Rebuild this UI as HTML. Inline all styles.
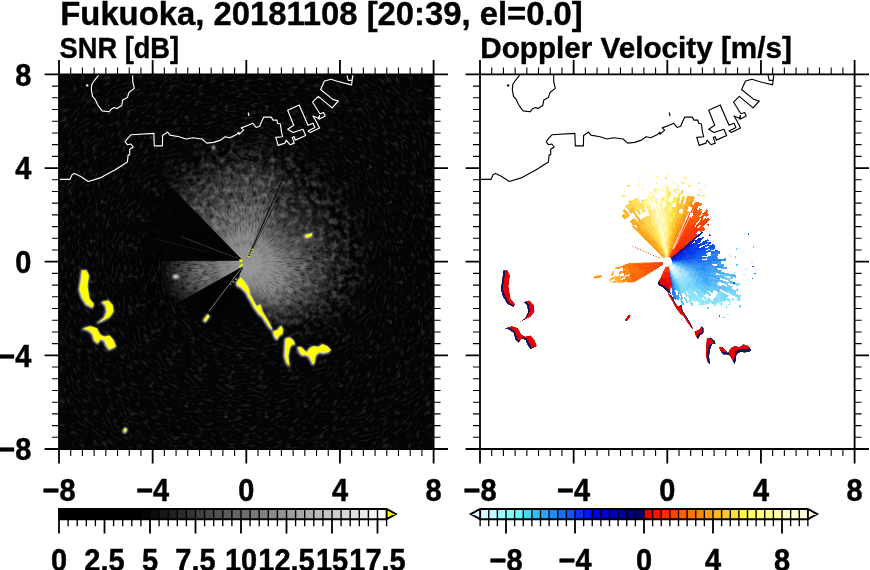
<!DOCTYPE html>
<html><head><meta charset="utf-8"><title>Fukuoka radar</title>
<style>html,body{margin:0;padding:0;background:#fff;}svg{display:block}</style></head>
<body>
<svg width="870" height="570" viewBox="0 0 870 570" font-family='"Liberation Sans", "DejaVu Sans", sans-serif' font-weight="bold" fill="#000" stroke-linejoin="round">
<defs>
<clipPath id="cl"><rect x="59" y="74.4" width="374.6" height="374.6"/></clipPath>
<radialGradient id="gb" gradientUnits="userSpaceOnUse" cx="251.3" cy="264.7" r="105"><stop offset="0" stop-color="#a4a4a4"/><stop offset="0.12" stop-color="#9a9a9a"/><stop offset="0.3" stop-color="#767676"/><stop offset="0.5" stop-color="#505050"/><stop offset="0.7" stop-color="#343434"/><stop offset="0.88" stop-color="#1c1c1c"/><stop offset="1" stop-color="#0e0e0e"/></radialGradient>
<filter id="b4" x="-30%" y="-30%" width="160%" height="160%"><feGaussianBlur stdDeviation="4"/></filter>
<filter id="b5" x="-30%" y="-30%" width="160%" height="160%"><feGaussianBlur stdDeviation="5"/></filter>
<filter id="b6" x="-30%" y="-30%" width="160%" height="160%"><feGaussianBlur stdDeviation="6"/></filter>
<filter id="b7" x="-30%" y="-30%" width="160%" height="160%"><feGaussianBlur stdDeviation="7"/></filter>
<filter id="b8" x="-30%" y="-30%" width="160%" height="160%"><feGaussianBlur stdDeviation="8"/></filter>
<filter id="bl1" x="-20%" y="-20%" width="140%" height="140%"><feGaussianBlur stdDeviation="0.9"/></filter>
<filter id="nz" x="0" y="0" width="100%" height="100%" color-interpolation-filters="sRGB"><feTurbulence type="fractalNoise" baseFrequency="0.14 0.42" numOctaves="2" seed="7"/><feColorMatrix type="matrix" values="0 0 0 0 1  0 0 0 0 1  0 0 0 0 1  0.47 0 0 0 -0.245"/></filter>
<filter id="nzd" x="0" y="0" width="100%" height="100%" color-interpolation-filters="sRGB"><feTurbulence type="fractalNoise" baseFrequency="0.16 0.6" numOctaves="2" seed="11"/><feColorMatrix type="matrix" values="0 0 0 0 0  0 0 0 0 0  0 0 0 0 0  0 2.4 0 0 -1.1"/></filter>
</defs>
<g clip-path="url(#cl)">
<rect x="58" y="73" width="377" height="377" fill="#040404"/>
<path d="M338.3 261.7C338.3 251.4 335.0 240.3 330.9 230.9C326.8 221.5 319.9 212.7 313.7 205.1C307.6 197.5 298.6 190.9 294.0 185.4C289.4 179.9 291.2 176.2 286.2 172.2C281.2 168.2 273.6 163.1 264.0 161.2C254.4 159.4 239.9 158.9 228.6 161.2C217.3 163.6 204.7 169.7 196.3 175.1C187.9 180.5 178.7 184.4 178.4 193.8C178.1 203.3 196.0 220.4 194.3 231.7C192.7 243.0 172.2 253.3 168.3 261.7C164.4 270.1 169.0 275.7 171.0 281.9C172.9 288.0 171.4 294.7 179.8 298.5C188.2 302.4 210.2 302.8 221.3 305.0C232.4 307.2 236.6 309.4 246.3 311.7C256.0 314.0 269.3 318.8 279.3 318.9C289.3 318.9 297.5 316.2 306.1 311.8C314.6 307.4 325.5 300.8 330.9 292.5C336.2 284.1 338.3 272.0 338.3 261.7Z" fill="#1b1b1b" filter="url(#b8)"/>
<path d="M322.3 261.7C321.0 253.3 316.6 244.6 312.1 237.8C307.6 230.9 300.8 225.3 295.3 220.6C289.8 215.8 281.9 214.4 279.2 209.1C276.4 203.8 281.8 194.0 278.8 188.6C275.9 183.3 269.1 178.9 261.2 177.0C253.3 175.1 240.7 174.7 231.4 177.0C222.0 179.3 211.8 185.5 205.3 190.7C198.8 195.8 191.5 199.5 192.6 208.0C193.6 216.5 214.7 232.7 211.7 241.7C208.6 250.7 180.1 255.3 174.3 261.7C168.5 268.1 175.0 274.7 176.8 280.3C178.5 286.0 176.8 293.0 185.1 295.6C193.3 298.3 216.1 295.3 226.3 296.3C236.5 297.4 238.0 298.8 246.3 301.7C254.6 304.6 267.4 312.8 276.3 313.7C285.2 314.5 292.7 310.9 299.9 306.7C307.1 302.5 315.9 295.9 319.6 288.4C323.3 280.9 323.6 270.1 322.3 261.7Z" fill="#404040" filter="url(#b7)"/>
<path d="M304.3 261.7C302.7 255.4 297.3 249.3 293.3 244.6C289.2 239.9 284.0 236.8 280.0 233.4C276.1 230.0 271.3 228.5 269.6 224.4C267.9 220.3 272.0 212.3 269.9 208.7C267.7 205.1 262.3 203.3 256.7 202.6C251.1 201.9 242.6 202.8 236.2 204.6C229.8 206.3 222.7 209.8 218.3 213.2C213.9 216.6 209.2 219.3 209.5 224.9C209.9 230.5 223.5 240.6 220.3 246.7C217.1 252.8 195.0 256.8 190.3 261.7C185.6 266.6 190.7 271.8 192.2 276.2C193.7 280.6 192.6 286.0 199.1 287.9C205.6 289.8 223.4 287.0 231.3 287.7C239.2 288.3 239.6 288.8 246.3 291.7C253.0 294.6 263.9 303.8 271.3 305.0C278.7 306.2 285.5 302.8 290.7 299.0C296.0 295.2 300.4 288.4 302.7 282.2C304.9 276.0 305.9 268.0 304.3 261.7Z" fill="#666666" filter="url(#b6)"/>
<path d="M286.3 261.7C284.4 257.4 279.2 254.0 276.4 250.8C273.5 247.5 271.6 244.8 269.3 242.4C266.9 240.0 263.6 238.5 262.2 236.3C260.8 234.0 262.5 230.8 260.9 228.8C259.4 226.8 256.4 224.7 252.9 224.3C249.4 223.8 244.0 224.9 240.0 226.2C236.1 227.6 232.0 230.1 229.3 232.3C226.6 234.4 223.7 235.8 223.7 239.1C223.6 242.3 230.5 247.9 229.0 251.7C227.4 255.5 216.6 258.7 214.3 261.7C212.0 264.7 214.4 267.6 215.4 270.0C216.4 272.4 216.9 274.2 220.1 276.2C223.2 278.3 229.9 280.9 234.3 282.5C238.7 284.1 241.0 283.4 246.3 285.7C251.6 288.0 260.7 295.6 266.3 296.3C271.9 297.1 276.4 293.2 280.0 290.0C283.6 286.7 286.6 281.5 287.6 276.7C288.7 272.0 288.2 266.0 286.3 261.7Z" fill="#8c8c8c" filter="url(#b5)"/>
<path d="M266.3 261.7C265.4 259.5 262.9 257.7 261.3 256.2C259.8 254.7 258.3 253.8 257.0 252.7C255.8 251.6 254.6 250.5 253.7 249.8C252.9 249.2 252.8 249.2 252.0 248.9C251.2 248.6 250.1 248.1 248.7 247.9C247.4 247.7 245.4 247.6 243.9 247.9C242.3 248.2 240.5 248.9 239.3 249.6C238.1 250.2 236.7 250.6 236.4 251.8C236.1 253.0 238.3 255.1 237.6 256.7C237.0 258.3 233.1 260.3 232.3 261.7C231.5 263.1 232.5 264.2 232.8 265.3C233.1 266.5 232.8 267.4 234.1 268.5C235.3 269.6 238.3 270.9 240.3 272.1C242.3 273.3 243.6 274.5 246.3 275.7C249.0 276.9 253.2 278.8 256.3 279.0C259.4 279.3 262.9 278.8 264.7 277.1C266.5 275.5 266.7 271.8 267.0 269.2C267.2 266.7 267.2 263.9 266.3 261.7Z" fill="#989898" filter="url(#b4)"/>
<radialGradient id="gm" gradientUnits="userSpaceOnUse" cx="251.3" cy="264.7" r="105"><stop offset="0" stop-color="#111"/><stop offset="0.2" stop-color="#444"/><stop offset="0.5" stop-color="#ccc"/><stop offset="1" stop-color="#fff"/></radialGradient>
<mask id="mk" maskUnits="userSpaceOnUse" x="130" y="150" width="240" height="230"><rect x="130" y="150" width="240" height="230" fill="url(#gm)"/></mask>
<g mask="url(#mk)">
<clipPath id="sb0"><path d="M246.3 261.7L359.4 282.3L361.1 268.6L361.1 254.8L359.4 241.1Z"/></clipPath>
<g clip-path="url(#sb0)"><g transform="rotate(-0.0 246.3 261.7)"><rect x="244.3" y="201.7" width="120" height="120" filter="url(#nzd)"/></g></g>
<clipPath id="sb1"><path d="M246.3 261.7L359.7 242.3L356.5 228.9L351.8 216.0L345.6 203.7Z"/></clipPath>
<g clip-path="url(#sb1)"><g transform="rotate(-20.0 246.3 261.7)"><rect x="244.3" y="201.7" width="120" height="120" filter="url(#nzd)"/></g></g>
<clipPath id="sb2"><path d="M246.3 261.7L346.2 204.7L338.7 193.2L329.8 182.6L319.8 173.2Z"/></clipPath>
<g clip-path="url(#sb2)"><g transform="rotate(-40.0 246.3 261.7)"><rect x="244.3" y="201.7" width="120" height="120" filter="url(#nzd)"/></g></g>
<clipPath id="sb3"><path d="M246.3 261.7L320.7 174.0L309.7 165.7L297.7 158.8L285.1 153.4Z"/></clipPath>
<g clip-path="url(#sb3)"><g transform="rotate(-60.0 246.3 261.7)"><rect x="244.3" y="201.7" width="120" height="120" filter="url(#nzd)"/></g></g>
<clipPath id="sb4"><path d="M246.3 261.7L286.2 153.8L273.0 149.8L259.5 147.5L245.7 146.7Z"/></clipPath>
<g clip-path="url(#sb4)"><g transform="rotate(-80.0 246.3 261.7)"><rect x="244.3" y="201.7" width="120" height="120" filter="url(#nzd)"/></g></g>
<clipPath id="sb5"><path d="M246.3 261.7L246.9 146.7L233.1 147.5L219.6 149.8L206.4 153.8Z"/></clipPath>
<g clip-path="url(#sb5)"><g transform="rotate(-100.0 246.3 261.7)"><rect x="244.3" y="201.7" width="120" height="120" filter="url(#nzd)"/></g></g>
<clipPath id="sb6"><path d="M246.3 261.7L207.5 153.4L194.9 158.8L182.9 165.7L171.9 174.0Z"/></clipPath>
<g clip-path="url(#sb6)"><g transform="rotate(-120.0 246.3 261.7)"><rect x="244.3" y="201.7" width="120" height="120" filter="url(#nzd)"/></g></g>
<clipPath id="sb9"><path d="M246.3 261.7L133.2 241.1L131.5 254.8L131.5 268.6L133.2 282.3Z"/></clipPath>
<g clip-path="url(#sb9)"><g transform="rotate(-180.0 246.3 261.7)"><rect x="244.3" y="201.7" width="120" height="120" filter="url(#nzd)"/></g></g>
<clipPath id="sb10"><path d="M246.3 261.7L132.9 281.1L136.1 294.5L140.8 307.4L147.0 319.7Z"/></clipPath>
<g clip-path="url(#sb10)"><g transform="rotate(-200.0 246.3 261.7)"><rect x="244.3" y="201.7" width="120" height="120" filter="url(#nzd)"/></g></g>
<clipPath id="sb15"><path d="M246.3 261.7L285.1 370.0L297.7 364.6L309.7 357.7L320.7 349.4Z"/></clipPath>
<g clip-path="url(#sb15)"><g transform="rotate(-300.0 246.3 261.7)"><rect x="244.3" y="201.7" width="120" height="120" filter="url(#nzd)"/></g></g>
<clipPath id="sb16"><path d="M246.3 261.7L319.8 350.2L329.8 340.8L338.7 330.2L346.2 318.7Z"/></clipPath>
<g clip-path="url(#sb16)"><g transform="rotate(-320.0 246.3 261.7)"><rect x="244.3" y="201.7" width="120" height="120" filter="url(#nzd)"/></g></g>
<clipPath id="sb17"><path d="M246.3 261.7L345.6 319.7L351.8 307.4L356.5 294.5L359.7 281.1Z"/></clipPath>
<g clip-path="url(#sb17)"><g transform="rotate(-340.0 246.3 261.7)"><rect x="244.3" y="201.7" width="120" height="120" filter="url(#nzd)"/></g></g>
</g>
<filter id="nzh" x="0" y="0" width="100%" height="100%" color-interpolation-filters="sRGB"><feTurbulence type="fractalNoise" baseFrequency="0.16 0.16" numOctaves="2" seed="23"/><feColorMatrix type="matrix" values="0 0 0 0 1  0 0 0 0 1  0 0 0 0 1  1.5 0 0 0 -0.6"/></filter>
<mask id="mh" maskUnits="userSpaceOnUse" x="100" y="110" width="300" height="300"><rect x="100" y="110" width="300" height="300" fill="#000"/><path d="M362.3 261.7C363.2 243.2 354.7 221.4 345.0 204.7C335.4 188.0 320.8 171.7 304.3 161.2C287.8 150.7 265.6 141.7 246.3 141.7C227.0 141.7 202.3 153.0 188.3 161.2C174.3 169.5 163.3 178.2 162.0 191.0C160.7 203.7 176.5 226.0 180.5 237.8C184.6 249.5 184.7 254.3 186.3 261.7C187.9 269.1 186.3 276.9 189.9 282.2C193.5 287.6 201.5 289.4 208.0 293.8C214.5 298.2 221.1 304.2 229.2 308.7C237.3 313.2 246.9 316.5 256.7 320.8C266.6 325.1 274.4 335.3 288.3 334.4C302.2 333.6 327.5 327.8 339.8 315.7C352.2 303.6 361.4 280.2 362.3 261.7Z" fill="#fff" filter="url(#b8)"/><circle cx="250.3" cy="263.7" r="42" fill="#000" filter="url(#b8)"/></mask>
<g mask="url(#mh)" opacity="0.36"><rect x="100" y="110" width="300" height="300" filter="url(#nzh)"/></g>
<path d="M242.8 260.6L155.7 171.0L147.1 180.2L139.5 190.2L133.0 200.9L127.5 212.3L123.3 224.1L120.2 236.3L118.4 248.7L117.8 261.3ZM242.6 266.8L130.6 328.9L144.4 348.9L161.6 365.9L181.8 379.4L204.1 388.9L227.8 393.9L252.1 394.4L276.0 390.4L298.7 381.8L281.0 336.0L272.0 326.0L262.0 313.0L250.0 298.0L241.0 284.0L239.0 275.0L243.0 268.0Z" fill="#040404"/>
<path d="M248.7 256.2L286.5 170.1" stroke="#050505" stroke-width="1.1" opacity="0.9"/>
<path d="M249.0 256.3L290.9 172.2" stroke="#050505" stroke-width="0.8" opacity="0.7"/>
<path d="M248.5 256.1L282.1 168.3" stroke="#050505" stroke-width="0.6" opacity="0.4"/>
<radialGradient id="gn" gradientUnits="userSpaceOnUse" cx="249.3" cy="261.7" r="100"><stop offset="0" stop-color="#000"/><stop offset="0.42" stop-color="#000"/><stop offset="0.85" stop-color="#fff"/><stop offset="1" stop-color="#fff"/></radialGradient>
<mask id="mn" maskUnits="userSpaceOnUse" x="58" y="73" width="377" height="377"><rect x="58" y="73" width="377" height="377" fill="#fff"/><circle cx="249.3" cy="261.7" r="100" fill="url(#gn)"/></mask>
<g mask="url(#mn)">
<clipPath id="sw0"><path d="M246.3 261.7L533.6 301.1L535.6 281.4L536.3 261.7L535.6 242.0L533.6 222.3Z"/></clipPath>
<g clip-path="url(#sw0)"><g transform="rotate(-90.0 246.3 261.7)"><rect x="-33.69999999999999" y="-18.30000000000001" width="560" height="560" filter="url(#nz)"/></g></g>
<clipPath id="sw1"><path d="M246.3 261.7L534.0 225.4L530.9 205.9L526.4 186.6L520.7 167.8L513.6 149.3Z"/></clipPath>
<g clip-path="url(#sw1)"><g transform="rotate(-105.0 246.3 261.7)"><rect x="-33.69999999999999" y="-18.30000000000001" width="560" height="560" filter="url(#nz)"/></g></g>
<clipPath id="sw2"><path d="M246.3 261.7L514.8 152.1L506.7 134.1L497.4 116.7L487.0 100.0L475.4 84.0Z"/></clipPath>
<g clip-path="url(#sw2)"><g transform="rotate(-120.0 246.3 261.7)"><rect x="-33.69999999999999" y="-18.30000000000001" width="560" height="560" filter="url(#nz)"/></g></g>
<clipPath id="sw3"><path d="M246.3 261.7L477.3 86.4L464.8 71.1L451.4 56.6L436.9 43.2L421.6 30.7Z"/></clipPath>
<g clip-path="url(#sw3)"><g transform="rotate(-135.0 246.3 261.7)"><rect x="-33.69999999999999" y="-18.30000000000001" width="560" height="560" filter="url(#nz)"/></g></g>
<clipPath id="sw4"><path d="M246.3 261.7L424.0 32.6L408.0 21.0L391.3 10.6L373.9 1.3L355.9 -6.8Z"/></clipPath>
<g clip-path="url(#sw4)"><g transform="rotate(-150.0 246.3 261.7)"><rect x="-33.69999999999999" y="-18.30000000000001" width="560" height="560" filter="url(#nz)"/></g></g>
<clipPath id="sw5"><path d="M246.3 261.7L358.7 -5.6L340.2 -12.7L321.4 -18.4L302.1 -22.9L282.6 -26.0Z"/></clipPath>
<g clip-path="url(#sw5)"><g transform="rotate(-165.0 246.3 261.7)"><rect x="-33.69999999999999" y="-18.30000000000001" width="560" height="560" filter="url(#nz)"/></g></g>
<clipPath id="sw6"><path d="M246.3 261.7L285.7 -25.6L266.0 -27.6L246.3 -28.3L226.6 -27.6L206.9 -25.6Z"/></clipPath>
<g clip-path="url(#sw6)"><g transform="rotate(-180.0 246.3 261.7)"><rect x="-33.69999999999999" y="-18.30000000000001" width="560" height="560" filter="url(#nz)"/></g></g>
<clipPath id="sw7"><path d="M246.3 261.7L210.0 -26.0L190.5 -22.9L171.2 -18.4L152.4 -12.7L133.9 -5.6Z"/></clipPath>
<g clip-path="url(#sw7)"><g transform="rotate(-195.0 246.3 261.7)"><rect x="-33.69999999999999" y="-18.30000000000001" width="560" height="560" filter="url(#nz)"/></g></g>
<clipPath id="sw8"><path d="M246.3 261.7L136.7 -6.8L118.7 1.3L101.3 10.6L84.6 21.0L68.6 32.6Z"/></clipPath>
<g clip-path="url(#sw8)"><g transform="rotate(-210.0 246.3 261.7)"><rect x="-33.69999999999999" y="-18.30000000000001" width="560" height="560" filter="url(#nz)"/></g></g>
<clipPath id="sw9"><path d="M246.3 261.7L71.0 30.7L55.7 43.2L41.2 56.6L27.8 71.1L15.3 86.4Z"/></clipPath>
<g clip-path="url(#sw9)"><g transform="rotate(-225.0 246.3 261.7)"><rect x="-33.69999999999999" y="-18.30000000000001" width="560" height="560" filter="url(#nz)"/></g></g>
<clipPath id="sw10"><path d="M246.3 261.7L17.2 84.0L5.6 100.0L-4.8 116.7L-14.1 134.1L-22.2 152.1Z"/></clipPath>
<g clip-path="url(#sw10)"><g transform="rotate(-240.0 246.3 261.7)"><rect x="-33.69999999999999" y="-18.30000000000001" width="560" height="560" filter="url(#nz)"/></g></g>
<clipPath id="sw11"><path d="M246.3 261.7L-21.0 149.3L-28.1 167.8L-33.8 186.6L-38.3 205.9L-41.4 225.4Z"/></clipPath>
<g clip-path="url(#sw11)"><g transform="rotate(-255.0 246.3 261.7)"><rect x="-33.69999999999999" y="-18.30000000000001" width="560" height="560" filter="url(#nz)"/></g></g>
<clipPath id="sw12"><path d="M246.3 261.7L-41.0 222.3L-43.0 242.0L-43.7 261.7L-43.0 281.4L-41.0 301.1Z"/></clipPath>
<g clip-path="url(#sw12)"><g transform="rotate(-270.0 246.3 261.7)"><rect x="-33.69999999999999" y="-18.30000000000001" width="560" height="560" filter="url(#nz)"/></g></g>
<clipPath id="sw13"><path d="M246.3 261.7L-41.4 298.0L-38.3 317.5L-33.8 336.8L-28.1 355.6L-21.0 374.1Z"/></clipPath>
<g clip-path="url(#sw13)"><g transform="rotate(-285.0 246.3 261.7)"><rect x="-33.69999999999999" y="-18.30000000000001" width="560" height="560" filter="url(#nz)"/></g></g>
<clipPath id="sw14"><path d="M246.3 261.7L-22.2 371.3L-14.1 389.3L-4.8 406.7L5.6 423.4L17.2 439.4Z"/></clipPath>
<g clip-path="url(#sw14)"><g transform="rotate(-300.0 246.3 261.7)"><rect x="-33.69999999999999" y="-18.30000000000001" width="560" height="560" filter="url(#nz)"/></g></g>
<clipPath id="sw15"><path d="M246.3 261.7L15.3 437.0L27.8 452.3L41.2 466.8L55.7 480.2L71.0 492.7Z"/></clipPath>
<g clip-path="url(#sw15)"><g transform="rotate(-315.0 246.3 261.7)"><rect x="-33.69999999999999" y="-18.30000000000001" width="560" height="560" filter="url(#nz)"/></g></g>
<clipPath id="sw16"><path d="M246.3 261.7L68.6 490.8L84.6 502.4L101.3 512.8L118.7 522.1L136.7 530.2Z"/></clipPath>
<g clip-path="url(#sw16)"><g transform="rotate(-330.0 246.3 261.7)"><rect x="-33.69999999999999" y="-18.30000000000001" width="560" height="560" filter="url(#nz)"/></g></g>
<clipPath id="sw17"><path d="M246.3 261.7L133.9 529.0L152.4 536.1L171.2 541.8L190.5 546.3L210.0 549.4Z"/></clipPath>
<g clip-path="url(#sw17)"><g transform="rotate(-345.0 246.3 261.7)"><rect x="-33.69999999999999" y="-18.30000000000001" width="560" height="560" filter="url(#nz)"/></g></g>
<clipPath id="sw18"><path d="M246.3 261.7L206.9 549.0L226.6 551.0L246.3 551.7L266.0 551.0L285.7 549.0Z"/></clipPath>
<g clip-path="url(#sw18)"><g transform="rotate(-360.0 246.3 261.7)"><rect x="-33.69999999999999" y="-18.30000000000001" width="560" height="560" filter="url(#nz)"/></g></g>
<clipPath id="sw19"><path d="M246.3 261.7L282.6 549.4L302.1 546.3L321.4 541.8L340.2 536.1L358.7 529.0Z"/></clipPath>
<g clip-path="url(#sw19)"><g transform="rotate(-375.0 246.3 261.7)"><rect x="-33.69999999999999" y="-18.30000000000001" width="560" height="560" filter="url(#nz)"/></g></g>
<clipPath id="sw20"><path d="M246.3 261.7L355.9 530.2L373.9 522.1L391.3 512.8L408.0 502.4L424.0 490.8Z"/></clipPath>
<g clip-path="url(#sw20)"><g transform="rotate(-390.0 246.3 261.7)"><rect x="-33.69999999999999" y="-18.30000000000001" width="560" height="560" filter="url(#nz)"/></g></g>
<clipPath id="sw21"><path d="M246.3 261.7L421.6 492.7L436.9 480.2L451.4 466.8L464.8 452.3L477.3 437.0Z"/></clipPath>
<g clip-path="url(#sw21)"><g transform="rotate(-405.0 246.3 261.7)"><rect x="-33.69999999999999" y="-18.30000000000001" width="560" height="560" filter="url(#nz)"/></g></g>
<clipPath id="sw22"><path d="M246.3 261.7L475.4 439.4L487.0 423.4L497.4 406.7L506.7 389.3L514.8 371.3Z"/></clipPath>
<g clip-path="url(#sw22)"><g transform="rotate(-420.0 246.3 261.7)"><rect x="-33.69999999999999" y="-18.30000000000001" width="560" height="560" filter="url(#nz)"/></g></g>
<clipPath id="sw23"><path d="M246.3 261.7L513.6 374.1L520.7 355.6L526.4 336.8L530.9 317.5L534.0 298.0Z"/></clipPath>
<g clip-path="url(#sw23)"><g transform="rotate(-435.0 246.3 261.7)"><rect x="-33.69999999999999" y="-18.30000000000001" width="560" height="560" filter="url(#nz)"/></g></g>
</g>
<path d="M242.8 260.6L171.7 187.5L164.7 195.0L158.5 203.2L153.2 211.9L148.7 221.2L145.3 230.8L142.8 240.7L141.3 250.9L140.8 261.1ZM242.6 266.8L181.4 300.7L184.7 306.1L188.4 311.1L192.6 315.8L197.1 320.0L202.1 323.9L207.3 327.3L212.9 330.2L218.7 332.6Z" fill="#040404" opacity="0.8"/>
<path d="M238.8 258.8L180.9 236.6" stroke="#999" stroke-width="0.7" opacity="0.45"/>
<path d="M242.7 266.5L209.0 311.2" stroke="#ddd" stroke-width="0.7" opacity="0.8"/>
<path d="M207.5 252.0L154.1 238.7" stroke="#555" stroke-width="0.7" opacity="0.3"/>
<ellipse cx="175.9" cy="276.6" rx="3.2" ry="2" fill="#ddd" filter="url(#bl1)"/>
<ellipse cx="213.5" cy="147.5" rx="1.2" ry="2.2" fill="#eee" filter="url(#bl1)"/>
<ellipse cx="125" cy="430.5" rx="2" ry="3" fill="#fff" filter="url(#bl1)" transform="rotate(25 125 430.5)"/>
<ellipse cx="125.3" cy="429.5" rx="1.3" ry="1.6" fill="#ff0"/>
<path d="M236.6 282.4L240.4 277.5L244.3 281.4L248.2 287.2L250.1 294.0L246.2 292.0L241.4 287.2L237.5 285.3ZM246.6 292.0L251.1 295.9L254.0 301.7L256.9 306.5L260.7 304.6L261.7 310.4L265.5 316.2L268.4 321.0L271.3 326.8L272.3 329.7L269.4 326.8L265.5 321.0L262.6 316.2L259.7 314.2L256.9 310.4L254.0 306.5L251.1 300.7L247.8 295.5ZM273.3 331.6L278.1 329.7L281.0 325.8L282.9 328.7L282.5 333.5L279.1 335.5L277.1 339.3L275.6 337.4L274.2 334.5ZM285.8 338.4L289.7 337.4L293.5 340.3L294.9 344.2L291.6 344.2L289.7 348.0L288.3 355.7L289.3 365.4L286.8 362.5L284.8 355.7L285.2 347.0ZM298.0 347.0L301.3 347.0L304.2 349.9L307.0 352.8L309.9 348.0L313.8 346.1L318.6 347.0L322.5 344.2L327.3 346.1L330.8 349.9L328.3 351.9L323.5 352.8L319.6 351.9L315.7 354.8L314.8 361.5L313.4 364.4L310.9 359.6L309.0 355.7L306.1 354.8L302.2 354.8L299.3 350.9ZM203.8 320.1L207.8 314.3L209.6 316.1L205.7 321.4ZM82.2 270.3L86.4 270.3L88.9 275.6L87.4 286.1L89.5 298.8L93.8 304.0L92.7 307.2L86.4 304.0L81.8 296.7L79.6 289.3L81.1 279.8ZM102.2 301.9L108.5 300.5L112.7 305.1L113.4 311.4L109.6 316.7L104.3 319.4L98.0 322.4L104.3 317.7L107.0 311.4L105.8 305.1ZM83.2 328.3L90.6 326.2L96.9 328.3L100.1 334.6L104.3 336.7L109.6 335.6L113.4 339.9L115.9 346.2L109.6 349.3L106.4 345.1L104.3 339.9L100.1 338.8L98.0 343.0L94.4 339.9L92.7 333.5L88.5 329.9ZM305.8 234.8L312.4 233.3L311.6 235.9L306.3 237.5Z" fill="#fff" stroke="#fff" stroke-width="1.6" stroke-linejoin="round" filter="url(#bl1)" opacity="0.85" transform="translate(-0.5 0.6)"/>
<path d="M236.6 282.4L240.4 277.5L244.3 281.4L248.2 287.2L250.1 294.0L246.2 292.0L241.4 287.2L237.5 285.3ZM246.6 292.0L251.1 295.9L254.0 301.7L256.9 306.5L260.7 304.6L261.7 310.4L265.5 316.2L268.4 321.0L271.3 326.8L272.3 329.7L269.4 326.8L265.5 321.0L262.6 316.2L259.7 314.2L256.9 310.4L254.0 306.5L251.1 300.7L247.8 295.5ZM273.3 331.6L278.1 329.7L281.0 325.8L282.9 328.7L282.5 333.5L279.1 335.5L277.1 339.3L275.6 337.4L274.2 334.5ZM285.8 338.4L289.7 337.4L293.5 340.3L294.9 344.2L291.6 344.2L289.7 348.0L288.3 355.7L289.3 365.4L286.8 362.5L284.8 355.7L285.2 347.0ZM298.0 347.0L301.3 347.0L304.2 349.9L307.0 352.8L309.9 348.0L313.8 346.1L318.6 347.0L322.5 344.2L327.3 346.1L330.8 349.9L328.3 351.9L323.5 352.8L319.6 351.9L315.7 354.8L314.8 361.5L313.4 364.4L310.9 359.6L309.0 355.7L306.1 354.8L302.2 354.8L299.3 350.9ZM203.8 320.1L207.8 314.3L209.6 316.1L205.7 321.4ZM82.2 270.3L86.4 270.3L88.9 275.6L87.4 286.1L89.5 298.8L93.8 304.0L92.7 307.2L86.4 304.0L81.8 296.7L79.6 289.3L81.1 279.8ZM102.2 301.9L108.5 300.5L112.7 305.1L113.4 311.4L109.6 316.7L104.3 319.4L98.0 322.4L104.3 317.7L107.0 311.4L105.8 305.1ZM83.2 328.3L90.6 326.2L96.9 328.3L100.1 334.6L104.3 336.7L109.6 335.6L113.4 339.9L115.9 346.2L109.6 349.3L106.4 345.1L104.3 339.9L100.1 338.8L98.0 343.0L94.4 339.9L92.7 333.5L88.5 329.9ZM305.8 234.8L312.4 233.3L311.6 235.9L306.3 237.5Z" fill="#ffff00"/>
<rect x="239.3" y="259.3" width="3.1" height="2.5" fill="#ff0"/>
<path d="M242.8 264L239.3 267" stroke="#ff0" stroke-width="1.3"/>
<path d="M248.6 257.2L252.6 248.6" stroke="#ff0" stroke-width="1.2" stroke-dasharray="1.4 1.2"/>
<path d="M236.5 278.5L230.5 284.5" stroke="#ff0" stroke-width="1.1" stroke-dasharray="1.6 2.2"/>
<path d="M98.7 75.1L94.5 80.3L91.8 84.3L91.3 89.5L92.5 96.4L95.2 99.4L97.5 104.5L99.8 107.9L102.1 110.9L109.0 111.8L111.3 109.1L114.3 107.5L117.1 108.6L121.7 105.6L122.8 99.9L127.4 97.6L129.0 92.5L134.3 88.4L132.7 81.5L132.7 75.1M59.6 179.4L69.9 179.4L72.2 174.6L74.5 173.4L80.3 176.2L88.3 181.5L101.0 177.6L114.8 170.0L127.4 162.0L128.1 155.1L129.7 154.6L129.7 149.3L133.2 147.0L130.9 144.0L127.4 144.7L125.1 141.7L128.1 137.8L130.9 134.8L153.9 133.4L154.3 145.9L162.4 145.9L162.6 135.5L167.6 132.1L169.9 135.1L179.1 136.7L186.0 139.0L192.9 137.8L202.1 139.0L206.7 143.1L213.6 142.4L220.5 140.1L225.1 136.7L229.7 137.8L236.6 134.4L238.9 132.1L239.0 134.4L243.6 130.2L241.3 127.9L248.2 125.2L252.8 123.3L256.2 127.5L259.7 126.3L261.5 121.7L263.8 117.1L271.2 117.1L273.0 120.1L276.9 120.1L277.6 123.3L280.4 124.0L281.5 132.1L282.7 136.7L275.8 137.4L278.1 145.4L285.0 143.1L286.1 140.1L290.0 144.7L294.2 143.1L292.3 137.4L294.2 136.7L295.3 140.1L305.7 135.5L302.9 129.3L293.0 132.5L287.7 129.3L293.7 125.2L287.7 110.2L299.2 104.9L308.0 125.2L313.0 123.3L314.9 127.5L308.0 130.9L310.3 132.5L319.5 127.9L316.0 121.0L313.0 116.0L318.3 118.3L319.5 115.5L319.0 119.2L325.2 116.0L323.6 112.5L319.9 113.7L312.6 102.2L318.3 96.4L332.1 107.9L338.3 101.0L332.8 99.4L320.6 89.5L324.5 81.0L331.0 79.2L337.9 81.5L351.6 84.9L352.8 75.1M347.0 75.1L348.2 80.3L351.6 80.3M248.2 112.5L249.1 116.0" fill="none" stroke="#fff" stroke-width="1.15" stroke-linejoin="round"/>
<circle cx="87.2" cy="85.4" r="1.2" fill="#fff"/>
</g>
<defs><clipPath id="cr"><rect x="480" y="74.4" width="374.6" height="374.6"/></clipPath>
<clipPath id="cw"><path d="M663.6 261.9L620.6 263.4L616.9 265.5L610.8 274.7L608.3 280.9L613.3 283.1L634.1 282.3L663.6 264.9Z"/></clipPath><clipPath id="cs"><path d="M665.5 266.7L658.5 282.3L669.8 292.2L671.2 284.5L668.8 266.7Z"/></clipPath></defs>
<g clip-path="url(#cr)">
<path d="M519.7 75.1L515.5 80.3L512.8 84.3L512.3 89.5L513.5 96.4L516.2 99.4L518.5 104.5L520.8 107.9L523.1 110.9L530.0 111.8L532.3 109.1L535.3 107.5L538.1 108.6L542.7 105.6L543.8 99.9L548.4 97.6L550.0 92.5L555.3 88.4L553.7 81.5L553.7 75.1M480.6 179.4L490.9 179.4L493.2 174.6L495.5 173.4L501.3 176.2L509.3 181.5L522.0 177.6L535.8 170.0L548.4 162.0L549.1 155.1L550.7 154.6L550.7 149.3L554.2 147.0L551.9 144.0L548.4 144.7L546.1 141.7L549.1 137.8L551.9 134.8L574.9 133.4L575.3 145.9L583.4 145.9L583.6 135.5L588.6 132.1L590.9 135.1L600.1 136.7L607.0 139.0L613.9 137.8L623.1 139.0L627.7 143.1L634.6 142.4L641.5 140.1L646.1 136.7L650.7 137.8L657.6 134.4L659.9 132.1L660.0 134.4L664.6 130.2L662.3 127.9L669.2 125.2L673.8 123.3L677.2 127.5L680.7 126.3L682.5 121.7L684.8 117.1L692.2 117.1L694.0 120.1L697.9 120.1L698.6 123.3L701.4 124.0L702.5 132.1L703.7 136.7L696.8 137.4L699.1 145.4L706.0 143.1L707.1 140.1L711.0 144.7L715.2 143.1L713.3 137.4L715.2 136.7L716.3 140.1L726.7 135.5L723.9 129.3L714.0 132.5L708.7 129.3L714.7 125.2L708.7 110.2L720.2 104.9L729.0 125.2L734.0 123.3L735.9 127.5L729.0 130.9L731.3 132.5L740.5 127.9L737.0 121.0L734.0 116.0L739.3 118.3L740.5 115.5L740.0 119.2L746.2 116.0L744.6 112.5L740.9 113.7L733.6 102.2L739.3 96.4L753.1 107.9L759.3 101.0L753.8 99.4L741.6 89.5L745.5 81.0L752.0 79.2L758.9 81.5L772.6 84.9L773.8 75.1M768.0 75.1L769.2 80.3L772.6 80.3M669.2 112.5L670.1 116.0" fill="none" stroke="#000" stroke-width="1.15" stroke-linejoin="round"/>
<circle cx="508.2" cy="85.4" r="1.2" fill="#000"/>
<g shape-rendering="crispEdges">
<path d="M664.2 258.5L660.4 254.7L660.7 254.4L664.3 258.4Z" fill="#ff9711"/>
<path d="M660.7 255.0L656.8 251.2L657.3 250.8L660.9 254.7Z" fill="#ff9c14"/>
<path d="M657.1 251.5L653.3 247.7L653.9 247.1L657.5 251.1Z" fill="#ffa318"/>
<path d="M653.6 248.0L649.7 244.2L650.5 243.4L654.2 247.4Z" fill="#ffa118"/>
<path d="M650.0 244.4L646.2 240.6L647.1 239.8L650.8 243.7Z" fill="#ffa91d"/>
<path d="M646.5 240.9L642.6 237.1L643.7 236.1L647.4 240.1Z" fill="#fb9313"/>
<path d="M642.9 237.4L639.1 233.6L640.3 232.4L644.0 236.4Z" fill="#ffa21c"/>
<path d="M639.4 233.9L635.5 230.1L636.9 228.8L640.6 232.7Z" fill="#ffb225"/>
<path d="M635.8 230.3L632.0 226.5L633.5 225.1L637.2 229.0Z" fill="#ffac23"/>
<path d="M625.2 219.8L621.3 216.0L623.3 214.1L627.0 218.0Z" fill="#ffb029"/>
<path d="M664.3 258.4L660.6 254.5L660.9 254.2L664.5 258.3Z" fill="#ffa218"/>
<path d="M660.9 254.8L657.2 250.8L657.7 250.4L661.2 254.5Z" fill="#ffa118"/>
<path d="M657.5 251.1L653.8 247.2L654.4 246.6L657.9 250.7Z" fill="#fc9312"/>
<path d="M654.1 247.5L650.4 243.5L651.1 242.9L654.7 246.9Z" fill="#ffa81e"/>
<path d="M650.6 243.8L646.9 239.9L647.9 239.1L651.4 243.2Z" fill="#fc9817"/>
<path d="M647.2 240.2L643.5 236.3L644.6 235.3L648.1 239.4Z" fill="#ffa920"/>
<path d="M643.8 236.6L640.1 232.6L641.3 231.5L644.9 235.6Z" fill="#fc9e1c"/>
<path d="M640.4 232.9L636.7 229.0L638.1 227.7L641.6 231.8Z" fill="#fb9d1d"/>
<path d="M633.5 225.6L629.8 221.7L631.5 220.1L635.1 224.2Z" fill="#fda826"/>
<path d="M626.7 218.3L623.7 215.2L625.7 213.4L628.5 216.7Z" fill="#ffc236"/>
<path d="M664.4 258.3L660.9 254.3L661.2 254.0L664.6 258.2Z" fill="#fd9312"/>
<path d="M661.1 254.6L657.6 250.5L658.1 250.1L661.4 254.3Z" fill="#ffab1e"/>
<path d="M657.8 250.8L654.3 246.7L654.9 246.2L658.3 250.4Z" fill="#ffa61d"/>
<path d="M654.6 247.0L651.0 243.0L651.8 242.3L655.2 246.5Z" fill="#ffb024"/>
<path d="M651.3 243.3L647.7 239.2L648.7 238.4L652.0 242.6Z" fill="#ffb125"/>
<path d="M648.0 239.5L644.4 235.4L645.5 234.5L648.9 238.7Z" fill="#fda31f"/>
<path d="M644.7 235.7L641.1 231.7L642.4 230.6L645.8 234.8Z" fill="#fea722"/>
<path d="M641.4 232.0L637.8 227.9L639.3 226.7L642.6 230.9Z" fill="#fca423"/>
<path d="M638.1 228.2L634.5 224.2L636.1 222.8L639.5 227.0Z" fill="#fca625"/>
<path d="M634.8 224.5L631.2 220.4L633.0 218.9L636.4 223.1Z" fill="#fba627"/>
<path d="M628.2 216.9L624.7 212.9L626.7 211.1L630.1 215.3Z" fill="#ffbc36"/>
<path d="M624.9 213.2L622.7 210.6L624.8 208.8L627.0 211.4Z" fill="#fdb433"/>
<path d="M664.6 258.2L661.1 254.0L661.5 253.8L664.7 258.1Z" fill="#fd9c18"/>
<path d="M661.4 254.3L658.0 250.2L658.5 249.8L661.7 254.1Z" fill="#ffa31c"/>
<path d="M658.2 250.5L654.8 246.3L655.5 245.8L658.7 250.1Z" fill="#ffac22"/>
<path d="M655.1 246.6L651.7 242.4L652.5 241.8L655.7 246.1Z" fill="#fb9c1b"/>
<path d="M651.9 242.7L648.5 238.5L649.5 237.8L652.7 242.1Z" fill="#ffb82b"/>
<path d="M648.8 238.8L645.3 234.7L646.5 233.8L649.7 238.1Z" fill="#fba020"/>
<path d="M645.6 235.0L642.2 230.8L643.5 229.8L646.7 234.1Z" fill="#ffb72d"/>
<path d="M642.4 231.1L639.0 226.9L640.5 225.7L643.7 230.1Z" fill="#ffbc31"/>
<path d="M639.3 227.2L635.9 223.0L637.5 221.7L640.7 226.1Z" fill="#fba729"/>
<path d="M636.1 223.3L632.7 219.2L634.5 217.7L637.7 222.1Z" fill="#ffbf37"/>
<path d="M664.7 258.1L661.4 253.8L661.7 253.6L664.8 258.0Z" fill="#ffb325"/>
<path d="M661.7 254.1L658.4 249.8L658.9 249.5L662.0 253.9Z" fill="#ffb628"/>
<path d="M658.6 250.2L655.4 245.8L656.0 245.4L659.1 249.8Z" fill="#fea722"/>
<path d="M655.6 246.2L652.3 241.9L653.2 241.3L656.3 245.7Z" fill="#feaa25"/>
<path d="M652.6 242.2L649.3 237.9L650.3 237.1L653.4 241.6Z" fill="#ffb129"/>
<path d="M649.6 238.2L646.3 233.9L647.5 233.0L650.6 237.5Z" fill="#ffba2f"/>
<path d="M646.5 234.2L643.3 229.9L644.6 228.9L647.7 233.4Z" fill="#fcaa29"/>
<path d="M643.5 230.2L640.3 225.9L641.8 224.8L644.9 229.3Z" fill="#ffbe35"/>
<path d="M640.5 226.3L637.2 222.0L638.9 220.7L642.0 225.2Z" fill="#ffc238"/>
<path d="M631.4 214.3L628.2 210.0L630.4 208.4L633.4 212.8Z" fill="#febc3b"/>
<path d="M628.4 210.3L625.3 206.3L627.7 204.5L630.6 208.7Z" fill="#ffcf46"/>
<path d="M664.8 258.0L661.7 253.6L662.0 253.4L665.0 257.9Z" fill="#ffae25"/>
<path d="M661.9 253.9L658.8 249.5L659.3 249.2L662.3 253.7Z" fill="#fdaa24"/>
<path d="M659.0 249.9L655.9 245.4L656.6 245.0L659.5 249.5Z" fill="#fdac27"/>
<path d="M656.2 245.8L653.0 241.4L653.9 240.8L656.8 245.3Z" fill="#fcab27"/>
<path d="M653.3 241.7L650.2 237.3L651.2 236.6L654.1 241.1Z" fill="#fbaa29"/>
<path d="M650.4 237.6L647.3 233.2L648.5 232.4L651.4 236.9Z" fill="#fcaf2c"/>
<path d="M647.5 233.5L644.4 229.1L645.8 228.2L648.7 232.7Z" fill="#ffc036"/>
<path d="M644.6 229.4L641.5 225.0L643.1 224.0L646.0 228.5Z" fill="#ffcb3d"/>
<path d="M641.7 225.3L638.6 220.9L640.4 219.8L643.3 224.3Z" fill="#fcb635"/>
<path d="M638.9 221.3L635.8 216.8L637.7 215.6L640.6 220.1Z" fill="#fbb536"/>
<path d="M636.0 217.2L632.9 212.8L635.0 211.4L637.9 215.9Z" fill="#ffc540"/>
<path d="M633.1 213.1L630.0 208.7L632.2 207.1L635.2 211.7Z" fill="#fdbf3f"/>
<path d="M630.2 209.0L627.1 204.6L629.5 202.9L632.5 207.5Z" fill="#ffd14a"/>
<path d="M664.9 257.9L662.0 253.4L662.3 253.2L665.1 257.8Z" fill="#fba623"/>
<path d="M662.2 253.8L659.2 249.2L659.8 248.9L662.5 253.5Z" fill="#ffb52c"/>
<path d="M659.5 249.6L656.5 245.0L657.2 244.6L660.0 249.2Z" fill="#ffc133"/>
<path d="M656.7 245.4L653.8 240.9L654.7 240.3L657.4 245.0Z" fill="#fcaf2c"/>
<path d="M654.0 241.2L651.0 236.7L652.1 236.0L654.9 240.7Z" fill="#ffc337"/>
<path d="M651.2 237.0L648.3 232.5L649.5 231.7L652.3 236.4Z" fill="#ffcb3d"/>
<path d="M648.5 232.8L645.6 228.3L647.0 227.4L649.7 232.1Z" fill="#ffc43b"/>
<path d="M645.8 228.6L642.8 224.1L644.4 223.1L647.2 227.8Z" fill="#ffcb40"/>
<path d="M643.0 224.5L640.1 219.9L641.8 218.8L644.6 223.5Z" fill="#fcba3a"/>
<path d="M634.8 211.9L631.9 207.4L634.2 206.0L636.9 210.6Z" fill="#ffca48"/>
<path d="M632.1 207.7L629.1 203.2L631.6 201.7L634.4 206.3Z" fill="#ffd850"/>
<path d="M629.3 203.5L628.1 201.6L630.6 200.0L631.8 202.0Z" fill="#ffcf4e"/>
<path d="M665.1 257.9L662.3 253.2L662.6 253.0L665.2 257.8Z" fill="#ffb92e"/>
<path d="M662.5 253.6L659.7 249.0L660.2 248.6L662.8 253.4Z" fill="#fdb62e"/>
<path d="M659.9 249.3L657.1 244.7L657.8 244.3L660.4 249.0Z" fill="#febb33"/>
<path d="M657.3 245.0L654.5 240.4L655.4 239.9L658.0 244.6Z" fill="#fcb632"/>
<path d="M654.7 240.7L651.9 236.1L653.0 235.5L655.6 240.2Z" fill="#febf38"/>
<path d="M652.1 236.5L649.3 231.8L650.6 231.1L653.2 235.8Z" fill="#ffd244"/>
<path d="M649.5 232.2L646.7 227.6L648.2 226.7L650.8 231.5Z" fill="#ffd446"/>
<path d="M646.9 227.9L644.1 223.3L645.8 222.4L648.4 227.1Z" fill="#ffcd45"/>
<path d="M644.3 223.6L641.6 219.0L643.4 218.0L646.0 222.7Z" fill="#ffcb46"/>
<path d="M639.2 215.1L636.4 210.5L638.5 209.2L641.1 213.9Z" fill="#fdca49"/>
<path d="M636.6 210.8L633.8 206.2L636.1 204.8L638.7 209.6Z" fill="#ffdd54"/>
<path d="M634.0 206.5L631.2 201.9L633.7 200.4L636.3 205.2Z" fill="#ffdd56"/>
<path d="M631.4 202.3L630.8 201.3L633.4 199.9L633.9 200.8Z" fill="#ffdc58"/>
<path d="M665.2 257.8L662.6 253.1L662.9 252.9L665.4 257.7Z" fill="#febb32"/>
<path d="M662.8 253.4L660.1 248.7L660.7 248.4L663.1 253.2Z" fill="#ffc739"/>
<path d="M660.3 249.0L657.7 244.3L658.4 243.9L660.9 248.8Z" fill="#fdbe36"/>
<path d="M657.9 244.7L655.3 240.0L656.2 239.5L658.6 244.3Z" fill="#ffc63c"/>
<path d="M655.4 240.3L652.8 235.6L653.9 235.0L656.4 239.8Z" fill="#ffd043"/>
<path d="M653.0 235.9L650.4 231.2L651.7 230.5L654.1 235.4Z" fill="#ffd045"/>
<path d="M650.6 231.6L647.9 226.9L649.4 226.1L651.8 230.9Z" fill="#fdc743"/>
<path d="M648.1 227.2L645.5 222.5L647.2 221.6L649.6 226.4Z" fill="#ffdb4f"/>
<path d="M645.7 222.9L643.1 218.1L644.9 217.2L647.3 222.0Z" fill="#ffd54e"/>
<path d="M638.4 209.8L635.7 205.0L638.1 203.8L640.6 208.6Z" fill="#ffdd57"/>
<path d="M635.9 205.4L633.3 200.7L635.9 199.3L638.3 204.1Z" fill="#ffe35c"/>
<path d="M633.5 201.0L632.6 199.5L635.3 198.1L636.1 199.7Z" fill="#ffe55f"/>
<path d="M665.3 257.7L662.9 252.9L663.2 252.7L665.5 257.6Z" fill="#ffce3d"/>
<path d="M663.1 253.3L660.6 248.4L661.2 248.2L663.4 253.1Z" fill="#ffd242"/>
<path d="M660.8 248.8L658.3 244.0L659.1 243.6L661.3 248.5Z" fill="#fec73f"/>
<path d="M658.5 244.4L656.0 239.6L657.0 239.1L659.2 244.0Z" fill="#ffd749"/>
<path d="M656.2 239.9L653.7 235.1L654.9 234.6L657.1 239.5Z" fill="#ffda4d"/>
<path d="M653.9 235.5L651.4 230.7L652.8 230.0L655.0 234.9Z" fill="#ffd74e"/>
<path d="M651.6 231.0L649.2 226.2L650.7 225.5L652.9 230.4Z" fill="#ffe155"/>
<path d="M649.3 226.6L646.9 221.8L648.6 220.9L650.8 225.8Z" fill="#ffe258"/>
<path d="M647.1 222.1L644.6 217.3L646.5 216.4L648.7 221.3Z" fill="#ffd856"/>
<path d="M642.5 213.2L640.0 208.4L642.3 207.3L644.5 212.2Z" fill="#ffe561"/>
<path d="M640.2 208.8L637.7 204.0L640.2 202.8L642.4 207.7Z" fill="#ffdd5f"/>
<path d="M637.9 204.3L635.4 199.5L638.1 198.2L640.3 203.1Z" fill="#ffe666"/>
<path d="M635.6 199.9L635.2 199.0L637.9 197.8L638.2 198.6Z" fill="#fcd962"/>
<path d="M665.5 257.6L663.2 252.7L663.6 252.6L665.7 257.6Z" fill="#ffd443"/>
<path d="M663.4 253.1L661.1 248.2L661.6 248.0L663.7 252.9Z" fill="#fecf43"/>
<path d="M661.2 248.6L658.9 243.7L659.7 243.4L661.8 248.3Z" fill="#ffd64a"/>
<path d="M659.1 244.1L656.8 239.2L657.8 238.7L659.8 243.7Z" fill="#ffdc50"/>
<path d="M657.0 239.5L654.7 234.6L655.8 234.1L657.9 239.1Z" fill="#ffda52"/>
<path d="M654.8 235.0L652.5 230.1L653.9 229.5L656.0 234.5Z" fill="#ffdf57"/>
<path d="M652.7 230.5L650.4 225.6L651.9 224.9L654.0 229.9Z" fill="#fbcd51"/>
<path d="M650.6 226.0L648.3 221.1L650.0 220.3L652.1 225.3Z" fill="#fcd356"/>
<path d="M648.5 221.4L646.2 216.5L648.1 215.7L650.2 220.7Z" fill="#ffdc5e"/>
<path d="M644.2 212.4L641.9 207.5L644.2 206.5L646.3 211.5Z" fill="#ffe769"/>
<path d="M642.1 207.9L639.8 203.0L642.3 201.9L644.3 206.8Z" fill="#fbd664"/>
<path d="M637.8 198.8L637.5 198.2L640.2 197.1L640.5 197.6Z" fill="#fcdd6d"/>
<path d="M665.6 257.6L663.5 252.6L663.9 252.4L665.8 257.5Z" fill="#fcce43"/>
<path d="M663.7 253.0L661.5 248.0L662.1 247.8L664.0 252.8Z" fill="#fbcc45"/>
<path d="M661.7 248.4L659.6 243.4L660.3 243.1L662.3 248.1Z" fill="#ffda4f"/>
<path d="M659.7 243.8L657.6 238.8L658.6 238.4L660.5 243.5Z" fill="#fed953"/>
<path d="M657.7 239.2L655.6 234.2L656.8 233.7L658.7 238.8Z" fill="#ffe15a"/>
<path d="M655.8 234.6L653.7 229.6L655.0 229.1L656.9 234.1Z" fill="#ffe35e"/>
<path d="M653.8 230.0L651.7 225.0L653.2 224.4L655.1 229.4Z" fill="#fdda5e"/>
<path d="M651.8 225.4L649.7 220.4L651.5 219.7L653.4 224.8Z" fill="#ffef6c"/>
<path d="M649.9 220.8L647.7 215.8L649.7 215.1L651.6 220.1Z" fill="#fbd764"/>
<path d="M644.0 207.0L641.8 202.0L644.4 201.0L646.3 206.1Z" fill="#fff37c"/>
<path d="M642.0 202.4L641.1 200.3L643.7 199.3L644.5 201.4Z" fill="#fbde76"/>
<path d="M665.8 257.5L663.8 252.5L664.2 252.3L665.9 257.4Z" fill="#ffe04e"/>
<path d="M664.0 252.8L662.0 247.8L662.6 247.6L664.3 252.7Z" fill="#fedc50"/>
<path d="M662.2 248.2L660.2 243.1L661.0 242.9L662.7 248.0Z" fill="#ffe458"/>
<path d="M660.3 243.5L658.4 238.5L659.4 238.1L661.1 243.2Z" fill="#fff163"/>
<path d="M658.5 238.9L656.6 233.8L657.8 233.4L659.5 238.5Z" fill="#ffee65"/>
<path d="M656.7 234.2L654.8 229.2L656.2 228.7L657.9 233.8Z" fill="#fee565"/>
<path d="M654.9 229.5L653.0 224.5L654.5 223.9L656.3 229.0Z" fill="#fff16f"/>
<path d="M653.1 224.9L651.2 219.8L652.9 219.2L654.7 224.3Z" fill="#ffee72"/>
<path d="M651.3 220.2L649.4 215.2L651.3 214.5L653.1 219.6Z" fill="#fee773"/>
<path d="M649.5 215.5L647.5 210.5L649.7 209.7L651.4 214.8Z" fill="#fce274"/>
<path d="M647.7 210.9L645.7 205.9L648.1 205.0L649.8 210.1Z" fill="#ffef7f"/>
<path d="M645.9 206.2L643.9 201.2L646.5 200.3L648.2 205.4Z" fill="#fffc8a"/>
<path d="M644.1 201.6L643.4 199.9L646.0 199.0L646.6 200.6Z" fill="#feec86"/>
<path d="M665.9 257.5L664.1 252.4L664.5 252.2L666.1 257.4Z" fill="#fcda61"/>
<path d="M664.3 252.7L662.5 247.6L663.1 247.4L664.7 252.6Z" fill="#ffe86c"/>
<path d="M662.6 248.0L660.9 242.9L661.6 242.6L663.2 247.8Z" fill="#ffeb72"/>
<path d="M661.0 243.3L659.2 238.2L660.2 237.9L661.8 243.0Z" fill="#fcdf6f"/>
<path d="M659.3 238.6L657.6 233.5L658.8 233.1L660.3 238.2Z" fill="#ffee7b"/>
<path d="M657.7 233.8L655.9 228.7L657.3 228.3L658.9 233.5Z" fill="#fff783"/>
<path d="M656.1 229.1L654.3 224.0L655.9 223.5L657.4 228.7Z" fill="#fee980"/>
<path d="M654.4 224.4L652.6 219.3L654.4 218.7L656.0 223.9Z" fill="#feec84"/>
<path d="M652.8 219.7L651.0 214.6L653.0 213.9L654.5 219.1Z" fill="#fde785"/>
<path d="M651.1 215.0L649.3 209.9L651.5 209.1L653.1 214.3Z" fill="#fdea89"/>
<path d="M649.5 210.2L647.7 205.1L650.1 204.4L651.6 209.5Z" fill="#feed8e"/>
<path d="M647.8 205.5L646.1 200.4L648.6 199.6L650.2 204.7Z" fill="#fffd99"/>
<path d="M646.2 200.8L645.7 199.5L648.4 198.7L648.8 200.0Z" fill="#fdec93"/>
<path d="M666.1 257.4L664.5 252.2L664.9 252.1L666.3 257.3Z" fill="#fee97f"/>
<path d="M664.6 252.6L663.0 247.5L663.6 247.3L665.0 252.5Z" fill="#fde781"/>
<path d="M663.1 247.8L661.5 242.7L662.3 242.5L663.7 247.7Z" fill="#fffa8f"/>
<path d="M661.6 243.1L660.0 237.9L661.0 237.6L662.4 242.8Z" fill="#ffee8c"/>
<path d="M660.2 238.3L658.6 233.1L659.8 232.8L661.1 238.0Z" fill="#fde98d"/>
<path d="M658.7 233.5L657.1 228.4L658.5 228.0L659.9 233.2Z" fill="#ffef93"/>
<path d="M657.2 228.7L655.6 223.6L657.2 223.1L658.6 228.3Z" fill="#fce692"/>
<path d="M655.7 224.0L654.1 218.8L655.9 218.3L657.3 223.5Z" fill="#fff59b"/>
<path d="M654.2 219.2L652.6 214.0L654.7 213.5L656.0 218.7Z" fill="#fff09a"/>
<path d="M652.8 214.4L651.2 209.3L653.4 208.6L654.8 213.8Z" fill="#fded9a"/>
<path d="M648.3 200.1L646.7 194.9L649.5 194.1L650.9 199.3Z" fill="#ffffa9"/>
<path d="M666.2 257.4L664.8 252.1L665.2 252.0L666.4 257.3Z" fill="#ffffa0"/>
<path d="M664.9 252.5L663.5 247.3L664.1 247.2L665.3 252.4Z" fill="#fdec9a"/>
<path d="M663.6 247.7L662.2 242.5L663.0 242.3L664.2 247.6Z" fill="#fff6a2"/>
<path d="M662.3 242.9L660.9 237.7L661.9 237.4L663.1 242.7Z" fill="#fff3a4"/>
<path d="M661.0 238.1L659.6 232.8L660.8 232.5L662.0 237.8Z" fill="#fff8aa"/>
<path d="M659.7 233.2L658.2 228.0L659.7 227.7L660.9 232.9Z" fill="#fff8ad"/>
<path d="M658.4 228.4L656.9 223.2L658.6 222.8L659.8 228.1Z" fill="#fffcb3"/>
<path d="M657.0 223.6L655.6 218.4L657.5 217.9L658.6 223.2Z" fill="#fcebaa"/>
<path d="M655.7 218.8L654.3 213.5L656.3 213.0L657.5 218.3Z" fill="#fffdb4"/>
<path d="M654.4 213.9L653.0 208.7L655.2 208.2L656.4 213.4Z" fill="#fdf0ae"/>
<path d="M651.8 204.3L650.4 199.1L653.0 198.4L654.2 203.7Z" fill="#fff7b2"/>
<path d="M650.5 199.5L649.5 196.0L652.3 195.3L653.1 198.8Z" fill="#fef3b0"/>
<path d="M666.4 257.3L665.1 252.1L665.5 252.0L666.6 257.3Z" fill="#fbeaac"/>
<path d="M665.2 252.5L664.0 247.2L664.6 247.1L665.6 252.4Z" fill="#fdf1b2"/>
<path d="M664.1 247.6L662.9 242.3L663.7 242.2L664.7 247.5Z" fill="#fff7b8"/>
<path d="M662.9 242.7L661.7 237.5L662.7 237.2L663.7 242.5Z" fill="#ffffc2"/>
<path d="M661.8 237.8L660.6 232.6L661.8 232.3L662.8 237.6Z" fill="#ffffc5"/>
<path d="M660.7 233.0L659.4 227.7L660.9 227.4L661.9 232.7Z" fill="#fffbc3"/>
<path d="M659.5 228.1L658.3 222.9L659.9 222.5L660.9 227.8Z" fill="#fbecbf"/>
<path d="M658.4 223.2L657.1 218.0L659.0 217.6L660.0 222.9Z" fill="#ffffca"/>
<path d="M657.2 218.4L656.0 213.1L658.0 212.7L659.1 218.0Z" fill="#fef8c4"/>
<path d="M656.1 213.5L654.9 208.3L657.1 207.8L658.1 213.1Z" fill="#fffcc5"/>
<path d="M655.0 208.6L653.7 203.4L656.2 202.9L657.2 208.2Z" fill="#fffdc5"/>
<path d="M653.8 203.8L652.6 198.5L655.2 197.9L656.3 203.3Z" fill="#ffffc8"/>
<path d="M652.7 198.9L651.4 193.6L654.3 193.0L655.3 198.3Z" fill="#fef6c0"/>
<path d="M666.5 257.3L665.5 252.0L665.9 251.9L666.7 257.3Z" fill="#fbedb4"/>
<path d="M665.6 252.4L664.5 247.1L665.1 247.0L665.9 252.3Z" fill="#ffffc1"/>
<path d="M664.6 247.5L663.5 242.2L664.4 242.0L665.2 247.4Z" fill="#ffffc2"/>
<path d="M663.6 242.6L662.6 237.3L663.6 237.1L664.4 242.4Z" fill="#fef8c1"/>
<path d="M662.6 237.7L661.6 232.4L662.8 232.2L663.7 237.5Z" fill="#fdf5c2"/>
<path d="M661.7 232.8L660.6 227.5L662.1 227.2L662.9 232.5Z" fill="#ffffca"/>
<path d="M660.7 227.9L659.7 222.6L661.3 222.3L662.1 227.6Z" fill="#ffffcd"/>
<path d="M659.7 223.0L658.7 217.7L660.5 217.3L661.4 222.7Z" fill="#f5f4ca"/>
<path d="M658.8 218.0L657.7 212.8L659.8 212.4L660.6 217.7Z" fill="#fefbca"/>
<path d="M657.8 213.1L656.7 207.8L659.0 207.4L659.8 212.8Z" fill="#fffcc9"/>
<path d="M656.8 208.2L655.8 202.9L658.2 202.5L659.1 207.8Z" fill="#fffac7"/>
<path d="M655.8 203.3L654.8 198.0L657.5 197.6L658.3 202.9Z" fill="#fcf0c1"/>
<path d="M653.9 193.5L652.9 188.3L655.9 187.7L656.8 193.0Z" fill="#fdf2bf"/>
<path d="M666.7 257.3L665.8 251.9L666.2 251.9L666.9 257.2Z" fill="#fffdb1"/>
<path d="M665.9 252.3L665.0 247.0L665.6 246.9L666.3 252.3Z" fill="#fbebab"/>
<path d="M665.1 247.4L664.2 242.1L665.0 241.9L665.7 247.3Z" fill="#ffffb7"/>
<path d="M664.3 242.5L663.4 237.1L664.5 237.0L665.1 242.3Z" fill="#ffffbe"/>
<path d="M663.5 237.5L662.6 232.2L663.9 232.0L664.5 237.4Z" fill="#ffffc1"/>
<path d="M662.7 232.6L661.8 227.2L663.3 227.0L663.9 232.4Z" fill="#ffffbf"/>
<path d="M661.9 227.6L661.0 222.3L662.7 222.1L663.3 227.4Z" fill="#fbedb9"/>
<path d="M661.1 222.7L660.2 217.4L662.1 217.1L662.7 222.5Z" fill="#ffffc5"/>
<path d="M660.3 217.8L659.4 212.4L661.5 212.2L662.1 217.5Z" fill="#fdf2bb"/>
<path d="M659.5 212.8L658.6 207.5L660.9 207.2L661.5 212.5Z" fill="#fffdbf"/>
<path d="M658.7 207.9L657.8 202.6L660.3 202.2L660.9 207.6Z" fill="#ffffc2"/>
<path d="M656.3 193.1L655.5 188.1L658.6 187.7L659.2 192.7Z" fill="#fffbb9"/>
<path d="M666.8 257.2L666.2 251.9L666.6 251.8L667.0 257.2Z" fill="#fffaa5"/>
<path d="M666.2 252.3L665.5 246.9L666.2 246.9L666.6 252.2Z" fill="#fbeaa0"/>
<path d="M665.6 247.3L664.9 242.0L665.7 241.9L666.2 247.3Z" fill="#fceda4"/>
<path d="M665.0 242.4L664.3 237.0L665.3 236.9L665.8 242.3Z" fill="#fef5ab"/>
<path d="M664.3 237.4L663.7 232.0L664.9 231.9L665.3 237.3Z" fill="#fbecaa"/>
<path d="M663.7 232.4L663.0 227.1L664.5 226.9L664.9 232.3Z" fill="#fbecac"/>
<path d="M663.1 227.5L662.4 222.1L664.1 221.9L664.5 227.3Z" fill="#fffbb6"/>
<path d="M662.4 222.5L661.8 217.2L663.6 217.0L664.1 222.3Z" fill="#ffffb7"/>
<path d="M661.8 217.6L661.1 212.2L663.2 212.0L663.7 217.4Z" fill="#ffffb7"/>
<path d="M661.2 212.6L660.5 207.2L662.8 207.0L663.3 212.4Z" fill="#fceeab"/>
<path d="M660.6 207.6L659.9 202.3L662.4 202.0L662.8 207.4Z" fill="#fdf2ac"/>
<path d="M659.9 202.7L659.3 197.3L662.0 197.0L662.4 202.4Z" fill="#fff7ad"/>
<path d="M667.0 257.2L666.5 251.8L666.9 251.8L667.2 257.2Z" fill="#fceb93"/>
<path d="M666.5 252.2L666.0 246.9L666.7 246.8L666.9 252.2Z" fill="#fff99c"/>
<path d="M666.1 247.3L665.6 241.9L666.4 241.8L666.7 247.2Z" fill="#fff69d"/>
<path d="M665.6 242.3L665.1 236.9L666.2 236.8L666.4 242.2Z" fill="#ffffa6"/>
<path d="M665.2 237.3L664.7 231.9L665.9 231.8L666.2 237.2Z" fill="#fff8a4"/>
<path d="M664.7 232.3L664.2 226.9L665.7 226.8L666.0 232.2Z" fill="#fffba8"/>
<path d="M664.3 227.3L663.8 222.0L665.5 221.8L665.7 227.2Z" fill="#fdf1a6"/>
<path d="M663.8 222.4L663.3 217.0L665.2 216.9L665.5 222.2Z" fill="#fff9aa"/>
<path d="M663.4 217.4L662.9 212.0L665.0 211.9L665.2 217.3Z" fill="#fdf0a4"/>
<path d="M662.9 212.4L662.4 207.0L664.7 206.9L665.0 212.3Z" fill="#fffeaa"/>
<path d="M662.0 202.4L661.5 197.1L664.2 196.9L664.5 202.3Z" fill="#fdefa0"/>
<path d="M661.1 192.5L660.7 188.3L663.8 188.1L664.0 192.3Z" fill="#fffba3"/>
<path d="M667.1 257.2L666.8 251.8L667.3 251.8L667.3 257.2Z" fill="#fff487"/>
<path d="M666.9 252.2L666.6 246.8L667.2 246.8L667.3 252.2Z" fill="#fce582"/>
<path d="M666.6 247.2L666.3 241.8L667.1 241.8L667.2 247.2Z" fill="#fce685"/>
<path d="M666.3 242.2L666.0 236.8L667.1 236.8L667.1 242.2Z" fill="#fff48f"/>
<path d="M666.0 237.2L665.7 231.8L667.0 231.8L667.1 237.2Z" fill="#fdeb8d"/>
<path d="M665.8 232.2L665.5 226.9L666.9 226.8L667.0 232.2Z" fill="#fffd99"/>
<path d="M665.5 227.3L665.2 221.9L666.8 221.8L666.9 227.2Z" fill="#fff396"/>
<path d="M665.2 222.3L664.9 216.9L666.8 216.8L666.8 222.2Z" fill="#feee93"/>
<path d="M664.9 217.3L664.6 211.9L666.7 211.8L666.8 217.2Z" fill="#fffc99"/>
<path d="M664.6 212.3L664.3 206.9L666.6 206.8L666.7 212.2Z" fill="#fbe68e"/>
<path d="M664.1 202.3L663.8 196.9L666.5 196.8L666.6 202.2Z" fill="#ffff9b"/>
<path d="M667.3 257.2L667.2 251.8L667.6 251.8L667.5 257.2Z" fill="#ffee74"/>
<path d="M667.2 252.2L667.1 246.8L667.7 246.8L667.6 252.2Z" fill="#fff378"/>
<path d="M667.1 247.2L667.0 241.8L667.8 241.8L667.7 247.2Z" fill="#fce171"/>
<path d="M667.0 242.2L666.9 236.8L667.9 236.8L667.8 242.2Z" fill="#ffef7b"/>
<path d="M666.9 237.2L666.8 231.8L668.0 231.8L667.9 237.2Z" fill="#fee979"/>
<path d="M666.8 232.2L666.7 226.8L668.1 226.8L668.0 232.2Z" fill="#fde67a"/>
<path d="M666.7 227.2L666.6 221.8L668.2 221.8L668.1 227.2Z" fill="#feea7e"/>
<path d="M666.6 222.2L666.5 216.8L668.3 216.8L668.2 222.2Z" fill="#fff284"/>
<path d="M666.5 217.2L666.4 211.8L668.4 211.8L668.3 217.2Z" fill="#feeb81"/>
<path d="M666.4 212.2L666.3 206.8L668.5 206.8L668.4 212.2Z" fill="#feec82"/>
<path d="M666.3 207.2L666.1 201.8L668.7 201.8L668.5 207.2Z" fill="#fce680"/>
<path d="M666.2 202.2L666.0 196.8L668.8 196.8L668.6 202.2Z" fill="#fff488"/>
<path d="M666.0 197.2L665.9 191.8L668.9 191.8L668.8 197.2Z" fill="#feef86"/>
<path d="M665.9 192.2L665.8 186.8L669.0 186.8L668.9 192.2Z" fill="#fff188"/>
<path d="M665.8 187.2L665.8 185.6L669.0 185.6L669.0 187.2Z" fill="#fff389"/>
<path d="M667.5 257.2L667.5 251.8L668.0 251.8L667.7 257.2Z" fill="#fcd859"/>
<path d="M667.5 252.2L667.6 246.8L668.2 246.8L667.9 252.2Z" fill="#fbd85a"/>
<path d="M667.6 247.2L667.7 241.8L668.5 241.8L668.2 247.2Z" fill="#fddd5f"/>
<path d="M667.7 242.2L667.7 236.8L668.8 236.8L668.5 242.2Z" fill="#fbda60"/>
<path d="M667.7 237.2L667.8 231.8L669.1 231.8L668.8 237.2Z" fill="#fff36e"/>
<path d="M667.8 232.2L667.9 226.8L669.3 226.9L669.0 232.2Z" fill="#ffe86b"/>
<path d="M667.9 227.2L668.0 221.8L669.6 221.9L669.3 227.3Z" fill="#fff171"/>
<path d="M668.0 222.2L668.0 216.8L669.9 216.9L669.6 222.3Z" fill="#fbdd69"/>
<path d="M668.0 217.2L668.1 211.8L670.2 211.9L669.9 217.3Z" fill="#ffeb72"/>
<path d="M668.1 212.2L668.2 206.8L670.5 206.9L670.2 212.3Z" fill="#fff77a"/>
<path d="M668.2 207.2L668.2 201.8L670.7 201.9L670.4 207.3Z" fill="#feeb75"/>
<path d="M668.3 197.2L668.4 191.8L671.3 191.9L671.0 197.3Z" fill="#fce576"/>
<path d="M668.4 192.2L668.4 190.7L671.4 190.9L671.3 192.3Z" fill="#feec7b"/>
<path d="M667.6 257.2L667.9 251.8L668.3 251.8L667.8 257.2Z" fill="#fdd748"/>
<path d="M667.9 252.2L668.1 246.8L668.8 246.9L668.3 252.2Z" fill="#fdd94b"/>
<path d="M668.1 247.2L668.4 241.8L669.2 241.9L668.7 247.3Z" fill="#fcd74c"/>
<path d="M668.4 242.2L668.6 236.8L669.7 236.9L669.2 242.3Z" fill="#fddc50"/>
<path d="M668.6 237.2L668.9 231.8L670.1 231.9L669.6 237.3Z" fill="#fddc52"/>
<path d="M668.8 232.2L669.1 226.8L670.6 226.9L670.1 232.3Z" fill="#ffe458"/>
<path d="M669.1 227.2L669.3 221.8L671.0 222.0L670.5 227.3Z" fill="#fbd954"/>
<path d="M669.3 222.2L669.6 216.9L671.5 217.0L671.0 222.4Z" fill="#fff364"/>
<path d="M669.6 217.3L669.8 211.9L671.9 212.0L671.4 217.4Z" fill="#fee45f"/>
<path d="M669.8 212.3L670.1 206.9L672.4 207.0L671.9 212.4Z" fill="#fff56b"/>
<path d="M670.1 207.3L670.3 201.9L672.8 202.0L672.3 207.4Z" fill="#ffef6b"/>
<path d="M667.8 257.2L668.2 251.8L668.6 251.9L668.0 257.2Z" fill="#ffde3b"/>
<path d="M668.2 252.2L668.6 246.9L669.3 246.9L668.6 252.3Z" fill="#fcd036"/>
<path d="M668.6 247.3L669.1 241.9L669.9 242.0L669.2 247.3Z" fill="#fcd238"/>
<path d="M669.0 242.3L669.5 236.9L670.5 237.0L669.8 242.4Z" fill="#fbcf38"/>
<path d="M669.5 237.3L669.9 231.9L671.1 232.0L670.5 237.4Z" fill="#fdd63d"/>
<path d="M669.9 232.3L670.3 226.9L671.8 227.1L671.1 232.4Z" fill="#fbd33d"/>
<path d="M670.3 227.3L670.7 221.9L672.4 222.1L671.7 227.5Z" fill="#fede44"/>
<path d="M670.7 222.3L671.2 217.0L673.0 217.2L672.4 222.5Z" fill="#ffef4f"/>
<path d="M671.1 217.4L671.6 212.0L673.7 212.2L673.0 217.6Z" fill="#fee04b"/>
<path d="M671.5 212.4L672.0 207.0L674.3 207.2L673.6 212.6Z" fill="#fde04f"/>
<path d="M672.4 202.4L672.8 197.0L675.5 197.3L674.9 202.7Z" fill="#ffee5e"/>
<path d="M673.2 192.4L673.5 188.5L676.6 188.8L676.1 192.7Z" fill="#fff065"/>
<path d="M667.9 257.2L668.6 251.9L669.0 251.9L668.1 257.3Z" fill="#fec930"/>
<path d="M668.5 252.3L669.2 246.9L669.8 247.0L668.9 252.3Z" fill="#ffda39"/>
<path d="M669.1 247.3L669.8 241.9L670.6 242.1L669.7 247.4Z" fill="#fbc12e"/>
<path d="M669.7 242.3L670.3 237.0L671.4 237.1L670.5 242.5Z" fill="#fbc431"/>
<path d="M670.3 237.4L670.9 232.0L672.2 232.2L671.3 237.5Z" fill="#ffda3d"/>
<path d="M670.9 232.4L671.5 227.0L673.0 227.2L672.1 232.6Z" fill="#fed13a"/>
<path d="M671.5 227.4L672.1 222.1L673.8 222.3L672.9 227.6Z" fill="#fbc938"/>
<path d="M672.1 222.5L672.7 217.1L674.6 217.4L673.7 222.7Z" fill="#ffd942"/>
<path d="M672.7 217.5L673.3 212.2L675.4 212.4L674.5 217.8Z" fill="#ffe74d"/>
<path d="M673.3 212.5L673.9 207.2L676.2 207.5L675.3 212.8Z" fill="#ffdc4b"/>
<path d="M674.4 202.6L675.1 197.3L677.8 197.6L676.9 203.0Z" fill="#ffeb59"/>
<path d="M668.1 257.3L668.9 251.9L669.3 252.0L668.3 257.3Z" fill="#fbb323"/>
<path d="M668.9 252.3L669.7 247.0L670.3 247.1L669.2 252.4Z" fill="#fdba28"/>
<path d="M669.6 247.4L670.4 242.0L671.3 242.2L670.2 247.5Z" fill="#fec02d"/>
<path d="M670.4 242.4L671.2 237.1L672.2 237.3L671.2 242.6Z" fill="#fdbf2d"/>
<path d="M671.1 237.5L672.0 232.2L673.2 232.4L672.2 237.7Z" fill="#fbba2c"/>
<path d="M671.9 232.5L672.7 227.2L674.2 227.5L673.1 232.8Z" fill="#fbbc2e"/>
<path d="M672.7 227.6L673.5 222.3L675.1 222.6L674.1 227.9Z" fill="#ffd83e"/>
<path d="M673.4 222.7L674.3 217.3L676.1 217.7L675.1 223.0Z" fill="#fcc437"/>
<path d="M674.2 217.7L675.0 212.4L677.1 212.8L676.0 218.0Z" fill="#ffd041"/>
<path d="M675.0 212.8L675.8 207.4L678.1 207.8L677.0 213.1Z" fill="#fed044"/>
<path d="M675.7 207.8L676.6 202.5L679.0 202.9L678.0 208.2Z" fill="#fcca44"/>
<path d="M676.5 202.9L677.3 197.6L680.0 198.0L679.0 203.3Z" fill="#fccd49"/>
<path d="M677.3 198.0L678.0 193.0L680.9 193.5L679.9 198.4Z" fill="#ffe759"/>
<path d="M668.2 257.3L669.3 252.0L669.7 252.1L668.4 257.3Z" fill="#fdab1e"/>
<path d="M669.2 252.4L670.2 247.1L670.8 247.2L669.6 252.5Z" fill="#fba71d"/>
<path d="M670.1 247.5L671.1 242.2L671.9 242.3L670.7 247.6Z" fill="#ffb827"/>
<path d="M671.1 242.5L672.1 237.2L673.1 237.5L671.9 242.7Z" fill="#ffb828"/>
<path d="M672.0 237.6L673.0 232.3L674.2 232.6L673.0 237.8Z" fill="#ffbd2b"/>
<path d="M672.9 232.7L673.9 227.4L675.4 227.7L674.1 233.0Z" fill="#feb92b"/>
<path d="M673.9 227.8L674.9 222.5L676.5 222.9L675.3 228.1Z" fill="#ffc231"/>
<path d="M674.8 222.9L675.8 217.6L677.7 218.0L676.4 223.2Z" fill="#ffc836"/>
<path d="M675.7 218.0L676.8 212.7L678.8 213.1L677.6 218.4Z" fill="#ffd03d"/>
<path d="M676.7 213.1L677.7 207.8L679.9 208.3L678.7 213.5Z" fill="#fdc239"/>
<path d="M677.6 208.2L678.6 202.9L681.1 203.4L679.8 208.6Z" fill="#ffc93f"/>
<path d="M680.4 193.4L681.1 190.1L684.0 190.8L683.3 194.0Z" fill="#ffdc51"/>
<path d="M668.4 257.3L669.6 252.0L670.0 252.1L668.6 257.4Z" fill="#fc9c15"/>
<path d="M669.5 252.4L670.7 247.2L671.3 247.3L669.9 252.5Z" fill="#fb9d17"/>
<path d="M670.6 247.6L671.8 242.3L672.6 242.5L671.2 247.7Z" fill="#fda41b"/>
<path d="M671.7 242.7L672.9 237.4L673.9 237.7L672.5 242.9Z" fill="#fca21c"/>
<path d="M672.8 237.8L674.0 232.5L675.2 232.8L673.8 238.1Z" fill="#feae23"/>
<path d="M673.9 232.9L675.1 227.7L676.6 228.0L675.1 233.2Z" fill="#ffb427"/>
<path d="M675.0 228.1L676.2 222.8L677.9 223.2L676.4 228.4Z" fill="#fdae26"/>
<path d="M676.2 223.2L677.3 217.9L679.2 218.4L677.8 223.6Z" fill="#fbad28"/>
<path d="M677.3 218.3L678.5 213.0L680.5 213.5L679.1 218.8Z" fill="#ffc336"/>
<path d="M679.5 208.6L680.7 203.3L683.1 203.9L681.7 209.1Z" fill="#fdbf3a"/>
<path d="M680.6 203.7L681.8 198.4L684.4 199.1L683.0 204.3Z" fill="#fcbe3c"/>
<path d="M681.7 198.8L682.3 196.2L685.0 196.8L684.3 199.5Z" fill="#fdc844"/>
<path d="M668.5 257.3L669.9 252.1L670.3 252.2L668.7 257.4Z" fill="#ffa71b"/>
<path d="M669.8 252.5L671.2 247.3L671.8 247.5L670.2 252.6Z" fill="#ffa319"/>
<path d="M671.1 247.7L672.5 242.5L673.3 242.7L671.7 247.8Z" fill="#ffa81d"/>
<path d="M672.4 242.8L673.8 237.6L674.8 237.9L673.2 243.1Z" fill="#ffa51d"/>
<path d="M673.7 238.0L675.0 232.8L676.2 233.1L674.6 238.3Z" fill="#ffa41d"/>
<path d="M674.9 233.2L676.3 228.0L677.7 228.4L676.1 233.5Z" fill="#ffb124"/>
<path d="M676.2 228.3L677.6 223.1L679.2 223.6L677.6 228.7Z" fill="#ffaf24"/>
<path d="M677.5 223.5L678.9 218.3L680.7 218.8L679.1 224.0Z" fill="#ffbb2d"/>
<path d="M678.8 218.7L680.1 213.5L682.2 214.0L680.6 219.2Z" fill="#ffb92f"/>
<path d="M681.3 209.0L682.7 203.8L685.1 204.5L683.5 209.6Z" fill="#ffc439"/>
<path d="M668.7 257.4L670.3 252.2L670.7 252.4L668.9 257.5Z" fill="#fd8c0d"/>
<path d="M670.1 252.6L671.7 247.4L672.3 247.6L670.5 252.7Z" fill="#fb880c"/>
<path d="M671.6 247.8L673.2 242.6L673.9 242.9L672.2 248.0Z" fill="#ff9e18"/>
<path d="M673.0 243.0L674.6 237.9L675.6 238.2L673.8 243.3Z" fill="#ff9b17"/>
<path d="M674.5 238.2L676.0 233.1L677.2 233.5L675.5 238.6Z" fill="#fb8e11"/>
<path d="M675.9 233.5L677.5 228.3L678.9 228.7L677.1 233.8Z" fill="#fb9113"/>
<path d="M677.4 228.7L678.9 223.5L680.5 224.0L678.7 229.1Z" fill="#fc9617"/>
<path d="M678.8 223.9L680.4 218.7L682.2 219.3L680.4 224.4Z" fill="#fea11e"/>
<path d="M680.3 219.1L681.8 213.9L683.8 214.6L682.0 219.7Z" fill="#ffb32a"/>
<path d="M681.7 214.3L683.3 209.1L685.5 209.9L683.7 215.0Z" fill="#ffba2f"/>
<path d="M683.2 209.5L684.7 204.4L687.1 205.1L685.3 210.2Z" fill="#fdaa29"/>
<path d="M684.6 204.7L686.2 199.6L688.7 200.4L687.0 205.5Z" fill="#feb22f"/>
<path d="M686.0 200.0L687.3 195.7L690.1 196.6L688.6 200.8Z" fill="#fbac2f"/>
<path d="M668.9 257.4L670.6 252.3L671.0 252.5L669.0 257.5Z" fill="#ff8f0e"/>
<path d="M670.5 252.7L672.2 247.6L672.8 247.8L670.8 252.8Z" fill="#fc7f07"/>
<path d="M672.1 248.0L673.8 242.9L674.6 243.1L672.6 248.2Z" fill="#ff8e0f"/>
<path d="M673.7 243.2L675.4 238.1L676.4 238.5L674.5 243.5Z" fill="#fc860b"/>
<path d="M675.3 238.5L677.0 233.4L678.2 233.8L676.3 238.9Z" fill="#ff9715"/>
<path d="M676.9 233.8L678.6 228.7L680.0 229.2L678.1 234.2Z" fill="#ff9213"/>
<path d="M678.5 229.0L680.3 223.9L681.8 224.5L679.9 229.5Z" fill="#ffa21c"/>
<path d="M680.1 224.3L681.9 219.2L683.6 219.8L681.7 224.9Z" fill="#ffa31e"/>
<path d="M681.7 219.6L683.5 214.5L685.4 215.2L683.5 220.2Z" fill="#fc9418"/>
<path d="M683.4 214.8L685.1 209.7L687.3 210.5L685.3 215.5Z" fill="#fd9e1f"/>
<path d="M685.0 210.1L686.7 205.0L689.1 205.9L687.1 210.9Z" fill="#ffa725"/>
<path d="M686.6 205.4L688.3 200.3L690.9 201.2L688.9 206.2Z" fill="#ffab29"/>
<path d="M688.2 200.6L689.8 195.8L692.6 196.8L690.7 201.6Z" fill="#ffbd34"/>
<path d="M669.0 257.5L670.9 252.4L671.3 252.6L669.2 257.6Z" fill="#ff8107"/>
<path d="M670.8 252.8L672.7 247.8L673.3 248.0L671.1 253.0Z" fill="#fc7502"/>
<path d="M672.5 248.1L674.5 243.1L675.2 243.4L673.1 248.4Z" fill="#ff8c0d"/>
<path d="M674.3 243.5L676.2 238.4L677.2 238.8L675.1 243.8Z" fill="#fe8309"/>
<path d="M676.1 238.8L678.0 233.7L679.2 234.2L677.1 239.2Z" fill="#fb7b06"/>
<path d="M677.9 234.1L679.8 229.1L681.1 229.6L679.0 234.6Z" fill="#ff9714"/>
<path d="M679.7 229.4L681.6 224.4L683.1 225.0L681.0 230.0Z" fill="#fb7f08"/>
<path d="M681.4 224.8L683.3 219.7L685.1 220.4L683.0 225.4Z" fill="#ff9314"/>
<path d="M683.2 220.1L685.1 215.1L687.1 215.8L684.9 220.8Z" fill="#ff9516"/>
<path d="M685.0 215.4L686.9 210.4L689.0 211.2L686.9 216.2Z" fill="#ffa420"/>
<path d="M688.5 206.1L690.4 201.0L693.0 202.0L690.8 207.0Z" fill="#fc9b1e"/>
<path d="M690.3 201.4L692.2 196.4L694.9 197.5L692.8 202.4Z" fill="#fea324"/>
<path d="M692.1 196.7L692.3 196.1L695.0 197.2L694.8 197.8Z" fill="#fda526"/>
<path d="M669.1 257.6L671.2 252.6L671.6 252.7L669.3 257.6Z" fill="#ff4f07"/>
<path d="M671.1 252.9L673.2 248.0L673.7 248.2L671.4 253.1Z" fill="#ff4c05"/>
<path d="M673.0 248.3L675.1 243.4L675.9 243.7L673.6 248.6Z" fill="#ff4d05"/>
<path d="M675.0 243.7L677.0 238.7L678.0 239.2L675.7 244.1Z" fill="#ff4702"/>
<path d="M676.9 239.1L679.0 234.1L680.1 234.6L677.8 239.5Z" fill="#fe4200"/>
<path d="M678.8 234.5L680.9 229.5L682.3 230.1L680.0 235.0Z" fill="#fc3c00"/>
<path d="M680.8 229.9L682.9 224.9L684.4 225.6L682.1 230.5Z" fill="#ff5607"/>
<path d="M682.7 225.3L684.8 220.3L686.5 221.1L684.2 226.0Z" fill="#ff5506"/>
<path d="M686.6 216.1L688.7 211.1L690.8 212.0L688.5 216.9Z" fill="#fc5b07"/>
<path d="M690.5 206.8L691.7 204.0L694.1 205.0L692.7 207.9Z" fill="#ff8018"/>
<path d="M669.3 257.6L671.6 252.7L671.9 252.9L669.5 257.7Z" fill="#ff4805"/>
<path d="M671.4 253.1L673.6 248.2L674.2 248.4L671.7 253.3Z" fill="#ff4202"/>
<path d="M673.5 248.5L675.7 243.6L676.5 244.0L674.0 248.8Z" fill="#ff4804"/>
<path d="M675.6 244.0L677.8 239.1L678.8 239.6L676.3 244.4Z" fill="#fe3d00"/>
<path d="M677.7 239.5L679.9 234.6L681.1 235.1L678.6 239.9Z" fill="#fb3400"/>
<path d="M679.8 234.9L682.0 230.0L683.4 230.7L680.9 235.5Z" fill="#ff4300"/>
<path d="M681.9 230.4L684.1 225.5L685.6 226.2L683.2 231.0Z" fill="#ff4902"/>
<path d="M684.0 225.8L686.2 220.9L687.9 221.8L685.5 226.6Z" fill="#fc4500"/>
<path d="M686.1 221.3L688.3 216.4L690.2 217.3L687.7 222.1Z" fill="#fe5305"/>
<path d="M690.3 212.2L692.5 207.3L694.8 208.4L692.3 213.2Z" fill="#fd610a"/>
<path d="M692.4 207.7L694.6 202.8L697.1 204.0L694.6 208.8Z" fill="#ff6e10"/>
<path d="M694.5 203.1L695.2 201.6L697.7 202.8L696.9 204.3Z" fill="#fe7311"/>
<path d="M669.4 257.7L671.9 252.9L672.2 253.1L669.6 257.8Z" fill="#ff4606"/>
<path d="M671.7 253.2L674.1 248.4L674.7 248.7L672.0 253.4Z" fill="#ff4103"/>
<path d="M673.9 248.8L676.4 243.9L677.1 244.3L674.5 249.0Z" fill="#ff4102"/>
<path d="M676.2 244.3L678.6 239.5L679.5 240.0L676.9 244.7Z" fill="#ff3f01"/>
<path d="M678.4 239.8L680.9 235.0L682.0 235.6L679.4 240.3Z" fill="#ff4704"/>
<path d="M680.7 235.4L683.1 230.5L684.4 231.2L681.8 235.9Z" fill="#fe3c00"/>
<path d="M683.0 230.9L685.4 226.1L686.9 226.9L684.2 231.6Z" fill="#ff4502"/>
<path d="M685.2 226.4L687.6 221.6L689.3 222.5L686.7 227.2Z" fill="#ff5006"/>
<path d="M687.5 222.0L689.9 217.2L691.7 218.1L689.1 222.9Z" fill="#ff5306"/>
<path d="M692.0 213.1L694.4 208.2L696.6 209.4L694.0 214.1Z" fill="#fc5606"/>
<path d="M694.2 208.6L696.7 203.8L699.1 205.0L696.4 209.8Z" fill="#ff6c0f"/>
<path d="M696.5 204.1L697.6 201.9L700.1 203.2L698.9 205.4Z" fill="#ff7714"/>
<path d="M669.6 257.8L672.2 253.0L672.5 253.2L669.7 257.9Z" fill="#fb3000"/>
<path d="M672.0 253.4L674.6 248.6L675.1 249.0L672.3 253.6Z" fill="#ff3e03"/>
<path d="M674.4 249.0L677.0 244.3L677.7 244.7L674.9 249.3Z" fill="#fa2d00"/>
<path d="M676.8 244.6L679.4 239.9L680.3 240.4L677.5 245.0Z" fill="#ff4104"/>
<path d="M679.2 240.2L681.8 235.5L682.9 236.1L680.1 240.7Z" fill="#ff4002"/>
<path d="M681.6 235.8L684.2 231.1L685.5 231.8L682.7 236.5Z" fill="#ff4a06"/>
<path d="M684.0 231.5L686.6 226.7L688.1 227.6L685.3 232.2Z" fill="#ff4b06"/>
<path d="M686.4 227.1L689.0 222.4L690.7 223.3L687.9 227.9Z" fill="#ff4c05"/>
<path d="M688.8 222.7L691.4 218.0L693.2 219.0L690.5 223.6Z" fill="#ff580a"/>
<path d="M691.2 218.3L693.8 213.6L695.8 214.7L693.0 219.4Z" fill="#ff5d0b"/>
<path d="M693.7 213.9L696.3 209.2L698.4 210.5L695.6 215.1Z" fill="#fd5506"/>
<path d="M698.5 205.2L700.0 202.4L702.5 203.8L700.8 206.5Z" fill="#ff7a15"/>
<path d="M669.7 257.8L672.5 253.2L672.8 253.4L669.9 257.9Z" fill="#f82500"/>
<path d="M672.3 253.5L675.0 248.9L675.6 249.2L672.6 253.8Z" fill="#fb3200"/>
<path d="M674.8 249.2L677.6 244.6L678.3 245.0L675.3 249.6Z" fill="#fa2d00"/>
<path d="M677.4 245.0L680.1 240.3L681.0 240.9L678.1 245.4Z" fill="#ff3c02"/>
<path d="M679.9 240.7L682.7 236.0L683.8 236.7L680.8 241.2Z" fill="#ff4406"/>
<path d="M682.5 236.4L685.3 231.7L686.5 232.5L683.6 237.0Z" fill="#ff4606"/>
<path d="M685.1 232.1L687.8 227.4L689.2 228.3L686.3 232.8Z" fill="#ff4403"/>
<path d="M687.6 227.8L690.4 223.1L692.0 224.1L689.0 228.6Z" fill="#fe4602"/>
<path d="M690.2 223.5L693.0 218.8L694.7 219.9L691.8 224.5Z" fill="#fc4601"/>
<path d="M692.7 219.2L695.5 214.5L697.5 215.8L694.5 220.3Z" fill="#ff5b09"/>
<path d="M695.3 214.9L698.1 210.2L700.2 211.6L697.2 216.1Z" fill="#fe5e09"/>
<path d="M697.9 210.6L699.4 208.0L701.6 209.4L700.0 211.9Z" fill="#fd6109"/>
<path d="M669.8 257.9L672.8 253.4L673.1 253.6L670.0 258.0Z" fill="#fc3302"/>
<path d="M672.5 253.7L675.5 249.2L676.0 249.5L672.9 253.9Z" fill="#ff3c06"/>
<path d="M675.3 249.5L678.2 245.0L678.9 245.4L675.8 249.9Z" fill="#fa2a00"/>
<path d="M678.0 245.3L680.9 240.8L681.8 241.4L678.6 245.8Z" fill="#fe3802"/>
<path d="M680.7 241.1L683.6 236.6L684.6 237.3L681.5 241.7Z" fill="#ff3e04"/>
<path d="M683.4 236.9L686.3 232.4L687.5 233.2L684.4 237.6Z" fill="#fd3000"/>
<path d="M686.1 232.7L689.0 228.2L690.4 229.1L687.3 233.5Z" fill="#fb3300"/>
<path d="M688.8 228.5L691.7 224.0L693.3 225.0L690.2 229.4Z" fill="#ff4a05"/>
<path d="M691.5 224.3L694.4 219.8L696.2 220.9L693.1 225.3Z" fill="#ff590a"/>
<path d="M694.2 220.1L697.1 215.6L699.0 216.8L695.9 221.3Z" fill="#ff5e0b"/>
<path d="M696.9 215.9L699.8 211.4L701.9 212.8L698.8 217.2Z" fill="#fe5e08"/>
<path d="M699.6 211.7L700.4 210.4L702.6 211.9L701.7 213.1Z" fill="#ff7311"/>
<path d="M670.0 258.0L673.1 253.6L673.4 253.8L670.1 258.1Z" fill="#fa2f01"/>
<path d="M672.8 253.9L675.9 249.5L676.4 249.8L673.1 254.1Z" fill="#fe3b07"/>
<path d="M675.7 249.8L678.8 245.4L679.4 245.8L676.2 250.2Z" fill="#f92800"/>
<path d="M678.5 245.7L681.6 241.3L682.5 241.9L679.2 246.2Z" fill="#f92500"/>
<path d="M681.4 241.6L684.5 237.1L685.5 237.9L682.2 242.2Z" fill="#fa2900"/>
<path d="M684.2 237.5L687.3 233.0L688.5 233.9L685.2 238.2Z" fill="#ff3801"/>
<path d="M687.1 233.4L690.2 228.9L691.5 229.9L688.3 234.2Z" fill="#ff4103"/>
<path d="M689.9 229.3L693.0 224.8L694.5 225.9L691.3 230.2Z" fill="#fc3d00"/>
<path d="M692.8 225.2L695.9 220.7L697.6 222.0L694.3 226.3Z" fill="#fc4401"/>
<path d="M695.7 221.1L698.7 216.6L700.6 218.0L697.3 222.3Z" fill="#ff5909"/>
<path d="M701.4 212.8L701.9 212.1L703.9 213.6L703.4 214.3Z" fill="#fe640a"/>
<path d="M670.1 258.1L673.3 253.8L673.7 254.0L670.2 258.2Z" fill="#f62400"/>
<path d="M673.1 254.1L676.3 249.8L676.8 250.2L673.4 254.3Z" fill="#fc3505"/>
<path d="M676.1 250.1L679.3 245.8L680.0 246.3L676.6 250.5Z" fill="#fb3202"/>
<path d="M679.1 246.1L682.3 241.8L683.1 242.4L679.7 246.6Z" fill="#fe3b06"/>
<path d="M682.1 242.1L685.3 237.8L686.3 238.5L682.9 242.7Z" fill="#fa2a00"/>
<path d="M685.1 238.1L688.3 233.8L689.5 234.7L686.0 238.8Z" fill="#fe3903"/>
<path d="M688.1 234.1L691.3 229.8L692.6 230.8L689.2 235.0Z" fill="#ff4105"/>
<path d="M691.1 230.1L694.3 225.7L695.8 226.9L692.4 231.1Z" fill="#fd3d02"/>
<path d="M700.0 218.1L703.3 213.7L705.3 215.3L701.8 219.5Z" fill="#fb4802"/>
<path d="M703.0 214.1L706.3 209.7L708.4 211.4L705.0 215.6Z" fill="#fa4d02"/>
<path d="M706.0 210.1L706.6 209.3L708.7 211.0L708.2 211.7Z" fill="#ff650d"/>
<path d="M670.2 258.2L673.6 254.0L673.9 254.3L670.4 258.3Z" fill="#f82c03"/>
<path d="M673.4 254.3L676.7 250.1L677.2 250.5L673.7 254.6Z" fill="#fb3506"/>
<path d="M676.5 250.4L679.9 246.2L680.5 246.7L677.0 250.8Z" fill="#fc3806"/>
<path d="M679.6 246.5L683.0 242.3L683.8 243.0L680.2 247.0Z" fill="#fb3102"/>
<path d="M682.8 242.6L686.1 238.4L687.1 239.2L683.5 243.3Z" fill="#ff3d07"/>
<path d="M685.9 238.7L689.3 234.5L690.4 235.4L686.8 239.5Z" fill="#f92700"/>
<path d="M689.0 234.8L692.4 230.6L693.7 231.7L690.1 235.7Z" fill="#f92c00"/>
<path d="M692.2 230.9L695.5 226.7L697.0 227.9L693.4 232.0Z" fill="#f93100"/>
<path d="M695.3 227.0L698.7 222.8L700.3 224.2L696.7 228.2Z" fill="#fa3b00"/>
<path d="M698.4 223.1L701.8 218.9L703.6 220.4L700.0 224.5Z" fill="#fc4905"/>
<path d="M704.7 215.3L706.8 212.6L708.9 214.3L706.6 216.9Z" fill="#fc5307"/>
<path d="M670.3 258.3L673.9 254.2L674.2 254.5L670.5 258.4Z" fill="#f11900"/>
<path d="M673.6 254.5L677.1 250.4L677.6 250.8L673.9 254.8Z" fill="#f72901"/>
<path d="M676.9 250.7L680.4 246.6L681.0 247.2L677.3 251.1Z" fill="#f62600"/>
<path d="M680.1 246.9L683.7 242.9L684.4 243.5L680.7 247.5Z" fill="#fa3203"/>
<path d="M683.4 243.2L686.9 239.1L687.9 239.9L684.2 243.8Z" fill="#fa2f00"/>
<path d="M686.7 239.4L690.2 235.3L691.3 236.3L687.6 240.2Z" fill="#ff4007"/>
<path d="M689.9 235.6L693.5 231.5L694.7 232.6L691.0 236.6Z" fill="#ff4508"/>
<path d="M693.2 231.8L696.7 227.7L698.1 229.0L694.4 232.9Z" fill="#f83300"/>
<path d="M699.7 224.2L703.3 220.1L705.0 221.7L701.3 225.6Z" fill="#f94000"/>
<path d="M703.0 220.4L705.3 217.8L707.1 219.4L704.7 222.0Z" fill="#fb4c05"/>
<path d="M670.5 258.4L674.1 254.4L674.4 254.7L670.6 258.5Z" fill="#f11d00"/>
<path d="M673.9 254.7L677.5 250.8L678.0 251.2L674.1 255.0Z" fill="#f21e00"/>
<path d="M677.3 251.1L680.9 247.1L681.5 247.7L677.7 251.5Z" fill="#f52700"/>
<path d="M680.6 247.4L684.3 243.4L685.1 244.2L681.2 248.0Z" fill="#f92f03"/>
<path d="M684.0 243.7L687.7 239.8L688.6 240.6L684.8 244.4Z" fill="#fb3504"/>
<path d="M687.4 240.1L691.1 236.1L692.2 237.1L688.3 240.9Z" fill="#fb3201"/>
<path d="M690.8 236.4L694.5 232.4L695.7 233.6L691.9 237.4Z" fill="#f92e00"/>
<path d="M694.2 232.7L697.9 228.8L699.3 230.1L695.4 233.9Z" fill="#f93400"/>
<path d="M697.6 229.0L701.3 225.1L702.8 226.5L699.0 230.3Z" fill="#fe4708"/>
<path d="M701.0 225.4L704.7 221.4L706.4 223.0L702.5 226.8Z" fill="#f73600"/>
<path d="M704.4 221.7L708.1 217.7L709.9 219.5L706.1 223.3Z" fill="#f94002"/>
<path d="M670.6 258.5L674.4 254.7L674.7 255.0L670.7 258.6Z" fill="#f11d00"/>
<path d="M674.1 255.0L677.9 251.1L678.3 251.6L674.4 255.2Z" fill="#f72f07"/>
<path d="M677.6 251.4L681.4 247.6L682.0 248.2L678.0 251.8Z" fill="#f52701"/>
<path d="M681.1 247.9L684.9 244.0L685.7 244.8L681.7 248.5Z" fill="#f62600"/>
<path d="M684.7 244.3L688.5 240.5L689.3 241.4L685.4 245.1Z" fill="#fc3906"/>
<path d="M688.2 240.8L692.0 236.9L693.0 238.0L689.0 241.7Z" fill="#f62600"/>
<path d="M691.7 237.2L695.5 233.4L696.7 234.6L692.7 238.3Z" fill="#f83300"/>
<path d="M698.8 230.1L702.6 226.3L704.0 227.8L700.1 231.5Z" fill="#fd4808"/>
<path d="M670.7 258.6L674.6 254.9L674.9 255.2L670.8 258.8Z" fill="#ee1800"/>
<path d="M674.3 255.2L678.3 251.5L678.7 252.0L674.6 255.5Z" fill="#f11f00"/>
<path d="M678.0 251.8L681.9 248.1L682.5 248.7L678.4 252.2Z" fill="#ef1600"/>
<path d="M681.6 248.4L685.6 244.7L686.2 245.4L682.2 249.0Z" fill="#f31f00"/>
<path d="M685.3 244.9L689.2 241.2L690.0 242.2L685.9 245.7Z" fill="#fb3807"/>
<path d="M688.9 241.5L692.8 237.8L693.8 238.9L689.7 242.4Z" fill="#f82d00"/>
<path d="M692.5 238.1L696.5 234.4L697.6 235.6L693.5 239.2Z" fill="#f83201"/>
<path d="M699.8 231.2L703.8 227.5L705.2 229.1L701.1 232.6Z" fill="#fd470a"/>
<path d="M707.1 224.4L707.9 223.7L709.4 225.4L708.7 226.1Z" fill="#f93f04"/>
<path d="M670.8 258.7L674.8 255.2L675.1 255.5L670.9 258.9Z" fill="#0b0d7d"/>
<path d="M674.5 255.4L678.6 251.9L679.0 252.4L674.8 255.7Z" fill="#121689"/>
<path d="M678.3 252.1L682.4 248.6L682.9 249.2L678.7 252.6Z" fill="#081391"/>
<path d="M682.1 248.9L686.1 245.3L686.8 246.1L682.6 249.5Z" fill="#05159b"/>
<path d="M685.8 245.6L689.9 242.0L690.7 243.0L686.5 246.3Z" fill="#000ca1"/>
<path d="M689.6 242.3L693.7 238.7L694.6 239.8L690.4 243.2Z" fill="#000eaa"/>
<path d="M693.4 239.0L697.4 235.4L698.5 236.7L694.3 240.1Z" fill="#081fb8"/>
<path d="M697.1 235.7L701.2 232.1L702.4 233.6L698.2 236.9Z" fill="#0a23c3"/>
<path d="M700.9 232.4L702.2 231.2L703.5 232.7L702.1 233.8Z" fill="#0c27cc"/>
<path d="M670.9 258.9L675.1 255.4L675.3 255.8L671.0 259.0Z" fill="#101083"/>
<path d="M674.8 255.7L678.9 252.3L679.3 252.8L675.0 256.0Z" fill="#12158c"/>
<path d="M678.6 252.5L682.8 249.1L683.3 249.8L679.0 253.0Z" fill="#000991"/>
<path d="M682.5 249.4L686.7 246.0L687.3 246.8L683.0 250.0Z" fill="#0a179d"/>
<path d="M686.4 246.2L690.6 242.8L691.3 243.8L687.0 247.0Z" fill="#0012a4"/>
<path d="M690.3 243.1L694.4 239.6L695.3 240.8L691.0 244.0Z" fill="#0d20af"/>
<path d="M671.0 259.0L675.3 255.7L675.5 256.0L671.1 259.1Z" fill="#070a87"/>
<path d="M675.0 256.0L679.3 252.7L679.6 253.2L675.2 256.3Z" fill="#00068f"/>
<path d="M678.9 252.9L683.3 249.7L683.7 250.3L679.3 253.4Z" fill="#000e9c"/>
<path d="M682.9 249.9L687.2 246.6L687.8 247.5L683.4 250.6Z" fill="#0c1ba9"/>
<path d="M686.9 246.9L691.2 243.6L692.0 244.6L687.5 247.7Z" fill="#0b1fb3"/>
<path d="M694.9 240.8L699.2 237.6L700.2 238.9L695.7 242.0Z" fill="#0929c8"/>
<path d="M671.1 259.1L675.5 256.0L675.7 256.3L671.2 259.3Z" fill="#0c1fce"/>
<path d="M675.2 256.2L679.6 253.1L679.9 253.6L675.4 256.6Z" fill="#0e26d6"/>
<path d="M679.2 253.3L683.7 250.2L684.1 250.9L679.6 253.8Z" fill="#001bd9"/>
<path d="M683.3 250.5L687.7 247.3L688.3 248.2L683.8 251.1Z" fill="#0024e1"/>
<path d="M687.4 247.6L691.8 244.5L692.5 245.5L688.0 248.4Z" fill="#042fe7"/>
<path d="M691.5 244.7L695.9 241.6L696.7 242.8L692.2 245.7Z" fill="#0131e8"/>
<path d="M695.6 241.8L700.0 238.7L700.9 240.1L696.4 243.0Z" fill="#0538eb"/>
<path d="M699.7 238.9L703.0 236.6L704.0 238.1L700.6 240.3Z" fill="#0039ec"/>
<path d="M671.2 259.2L675.7 256.3L675.9 256.6L671.3 259.4Z" fill="#061ed0"/>
<path d="M675.3 256.5L679.9 253.5L680.2 254.1L675.6 256.8Z" fill="#0017d2"/>
<path d="M679.5 253.8L684.1 250.8L684.5 251.5L679.9 254.3Z" fill="#001dd8"/>
<path d="M683.7 251.0L688.2 248.1L688.8 249.0L684.1 251.7Z" fill="#082de1"/>
<path d="M687.9 248.3L692.4 245.3L693.1 246.4L688.4 249.2Z" fill="#022de6"/>
<path d="M692.1 245.5L696.6 242.6L697.4 243.8L692.7 246.6Z" fill="#0331e8"/>
<path d="M696.3 242.8L700.8 239.9L701.7 241.3L697.0 244.0Z" fill="#0738ea"/>
<path d="M708.8 234.6L709.9 233.9L711.0 235.7L709.9 236.4Z" fill="#0d47ef"/>
<path d="M671.2 259.4L675.9 256.6L676.1 256.9L671.3 259.5Z" fill="#001dd2"/>
<path d="M675.5 256.8L680.1 254.0L680.5 254.5L675.7 257.1Z" fill="#0827da"/>
<path d="M679.8 254.2L684.4 251.4L684.8 252.1L680.1 254.7Z" fill="#0020dd"/>
<path d="M684.1 251.6L688.7 248.8L689.2 249.7L684.5 252.3Z" fill="#0d36e7"/>
<path d="M688.4 249.0L693.0 246.2L693.6 247.3L688.9 249.9Z" fill="#0535e9"/>
<path d="M692.6 246.4L697.3 243.6L698.0 244.9L693.3 247.5Z" fill="#093ceb"/>
<path d="M671.3 259.5L676.0 256.9L676.2 257.2L671.4 259.7Z" fill="#001dd5"/>
<path d="M675.7 257.1L680.4 254.4L680.7 255.0L675.9 257.4Z" fill="#001cd8"/>
<path d="M680.1 254.6L684.8 252.0L685.2 252.7L680.3 255.2Z" fill="#0028df"/>
<path d="M684.4 252.2L689.1 249.6L689.6 250.5L684.8 252.9Z" fill="#0531e6"/>
<path d="M688.8 249.7L693.5 247.1L694.1 248.2L689.3 250.7Z" fill="#0c3aeb"/>
<path d="M693.2 247.3L697.9 244.7L698.6 246.0L693.7 248.4Z" fill="#1545ee"/>
<path d="M697.5 244.9L702.2 242.2L703.0 243.7L698.2 246.1Z" fill="#083fec"/>
<path d="M701.9 242.4L706.6 239.8L707.5 241.5L702.7 243.9Z" fill="#134bef"/>
<path d="M706.2 240.0L708.1 239.0L709.0 240.7L707.1 241.6Z" fill="#1b55f2"/>
<path d="M671.4 259.6L676.2 257.2L676.4 257.5L671.5 259.8Z" fill="#001cd7"/>
<path d="M675.8 257.4L680.7 254.9L680.9 255.5L676.0 257.7Z" fill="#0f31e0"/>
<path d="M680.3 255.1L685.1 252.6L685.5 253.4L680.6 255.6Z" fill="#0026e0"/>
<path d="M684.7 252.8L689.5 250.3L690.0 251.3L685.1 253.5Z" fill="#0534e7"/>
<path d="M689.2 250.5L694.0 248.0L694.5 249.2L689.6 251.4Z" fill="#0f3fec"/>
<path d="M693.6 248.2L698.4 245.7L699.1 247.1L694.2 249.3Z" fill="#0b40ec"/>
<path d="M698.1 245.9L702.9 243.5L703.6 245.0L698.7 247.2Z" fill="#0943ed"/>
<path d="M702.5 243.6L707.3 241.2L708.2 242.9L703.3 245.1Z" fill="#0947ed"/>
<path d="M671.5 259.8L676.4 257.5L676.5 257.9L671.5 260.0Z" fill="#0125dc"/>
<path d="M676.0 257.7L680.9 255.4L681.1 255.9L676.2 258.0Z" fill="#052ce1"/>
<path d="M680.5 255.5L685.4 253.2L685.7 254.0L680.8 256.1Z" fill="#002be3"/>
<path d="M685.0 253.4L689.9 251.1L690.4 252.1L685.4 254.1Z" fill="#0636e8"/>
<path d="M689.6 251.3L694.5 249.0L695.0 250.1L690.0 252.2Z" fill="#0034e9"/>
<path d="M694.1 249.1L699.0 246.8L699.6 248.2L694.6 250.3Z" fill="#003aea"/>
<path d="M707.7 242.8L710.3 241.5L711.1 243.3L708.4 244.5Z" fill="#0b4eee"/>
<path d="M671.5 259.9L676.5 257.8L676.7 258.2L671.6 260.1Z" fill="#0023de"/>
<path d="M676.1 258.0L681.1 255.8L681.3 256.4L676.3 258.3Z" fill="#0c34e4"/>
<path d="M680.7 256.0L685.7 253.9L686.0 254.6L681.0 256.6Z" fill="#0935e6"/>
<path d="M685.3 254.0L690.3 251.9L690.7 252.9L685.6 254.8Z" fill="#0436e8"/>
<path d="M689.9 252.0L694.9 249.9L695.4 251.1L690.3 253.0Z" fill="#0d40ed"/>
<path d="M694.5 250.1L699.5 248.0L700.0 249.3L695.0 251.2Z" fill="#043eec"/>
<path d="M699.1 248.1L704.1 246.0L704.7 247.5L699.7 249.4Z" fill="#0643ed"/>
<path d="M703.7 246.1L708.7 244.0L709.4 245.8L704.3 247.7Z" fill="#1954f1"/>
<path d="M671.6 260.1L676.6 258.1L676.8 258.5L671.7 260.2Z" fill="#032ce3"/>
<path d="M676.3 258.3L681.3 256.3L681.5 256.9L676.4 258.6Z" fill="#0026e2"/>
<path d="M680.9 256.5L686.0 254.5L686.2 255.3L681.1 257.0Z" fill="#002ce5"/>
<path d="M685.6 254.6L690.6 252.7L691.0 253.7L685.9 255.4Z" fill="#1041ec"/>
<path d="M690.2 252.8L695.3 250.9L695.7 252.1L690.6 253.8Z" fill="#0940ed"/>
<path d="M694.9 251.0L699.9 249.1L700.4 250.5L695.3 252.2Z" fill="#164cf0"/>
<path d="M699.6 249.2L704.6 247.3L705.2 248.8L700.1 250.6Z" fill="#0141ec"/>
<path d="M708.9 245.6L713.9 243.7L714.6 245.6L709.5 247.4Z" fill="#1859f1"/>
<path d="M671.6 260.2L676.7 258.4L676.9 258.8L671.7 260.4Z" fill="#0027e2"/>
<path d="M676.4 258.6L681.5 256.8L681.7 257.4L676.5 259.0Z" fill="#002be4"/>
<path d="M681.1 256.9L686.2 255.2L686.5 255.9L681.3 257.5Z" fill="#0c3cea"/>
<path d="M685.8 255.3L690.9 253.5L691.2 254.5L686.1 256.1Z" fill="#0036e9"/>
<path d="M690.5 253.6L695.6 251.9L696.0 253.1L690.9 254.6Z" fill="#003aeb"/>
<path d="M695.3 252.0L700.4 250.2L700.8 251.6L695.6 253.2Z" fill="#0c47ee"/>
<path d="M700.0 250.4L705.1 248.6L705.6 250.2L700.4 251.7Z" fill="#1351f0"/>
<path d="M704.7 248.7L709.8 246.9L710.4 248.7L705.2 250.3Z" fill="#1d5bf2"/>
<path d="M709.4 247.1L714.5 245.3L715.2 247.3L710.0 248.8Z" fill="#0850ee"/>
<path d="M671.7 260.4L676.9 258.8L677.0 259.2L671.8 260.6Z" fill="#002ee5"/>
<path d="M676.5 258.9L681.6 257.3L681.8 257.9L676.6 259.3Z" fill="#0134e7"/>
<path d="M681.3 257.4L686.4 255.8L686.6 256.6L681.4 258.0Z" fill="#0034e7"/>
<path d="M686.0 255.9L691.2 254.3L691.5 255.3L686.3 256.7Z" fill="#1248ee"/>
<path d="M690.8 254.5L696.0 252.9L696.3 254.1L691.1 255.4Z" fill="#0d48ee"/>
<path d="M695.6 253.0L700.7 251.4L701.1 252.8L695.9 254.2Z" fill="#1a55f1"/>
<path d="M700.4 251.5L705.5 249.9L706.0 251.5L700.8 252.9Z" fill="#1153f0"/>
<path d="M709.9 248.5L715.1 246.9L715.6 249.0L710.4 250.3Z" fill="#115cf0"/>
<path d="M671.7 260.5L677.0 259.1L677.1 259.5L671.8 260.7Z" fill="#002fe6"/>
<path d="M676.6 259.2L681.8 257.8L681.9 258.4L676.7 259.6Z" fill="#063bea"/>
<path d="M681.4 257.9L686.6 256.5L686.8 257.3L681.5 258.5Z" fill="#0e45ec"/>
<path d="M686.2 256.6L691.4 255.2L691.7 256.2L686.4 257.4Z" fill="#114bee"/>
<path d="M691.0 255.3L696.3 253.9L696.6 255.1L691.3 256.3Z" fill="#0647ed"/>
<path d="M695.9 254.0L701.1 252.5L701.4 254.0L696.2 255.2Z" fill="#084dee"/>
<path d="M700.7 252.7L705.9 251.2L706.3 252.9L701.0 254.1Z" fill="#155cf0"/>
<path d="M705.5 251.3L710.7 249.9L711.2 251.8L705.9 252.9Z" fill="#1762f1"/>
<path d="M715.2 248.7L715.7 248.6L716.2 250.6L715.7 250.7Z" fill="#196df2"/>
<path d="M671.8 260.7L677.0 259.4L677.1 259.8L671.8 260.9Z" fill="#1343ed"/>
<path d="M676.6 259.5L681.9 258.3L682.0 258.9L676.7 259.9Z" fill="#0b42ec"/>
<path d="M681.5 258.4L686.8 257.2L686.9 258.0L681.6 259.0Z" fill="#1049ee"/>
<path d="M686.4 257.2L691.6 256.0L691.9 257.0L686.6 258.0Z" fill="#0c4aed"/>
<path d="M691.3 256.1L696.5 254.9L696.8 256.1L691.5 257.1Z" fill="#1856f1"/>
<path d="M696.1 255.0L701.4 253.7L701.7 255.2L696.4 256.2Z" fill="#1d5ef2"/>
<path d="M701.0 253.8L706.2 252.6L706.6 254.2L701.3 255.2Z" fill="#115bf0"/>
<path d="M710.7 251.5L716.0 250.3L716.4 252.3L711.1 253.4Z" fill="#1a6bf2"/>
<path d="M715.6 250.4L718.2 249.8L718.7 251.9L716.0 252.4Z" fill="#1b70f2"/>
<path d="M671.8 260.8L677.1 259.8L677.2 260.2L671.8 261.0Z" fill="#1648ef"/>
<path d="M676.7 259.9L682.0 258.8L682.1 259.4L676.8 260.2Z" fill="#013deb"/>
<path d="M681.6 258.9L686.9 257.8L687.1 258.7L681.7 259.5Z" fill="#154fef"/>
<path d="M686.5 257.9L691.8 256.9L692.0 257.9L686.7 258.7Z" fill="#0b4cee"/>
<path d="M691.4 256.9L696.7 255.9L696.9 257.1L691.6 258.0Z" fill="#064ced"/>
<path d="M696.3 256.0L701.6 254.9L701.9 256.4L696.6 257.2Z" fill="#185df1"/>
<path d="M701.2 255.0L706.5 254.0L706.8 255.6L701.5 256.4Z" fill="#2269f3"/>
<path d="M711.1 253.1L716.3 252.0L716.7 254.1L711.4 254.9Z" fill="#2d7bf6"/>
<path d="M716.0 252.1L720.0 251.3L720.4 253.5L716.3 254.1Z" fill="#287cf5"/>
<path d="M671.8 261.0L677.2 260.1L677.2 260.5L671.9 261.2Z" fill="#0942ee"/>
<path d="M676.8 260.2L682.1 259.3L682.2 259.9L676.8 260.6Z" fill="#0846ee"/>
<path d="M681.7 259.4L687.0 258.5L687.2 259.3L681.8 260.0Z" fill="#0447ed"/>
<path d="M686.6 258.6L692.0 257.7L692.1 258.8L686.8 259.4Z" fill="#054ced"/>
<path d="M691.6 257.8L696.9 256.9L697.1 258.2L691.7 258.8Z" fill="#1a5ef1"/>
<path d="M696.5 257.0L701.9 256.1L702.1 257.6L696.7 258.2Z" fill="#1560f0"/>
<path d="M711.3 254.6L716.7 253.7L716.9 255.8L711.6 256.4Z" fill="#3185f7"/>
<path d="M716.3 253.8L717.5 253.6L717.8 255.7L716.6 255.8Z" fill="#358df8"/>
<path d="M671.9 261.1L677.2 260.5L677.3 260.9L671.9 261.3Z" fill="#104eef"/>
<path d="M676.8 260.5L682.2 259.8L682.2 260.5L676.9 260.9Z" fill="#0c4fee"/>
<path d="M681.8 259.9L687.1 259.2L687.2 260.0L681.8 260.5Z" fill="#074fed"/>
<path d="M686.7 259.3L692.1 258.6L692.2 259.6L686.8 260.1Z" fill="#185df1"/>
<path d="M691.7 258.6L697.1 258.0L697.2 259.2L691.8 259.6Z" fill="#115cf0"/>
<path d="M696.7 258.0L702.0 257.3L702.2 258.8L696.8 259.2Z" fill="#1061ef"/>
<path d="M701.6 257.4L707.0 256.7L707.2 258.4L701.8 258.8Z" fill="#2071f3"/>
<path d="M706.6 256.7L711.9 256.1L712.1 257.9L706.8 258.4Z" fill="#3182f6"/>
<path d="M711.5 256.1L716.9 255.4L717.1 257.5L711.7 258.0Z" fill="#1d7af2"/>
<path d="M716.5 255.5L717.3 255.4L717.5 257.5L716.7 257.6Z" fill="#2283f3"/>
<path d="M671.9 261.3L677.3 260.8L677.3 261.2L671.9 261.5Z" fill="#2766f3"/>
<path d="M676.9 260.8L682.2 260.3L682.3 261.0L676.9 261.2Z" fill="#1b60f1"/>
<path d="M681.8 260.4L687.2 259.9L687.3 260.7L681.9 261.0Z" fill="#1860f1"/>
<path d="M686.8 259.9L692.2 259.4L692.3 260.5L686.9 260.7Z" fill="#145ff0"/>
<path d="M691.8 259.5L697.2 259.0L697.3 260.2L691.9 260.5Z" fill="#1c67f2"/>
<path d="M696.8 259.0L702.2 258.5L702.3 260.0L696.9 260.3Z" fill="#2b77f5"/>
<path d="M706.7 258.1L712.1 257.6L712.2 259.5L706.9 259.8Z" fill="#277ef4"/>
<path d="M711.7 257.7L717.1 257.2L717.2 259.3L711.8 259.5Z" fill="#2883f4"/>
<path d="M716.7 257.2L718.2 257.1L718.3 259.2L716.8 259.3Z" fill="#3b96f8"/>
<path d="M671.9 261.4L677.3 261.1L677.3 261.6L671.9 261.6Z" fill="#2269f1"/>
<path d="M676.9 261.2L682.3 260.9L682.3 261.5L676.9 261.6Z" fill="#1662f0"/>
<path d="M681.9 260.9L687.3 260.6L687.3 261.4L681.9 261.5Z" fill="#1361ef"/>
<path d="M686.9 260.6L692.3 260.3L692.3 261.4L686.9 261.4Z" fill="#2b74f4"/>
<path d="M691.9 260.3L697.3 260.0L697.3 261.3L691.9 261.4Z" fill="#1d6bf2"/>
<path d="M696.9 260.1L702.2 259.8L702.3 261.2L696.9 261.3Z" fill="#1c6cf2"/>
<path d="M701.8 259.8L707.2 259.5L707.3 261.1L701.9 261.2Z" fill="#2d7cf5"/>
<path d="M706.8 259.5L712.2 259.2L712.3 261.1L706.9 261.1Z" fill="#277cf4"/>
<path d="M711.8 259.2L717.2 258.9L717.3 261.0L711.9 261.1Z" fill="#237df3"/>
<path d="M716.8 258.9L722.2 258.6L722.3 260.9L716.9 261.0Z" fill="#2683f3"/>
<path d="M721.8 258.7L725.8 258.4L725.9 260.9L721.9 260.9Z" fill="#3894f6"/>
<path d="M671.9 261.6L677.3 261.5L677.3 261.9L671.9 261.8Z" fill="#206ff1"/>
<path d="M676.9 261.5L682.3 261.4L682.3 262.0L676.9 261.9Z" fill="#2c78f4"/>
<path d="M681.9 261.4L687.3 261.3L687.3 262.1L681.9 262.0Z" fill="#2b78f4"/>
<path d="M686.9 261.3L692.3 261.2L692.3 262.2L686.9 262.1Z" fill="#186cf1"/>
<path d="M691.9 261.2L697.3 261.1L697.3 262.3L691.9 262.2Z" fill="#2f7df6"/>
<path d="M696.9 261.1L702.3 261.0L702.3 262.4L696.9 262.3Z" fill="#1970f1"/>
<path d="M701.9 261.0L707.3 260.9L707.3 262.5L701.9 262.4Z" fill="#1e78f2"/>
<path d="M706.9 260.9L712.3 260.8L712.3 262.6L706.9 262.5Z" fill="#207df2"/>
<path d="M711.9 260.8L717.3 260.7L717.3 262.7L711.9 262.6Z" fill="#338ff5"/>
<path d="M716.9 260.7L720.7 260.6L720.7 262.8L716.9 262.7Z" fill="#2a8df3"/>
<path d="M671.9 261.8L677.3 261.8L677.3 262.3L671.9 262.0Z" fill="#3183f4"/>
<path d="M676.9 261.8L682.3 261.9L682.3 262.5L676.9 262.2Z" fill="#267bf2"/>
<path d="M681.9 261.9L687.3 262.0L687.3 262.8L681.9 262.5Z" fill="#267bf3"/>
<path d="M686.9 262.0L692.3 262.0L692.3 263.1L686.9 262.8Z" fill="#1b73f1"/>
<path d="M691.9 262.0L697.3 262.1L697.3 263.4L691.9 263.1Z" fill="#2b7ef5"/>
<path d="M696.9 262.1L702.3 262.2L702.2 263.6L696.9 263.3Z" fill="#1b75f2"/>
<path d="M701.9 262.2L707.3 262.3L707.2 263.9L701.8 263.6Z" fill="#3188f6"/>
<path d="M706.9 262.3L712.3 262.3L712.2 264.2L706.8 263.9Z" fill="#2987f4"/>
<path d="M711.9 262.3L717.3 262.4L717.2 264.5L711.8 264.2Z" fill="#3693f5"/>
<path d="M716.9 262.4L721.4 262.5L721.3 264.7L716.8 264.5Z" fill="#419ef7"/>
<path d="M671.9 261.9L677.3 262.2L677.3 262.6L671.9 262.1Z" fill="#328bf4"/>
<path d="M676.9 262.2L682.3 262.4L682.2 263.1L676.9 262.6Z" fill="#3e92f7"/>
<path d="M681.9 262.4L687.3 262.7L687.2 263.5L681.8 263.0Z" fill="#2580f2"/>
<path d="M686.9 262.7L692.3 262.9L692.2 264.0L686.8 263.5Z" fill="#2a83f4"/>
<path d="M691.9 262.9L697.3 263.2L697.2 264.4L691.8 263.9Z" fill="#267ff4"/>
<path d="M696.9 263.1L702.3 263.4L702.2 264.9L696.8 264.4Z" fill="#358af7"/>
<path d="M701.9 263.4L707.3 263.6L707.1 265.3L701.8 264.8Z" fill="#2180f3"/>
<path d="M706.9 263.6L712.2 263.9L712.1 265.8L706.7 265.3Z" fill="#3490f6"/>
<path d="M716.8 264.1L722.2 264.4L722.1 266.7L716.7 266.2Z" fill="#44a2f7"/>
<path d="M721.8 264.4L723.8 264.5L723.6 266.8L721.7 266.6Z" fill="#45a6f7"/>
<path d="M671.9 262.1L677.3 262.5L677.2 262.9L671.9 262.3Z" fill="#48a0f7"/>
<path d="M676.9 262.5L682.2 262.9L682.2 263.6L676.8 262.9Z" fill="#3f98f6"/>
<path d="M681.8 262.9L687.2 263.4L687.1 264.2L681.8 263.5Z" fill="#328df4"/>
<path d="M686.8 263.3L692.2 263.8L692.1 264.8L686.7 264.1Z" fill="#3891f6"/>
<path d="M691.8 263.8L697.2 264.2L697.1 265.4L691.7 264.8Z" fill="#2d88f5"/>
<path d="M696.8 264.2L702.2 264.6L702.0 266.1L696.7 265.4Z" fill="#2f88f6"/>
<path d="M701.8 264.6L707.2 265.0L707.0 266.7L701.6 266.0Z" fill="#318df6"/>
<path d="M706.8 265.0L712.1 265.5L711.9 267.3L706.6 266.7Z" fill="#3b96f7"/>
<path d="M711.7 265.4L717.1 265.9L716.9 268.0L711.5 267.3Z" fill="#2d90f3"/>
<path d="M716.7 265.8L722.1 266.3L721.9 268.6L716.5 267.9Z" fill="#2d93f3"/>
<path d="M721.7 266.3L726.8 266.7L726.5 269.2L721.5 268.5Z" fill="#48a8f7"/>
<path d="M671.9 262.2L677.2 262.9L677.2 263.3L671.8 262.4Z" fill="#49a3f7"/>
<path d="M676.8 262.8L682.2 263.5L682.1 264.1L676.8 263.2Z" fill="#429df6"/>
<path d="M681.8 263.4L687.2 264.1L687.0 264.9L681.7 264.0Z" fill="#3290f4"/>
<path d="M686.8 264.0L692.1 264.6L692.0 265.7L686.6 264.8Z" fill="#2e8cf4"/>
<path d="M691.7 264.6L697.1 265.2L696.9 266.5L691.6 265.6Z" fill="#3e96f8"/>
<path d="M696.7 265.2L702.1 265.8L701.9 267.3L696.5 266.4Z" fill="#3590f7"/>
<path d="M701.7 265.8L707.0 266.4L706.8 268.1L701.5 267.2Z" fill="#2b8bf4"/>
<path d="M706.6 266.4L712.0 267.0L711.7 268.9L706.4 268.0Z" fill="#429ef7"/>
<path d="M711.6 267.0L716.9 267.6L716.7 269.7L711.3 268.8Z" fill="#43a2f7"/>
<path d="M671.8 262.4L677.2 263.2L677.1 263.6L671.8 262.6Z" fill="#54aef8"/>
<path d="M676.8 263.2L682.1 264.0L682.0 264.6L676.7 263.5Z" fill="#52abf8"/>
<path d="M681.7 263.9L687.1 264.7L686.9 265.6L681.6 264.5Z" fill="#45a1f7"/>
<path d="M686.7 264.7L692.0 265.5L691.8 266.5L686.5 265.5Z" fill="#3d9af6"/>
<path d="M691.6 265.4L696.9 266.3L696.7 267.5L691.4 266.5Z" fill="#3392f5"/>
<path d="M696.6 266.2L701.9 267.0L701.6 268.5L696.3 267.4Z" fill="#3895f7"/>
<path d="M701.5 267.0L706.8 267.8L706.5 269.4L701.2 268.4Z" fill="#2b8bf4"/>
<path d="M706.4 267.7L711.8 268.6L711.4 270.4L706.1 269.4Z" fill="#3997f6"/>
<path d="M711.4 268.5L716.7 269.3L716.3 271.4L711.1 270.3Z" fill="#45a2f7"/>
<path d="M716.3 269.3L721.7 270.1L721.3 272.4L716.0 271.3Z" fill="#43a4f6"/>
<path d="M671.8 262.5L677.1 263.6L677.0 264.0L671.8 262.7Z" fill="#50aef6"/>
<path d="M676.7 263.5L682.0 264.5L681.9 265.1L676.6 263.9Z" fill="#53aff7"/>
<path d="M681.6 264.4L686.9 265.4L686.8 266.2L681.5 265.0Z" fill="#4ba8f7"/>
<path d="M686.6 265.4L691.9 266.4L691.6 267.4L686.4 266.2Z" fill="#4ea9f8"/>
<path d="M691.5 266.3L696.8 267.3L696.5 268.5L691.3 267.3Z" fill="#3e9df6"/>
<path d="M696.4 267.2L701.7 268.2L701.4 269.7L696.1 268.4Z" fill="#3897f6"/>
<path d="M701.3 268.2L706.6 269.2L706.2 270.8L701.0 269.6Z" fill="#2387f2"/>
<path d="M706.2 269.1L711.5 270.1L711.1 272.0L705.9 270.7Z" fill="#3f9df7"/>
<path d="M711.1 270.0L716.4 271.1L716.0 273.1L710.7 271.9Z" fill="#46a5f7"/>
<path d="M716.0 271.0L721.3 272.0L720.8 274.2L715.6 273.0Z" fill="#4aaaf7"/>
<path d="M720.9 271.9L726.2 272.9L725.7 275.4L720.5 274.1Z" fill="#52b2f8"/>
<path d="M725.8 272.8L731.2 273.9L730.6 276.5L725.3 275.3Z" fill="#61bffa"/>
<path d="M730.8 273.8L736.1 274.8L735.5 277.7L730.2 276.4Z" fill="#52b7f5"/>
<path d="M671.8 262.7L677.1 263.9L677.0 264.3L671.7 262.9Z" fill="#60bcf8"/>
<path d="M676.7 263.8L681.9 265.0L681.8 265.6L676.6 264.2Z" fill="#50b0f6"/>
<path d="M681.5 264.9L686.8 266.1L686.6 266.9L681.4 265.5Z" fill="#4faef7"/>
<path d="M686.4 266.0L691.7 267.2L691.4 268.2L686.2 266.8Z" fill="#3ea1f5"/>
<path d="M691.3 267.1L696.6 268.3L696.3 269.5L691.0 268.1Z" fill="#399cf5"/>
<path d="M696.2 268.2L701.4 269.4L701.1 270.9L695.9 269.4Z" fill="#2a90f3"/>
<path d="M701.0 269.3L706.3 270.5L705.9 272.2L700.7 270.7Z" fill="#3195f5"/>
<path d="M705.9 270.5L711.2 271.6L710.7 273.5L705.5 272.1Z" fill="#389cf5"/>
<path d="M710.8 271.6L716.1 272.8L715.6 274.8L710.3 273.4Z" fill="#4faef8"/>
<path d="M720.5 273.8L725.8 275.0L725.2 277.4L720.0 276.0Z" fill="#6ac6fb"/>
<path d="M730.3 276.0L733.3 276.7L732.6 279.4L729.6 278.6Z" fill="#6fcff9"/>
<path d="M671.8 262.8L677.0 264.2L676.9 264.6L671.7 263.0Z" fill="#63bef7"/>
<path d="M676.6 264.1L681.8 265.5L681.6 266.1L676.5 264.5Z" fill="#65bff9"/>
<path d="M681.4 265.4L686.6 266.8L686.4 267.6L681.3 266.0Z" fill="#64befa"/>
<path d="M686.3 266.7L691.5 268.1L691.2 269.1L686.0 267.5Z" fill="#59b4f9"/>
<path d="M691.1 268.0L696.3 269.3L696.0 270.5L690.8 268.9Z" fill="#54b0f9"/>
<path d="M695.9 269.2L701.1 270.6L700.7 272.0L695.6 270.4Z" fill="#45a5f7"/>
<path d="M700.8 270.5L706.0 271.9L705.5 273.5L700.4 271.9Z" fill="#3d9ff7"/>
<path d="M705.6 271.8L710.8 273.2L710.3 275.0L705.1 273.4Z" fill="#46a6f8"/>
<path d="M710.4 273.1L715.6 274.4L715.1 276.5L709.9 274.9Z" fill="#51b1f9"/>
<path d="M715.3 274.3L720.5 275.7L719.8 277.9L714.7 276.3Z" fill="#58b8f9"/>
<path d="M720.1 275.6L725.3 277.0L724.6 279.4L719.5 277.8Z" fill="#5fbef9"/>
<path d="M724.9 276.9L730.1 278.3L729.4 280.9L724.2 279.3Z" fill="#6fccfb"/>
<path d="M671.7 263.0L676.9 264.6L676.7 265.0L671.6 263.2Z" fill="#85d3fc"/>
<path d="M676.5 264.4L681.7 266.0L681.5 266.6L676.4 264.8Z" fill="#6ac0f8"/>
<path d="M681.3 265.9L686.5 267.5L686.2 268.2L681.1 266.5Z" fill="#69bff9"/>
<path d="M686.1 267.3L691.2 268.9L690.9 269.9L685.8 268.1Z" fill="#67befa"/>
<path d="M690.9 268.8L696.0 270.3L695.6 271.5L690.5 269.8Z" fill="#4fadf7"/>
<path d="M695.6 270.2L700.8 271.8L700.4 273.2L695.3 271.4Z" fill="#3ca0f5"/>
<path d="M700.4 271.7L705.6 273.2L705.1 274.8L700.0 273.0Z" fill="#40a2f7"/>
<path d="M705.2 273.1L710.4 274.7L709.8 276.5L704.7 274.7Z" fill="#379df5"/>
<path d="M710.0 274.6L715.2 276.1L714.5 278.1L709.4 276.3Z" fill="#3aa1f5"/>
<path d="M714.8 276.0L720.0 277.6L719.2 279.8L714.1 278.0Z" fill="#48adf6"/>
<path d="M729.1 280.3L734.3 281.9L733.4 284.7L728.3 282.9Z" fill="#5ec1f6"/>
<path d="M733.9 281.8L739.1 283.3L738.1 286.3L733.0 284.6Z" fill="#82ddfc"/>
<path d="M738.7 283.2L740.1 283.6L739.1 286.7L737.8 286.2Z" fill="#7bd9f9"/>
<path d="M671.7 263.2L676.8 264.9L676.6 265.3L671.6 263.3Z" fill="#80cdfa"/>
<path d="M676.4 264.8L681.5 266.5L681.3 267.1L676.3 265.1Z" fill="#6fc2f8"/>
<path d="M681.1 266.4L686.2 268.1L686.0 268.9L680.9 266.9Z" fill="#64baf7"/>
<path d="M685.9 268.0L691.0 269.7L690.6 270.7L685.6 268.8Z" fill="#66bcf9"/>
<path d="M690.6 269.6L695.7 271.3L695.3 272.5L690.2 270.6Z" fill="#5db7f9"/>
<path d="M695.3 271.2L700.4 272.9L699.9 274.3L694.9 272.4Z" fill="#48a9f7"/>
<path d="M700.1 272.8L705.2 274.6L704.6 276.1L699.6 274.2Z" fill="#44a7f8"/>
<path d="M704.8 274.4L709.9 276.2L709.3 277.9L704.2 276.0Z" fill="#41a6f6"/>
<path d="M709.5 276.0L714.6 277.8L713.9 279.7L708.9 277.8Z" fill="#59b9fa"/>
<path d="M714.3 277.7L719.4 279.4L718.6 281.6L713.6 279.6Z" fill="#5bbcf8"/>
<path d="M719.0 279.3L724.1 281.0L723.2 283.4L718.2 281.4Z" fill="#59bcf7"/>
<path d="M723.7 280.9L728.8 282.6L727.9 285.2L722.9 283.2Z" fill="#6bcaf9"/>
<path d="M671.6 263.3L676.7 265.2L676.5 265.6L671.5 263.5Z" fill="#90d5fb"/>
<path d="M676.3 265.1L681.3 267.0L681.1 267.6L676.1 265.4Z" fill="#8fd5fc"/>
<path d="M681.0 266.8L686.0 268.8L685.7 269.5L680.7 267.4Z" fill="#7fccfb"/>
<path d="M685.6 268.6L690.7 270.5L690.3 271.5L685.3 269.4Z" fill="#63baf7"/>
<path d="M690.3 270.4L695.4 272.3L694.9 273.5L689.9 271.4Z" fill="#67befa"/>
<path d="M695.0 272.2L700.0 274.1L699.5 275.4L694.5 273.3Z" fill="#51aff8"/>
<path d="M699.7 274.0L704.7 275.9L704.1 277.4L699.1 275.3Z" fill="#41a5f6"/>
<path d="M704.3 275.7L709.4 277.6L708.7 279.4L703.7 277.3Z" fill="#4aadf9"/>
<path d="M709.0 277.5L714.0 279.4L713.3 281.4L708.3 279.2Z" fill="#52b4f9"/>
<path d="M713.7 279.3L718.7 281.2L717.9 283.3L712.9 281.2Z" fill="#4eb3f7"/>
<path d="M727.7 284.6L732.7 286.5L731.6 289.2L726.7 287.1Z" fill="#75d2fa"/>
<path d="M737.0 288.2L738.9 288.9L737.7 291.8L735.9 291.0Z" fill="#85e0fa"/>
<path d="M671.5 263.4L676.5 265.5L676.4 265.9L671.5 263.6Z" fill="#9bdafb"/>
<path d="M676.2 265.4L681.1 267.5L680.9 268.0L676.0 265.7Z" fill="#8fd4fb"/>
<path d="M680.8 267.3L685.7 269.4L685.4 270.2L680.5 267.9Z" fill="#85cffb"/>
<path d="M685.4 269.3L690.4 271.3L689.9 272.3L685.0 270.0Z" fill="#6bbef8"/>
<path d="M690.0 271.2L695.0 273.3L694.5 274.4L689.6 272.1Z" fill="#6dc2fa"/>
<path d="M694.6 273.1L699.6 275.2L699.0 276.6L694.1 274.3Z" fill="#52b1f7"/>
<path d="M699.2 275.1L704.2 277.2L703.5 278.7L698.6 276.4Z" fill="#44a9f6"/>
<path d="M703.8 277.0L708.8 279.1L708.0 280.8L703.1 278.5Z" fill="#38a2f5"/>
<path d="M708.4 278.9L713.4 281.0L712.6 282.9L707.7 280.6Z" fill="#47aef7"/>
<path d="M713.0 280.9L718.0 283.0L717.1 285.1L712.2 282.8Z" fill="#63c2fa"/>
<path d="M722.3 284.8L727.2 286.8L726.1 289.3L721.2 287.0Z" fill="#66c7f8"/>
<path d="M726.9 286.7L731.8 288.8L730.6 291.5L725.8 289.2Z" fill="#68c9f7"/>
<path d="M731.5 288.6L736.4 290.7L735.2 293.6L730.3 291.3Z" fill="#76d4f8"/>
<path d="M671.5 263.6L676.4 265.9L676.2 266.2L671.4 263.8Z" fill="#aee4fd"/>
<path d="M676.0 265.7L680.9 267.9L680.7 268.5L675.8 266.0Z" fill="#a8e3fe"/>
<path d="M680.6 267.8L685.5 270.0L685.1 270.8L680.3 268.3Z" fill="#92d6fc"/>
<path d="M685.1 269.9L690.0 272.1L689.5 273.1L684.7 270.6Z" fill="#8ed5fd"/>
<path d="M689.6 272.0L694.5 274.2L694.0 275.4L689.2 272.9Z" fill="#67bdf8"/>
<path d="M694.2 274.1L699.1 276.3L698.4 277.7L693.6 275.2Z" fill="#5db8f8"/>
<path d="M698.7 276.2L703.6 278.4L702.9 279.9L698.1 277.5Z" fill="#4fb1f7"/>
<path d="M703.3 278.3L708.2 280.5L707.3 282.2L702.5 279.8Z" fill="#3ea8f6"/>
<path d="M707.8 280.4L712.7 282.6L711.8 284.5L707.0 282.0Z" fill="#54b8fa"/>
<path d="M712.3 282.5L717.2 284.7L716.2 286.8L711.4 284.3Z" fill="#54b9f8"/>
<path d="M716.9 284.6L721.8 286.8L720.7 289.1L715.9 286.6Z" fill="#59bdf8"/>
<path d="M721.4 286.7L726.3 288.9L725.1 291.4L720.3 288.9Z" fill="#67c7f9"/>
<path d="M726.0 288.8L730.9 291.0L729.6 293.7L724.8 291.2Z" fill="#71cff9"/>
<path d="M730.5 290.9L735.4 293.1L734.0 295.9L729.2 293.5Z" fill="#7dd8fa"/>
<path d="M735.0 292.9L739.9 295.2L738.5 298.2L733.7 295.8Z" fill="#7fdbf9"/>
<path d="M739.6 295.0L741.1 295.8L739.7 298.8L738.1 298.0Z" fill="#81dcf8"/>
<path d="M671.4 263.7L676.2 266.2L676.0 266.5L671.3 263.9Z" fill="#baeafd"/>
<path d="M675.9 266.0L680.7 268.4L680.4 269.0L675.7 266.3Z" fill="#abe2fd"/>
<path d="M680.3 268.2L685.2 270.7L684.8 271.4L680.1 268.8Z" fill="#a1defd"/>
<path d="M684.8 270.5L689.6 272.9L689.1 273.8L684.4 271.2Z" fill="#90d5fc"/>
<path d="M689.3 272.7L694.1 275.2L693.5 276.3L688.8 273.7Z" fill="#73c5f9"/>
<path d="M693.7 275.0L698.6 277.4L697.9 278.7L693.2 276.1Z" fill="#6ac1fa"/>
<path d="M698.2 277.3L703.0 279.7L702.2 281.2L697.5 278.5Z" fill="#61befa"/>
<path d="M702.7 279.5L707.5 281.9L706.6 283.6L701.9 281.0Z" fill="#3da8f6"/>
<path d="M707.1 281.8L711.9 284.2L711.0 286.0L706.2 283.4Z" fill="#42adf6"/>
<path d="M711.6 284.0L716.4 286.5L715.3 288.5L710.6 285.8Z" fill="#5dc0fa"/>
<path d="M716.0 286.3L720.9 288.7L719.7 290.9L715.0 288.3Z" fill="#6acafb"/>
<path d="M738.4 297.5L740.9 298.8L739.3 301.9L736.8 300.5Z" fill="#87e1f9"/>
<path d="M671.3 263.9L676.1 266.5L675.9 266.8L671.2 264.0Z" fill="#cef6ff"/>
<path d="M675.7 266.3L680.5 268.9L680.1 269.4L675.5 266.6Z" fill="#bcedff"/>
<path d="M680.1 268.7L684.8 271.3L684.4 272.0L679.8 269.2Z" fill="#a4dffd"/>
<path d="M684.5 271.1L689.2 273.7L688.7 274.6L684.1 271.8Z" fill="#98dbfe"/>
<path d="M688.9 273.5L693.6 276.1L693.0 277.2L688.4 274.4Z" fill="#73c5f9"/>
<path d="M693.3 275.9L698.0 278.5L697.3 279.8L692.6 277.0Z" fill="#69c2fa"/>
<path d="M697.6 278.3L702.4 280.9L701.5 282.4L696.9 279.6Z" fill="#53b6f8"/>
<path d="M702.0 280.7L706.7 283.3L705.8 285.0L701.2 282.2Z" fill="#52b8f9"/>
<path d="M706.4 283.1L711.1 285.7L710.1 287.5L705.5 284.8Z" fill="#4db5f6"/>
<path d="M710.8 285.5L715.5 288.1L714.4 290.1L709.7 287.3Z" fill="#6ccbfb"/>
<path d="M715.2 288.0L719.9 290.6L718.6 292.7L714.0 289.9Z" fill="#67c8f8"/>
<path d="M719.5 290.4L724.3 293.0L722.9 295.3L718.3 292.5Z" fill="#80dafc"/>
<path d="M723.9 292.8L728.7 295.4L727.2 297.9L722.6 295.1Z" fill="#79d6f9"/>
<path d="M732.7 297.6L734.6 298.6L733.0 301.4L731.1 300.3Z" fill="#95ebfc"/>
<path d="M671.3 264.0L675.9 266.8L675.7 267.1L671.2 264.2Z" fill="#c3ecfd"/>
<path d="M675.6 266.6L680.2 269.3L679.9 269.9L675.3 266.9Z" fill="#aee1fc"/>
<path d="M679.9 269.1L684.5 271.9L684.1 272.6L679.5 269.6Z" fill="#a2ddfc"/>
<path d="M684.1 271.7L688.8 274.4L688.2 275.3L683.7 272.4Z" fill="#9ddefe"/>
<path d="M688.4 274.2L693.1 277.0L692.4 278.1L687.9 275.1Z" fill="#7ccbfa"/>
<path d="M692.7 276.8L697.4 279.6L696.6 280.8L692.1 277.9Z" fill="#65c0f8"/>
<path d="M697.0 279.4L701.7 282.1L700.8 283.5L696.3 280.6Z" fill="#5cbefa"/>
<path d="M701.3 281.9L706.0 284.7L705.0 286.3L700.5 283.3Z" fill="#55bbf8"/>
<path d="M705.6 284.5L710.3 287.3L709.2 289.0L704.6 286.1Z" fill="#63c5fa"/>
<path d="M709.9 287.0L714.6 289.8L713.3 291.8L708.8 288.8Z" fill="#67c9f9"/>
<path d="M718.5 292.2L723.1 294.9L721.7 297.2L717.2 294.3Z" fill="#83ddfc"/>
<path d="M722.8 294.7L727.4 297.5L725.9 300.0L721.4 297.0Z" fill="#7cd8f9"/>
<path d="M727.1 297.3L730.8 299.5L729.2 302.1L725.6 299.8Z" fill="#8ee5fb"/>
<path d="M671.2 264.1L675.7 267.1L675.5 267.4L671.1 264.3Z" fill="#d7f7ff"/>
<path d="M675.4 266.8L679.9 269.8L679.6 270.3L675.2 267.2Z" fill="#b7e6fd"/>
<path d="M679.6 269.6L684.1 272.5L683.7 273.2L679.2 270.1Z" fill="#a6dffc"/>
<path d="M683.8 272.3L688.3 275.2L687.7 276.1L683.3 272.9Z" fill="#9cdcfd"/>
<path d="M688.0 275.0L692.5 277.9L691.8 278.9L687.4 275.8Z" fill="#7dcbf9"/>
<path d="M692.2 277.7L696.7 280.6L695.9 281.8L691.5 278.7Z" fill="#80d2fd"/>
<path d="M696.4 280.4L700.9 283.3L700.0 284.7L695.6 281.6Z" fill="#55b9f7"/>
<path d="M700.6 283.1L705.1 286.0L704.1 287.6L699.7 284.5Z" fill="#5bc0f9"/>
<path d="M704.8 285.8L709.3 288.7L708.2 290.5L703.8 287.4Z" fill="#5dc1f8"/>
<path d="M709.0 288.5L713.5 291.4L712.3 293.3L707.8 290.2Z" fill="#6cccfa"/>
<path d="M717.4 293.9L722.0 296.9L720.4 299.1L716.0 296.0Z" fill="#89e1fd"/>
<path d="M721.6 296.6L726.2 299.6L724.5 302.0L720.1 298.9Z" fill="#7bd8f9"/>
<path d="M730.0 302.1L730.8 302.6L729.1 305.2L728.3 304.6Z" fill="#8ae3f9"/>
<path d="M671.1 264.3L675.5 267.4L675.3 267.7L671.0 264.4Z" fill="#cceefd"/>
<path d="M675.2 267.1L679.6 270.2L679.3 270.7L675.0 267.4Z" fill="#b3e2fb"/>
<path d="M679.3 270.0L683.7 273.1L683.3 273.7L678.9 270.5Z" fill="#a0dafa"/>
<path d="M683.4 272.8L687.8 275.9L687.2 276.8L682.9 273.5Z" fill="#a4e3fe"/>
<path d="M687.5 275.7L692.0 278.8L691.2 279.8L686.9 276.5Z" fill="#89d6fc"/>
<path d="M691.6 278.5L696.1 281.6L695.2 282.8L690.9 279.5Z" fill="#79d1fc"/>
<path d="M695.7 281.4L700.2 284.5L699.2 285.8L694.9 282.6Z" fill="#69cafb"/>
<path d="M699.8 284.2L704.3 287.3L703.2 288.8L698.9 285.6Z" fill="#6fcffb"/>
<path d="M703.9 287.1L708.4 290.2L707.1 291.9L702.8 288.6Z" fill="#69caf8"/>
<path d="M716.3 295.7L720.7 298.7L719.1 300.9L714.8 297.7Z" fill="#8ee5fc"/>
<path d="M720.4 298.5L723.1 300.4L721.4 302.7L718.8 300.7Z" fill="#82ddf8"/>
<path d="M671.0 264.4L675.3 267.6L675.1 268.0L670.9 264.5Z" fill="#e3fcff"/>
<path d="M675.0 267.4L679.3 270.6L678.9 271.1L674.8 267.7Z" fill="#ccf2ff"/>
<path d="M679.0 270.4L683.3 273.6L682.8 274.3L678.6 270.9Z" fill="#b9eafe"/>
<path d="M683.0 273.4L687.3 276.6L686.7 277.4L682.5 274.0Z" fill="#aae6fe"/>
<path d="M687.0 276.4L691.3 279.6L690.6 280.6L686.4 277.2Z" fill="#8dd7fb"/>
<path d="M691.0 279.4L695.3 282.6L694.4 283.8L690.3 280.3Z" fill="#74ccf9"/>
<path d="M695.0 282.4L699.3 285.6L698.3 286.9L694.1 283.5Z" fill="#66c8fa"/>
<path d="M699.0 285.4L703.4 288.6L702.2 290.1L698.0 286.7Z" fill="#64c7f8"/>
<path d="M703.0 288.4L707.4 291.6L706.1 293.2L701.9 289.8Z" fill="#64c8f7"/>
<path d="M707.0 291.4L711.4 294.6L709.9 296.4L705.8 293.0Z" fill="#72d1f9"/>
<path d="M715.0 297.3L719.4 300.6L717.7 302.7L713.5 299.3Z" fill="#80dbf9"/>
<path d="M719.0 300.3L723.4 303.6L721.6 305.9L717.4 302.5Z" fill="#9beefe"/>
<path d="M723.1 303.3L723.7 303.8L721.9 306.1L721.3 305.6Z" fill="#9ef1fd"/>
<path d="M670.9 264.5L675.1 267.9L674.8 268.2L670.8 264.7Z" fill="#d9f2fe"/>
<path d="M674.8 267.7L679.0 271.0L678.6 271.5L674.5 268.0Z" fill="#c6ecfd"/>
<path d="M678.7 270.8L682.9 274.2L682.4 274.8L678.3 271.3Z" fill="#afe3fc"/>
<path d="M682.6 273.9L686.8 277.3L686.1 278.1L682.1 274.5Z" fill="#a3e2fd"/>
<path d="M686.5 277.1L690.7 280.4L689.9 281.4L685.8 277.8Z" fill="#94defd"/>
<path d="M690.4 280.2L694.6 283.6L693.7 284.7L689.6 281.1Z" fill="#7dd5fc"/>
<path d="M694.3 283.3L698.5 286.7L697.4 288.0L693.4 284.4Z" fill="#67c9f8"/>
<path d="M698.2 286.5L702.4 289.8L701.2 291.3L697.1 287.7Z" fill="#69cbf8"/>
<path d="M702.1 289.6L706.3 293.0L704.9 294.6L700.9 291.0Z" fill="#6ccdf7"/>
<path d="M713.8 299.0L718.0 302.4L716.2 304.4L712.2 300.9Z" fill="#86e0fa"/>
<path d="M670.8 264.6L674.9 268.2L674.6 268.5L670.7 264.8Z" fill="#dbf2fd"/>
<path d="M674.6 267.9L678.7 271.4L678.3 271.9L674.3 268.2Z" fill="#daf8ff"/>
<path d="M678.4 271.2L682.5 274.7L681.9 275.3L678.0 271.6Z" fill="#aee2fb"/>
<path d="M682.2 274.4L686.2 278.0L685.6 278.7L681.6 275.0Z" fill="#a6e4fc"/>
<path d="M685.9 277.7L690.0 281.2L689.2 282.2L685.3 278.5Z" fill="#94dffc"/>
<path d="M689.7 281.0L693.8 284.5L692.8 285.6L688.9 281.9Z" fill="#7fd8fb"/>
<path d="M693.5 284.2L697.6 287.8L696.5 289.0L692.5 285.3Z" fill="#72d2fa"/>
<path d="M697.3 287.5L701.4 291.0L700.1 292.4L696.2 288.7Z" fill="#83defc"/>
<path d="M701.1 290.8L705.2 294.3L703.8 295.9L699.8 292.2Z" fill="#83ddfb"/>
<path d="M708.7 297.3L712.7 300.8L711.1 302.7L707.1 299.0Z" fill="#8ae3fb"/>
<path d="M712.4 300.6L716.2 303.8L714.4 305.9L710.8 302.4Z" fill="#86e0f9"/>
<path d="M670.7 264.8L674.7 268.4L674.4 268.7L670.6 264.9Z" fill="#e7f8fe"/>
<path d="M674.4 268.2L678.3 271.8L677.9 272.3L674.1 268.4Z" fill="#d1f2fe"/>
<path d="M678.0 271.6L682.0 275.2L681.4 275.8L677.6 272.0Z" fill="#c2f1ff"/>
<path d="M681.7 274.9L685.7 278.6L684.9 279.4L681.1 275.5Z" fill="#9cdffb"/>
<path d="M685.4 278.3L689.3 282.0L688.5 282.9L684.7 279.1Z" fill="#8bdcfb"/>
<path d="M689.0 281.7L693.0 285.4L692.0 286.5L688.2 282.6Z" fill="#79d7fb"/>
<path d="M692.7 285.1L696.7 288.8L695.5 290.0L691.7 286.2Z" fill="#80dcfb"/>
<path d="M696.4 288.5L700.3 292.2L699.0 293.6L695.2 289.7Z" fill="#7ddafa"/>
<path d="M700.1 291.9L704.0 295.6L702.6 297.1L698.8 293.3Z" fill="#82ddfa"/>
<path d="M703.7 295.3L707.7 299.0L706.1 300.7L702.3 296.8Z" fill="#91e7fc"/>
<path d="M707.4 298.7L710.5 301.6L708.8 303.3L705.8 300.4Z" fill="#8ae2fa"/>
<path d="M670.6 264.9L674.4 268.7L674.1 269.0L670.5 265.0Z" fill="#e2f4fd"/>
<path d="M674.1 268.4L678.0 272.2L677.5 272.6L673.9 268.7Z" fill="#c8ebfb"/>
<path d="M677.7 271.9L681.5 275.7L680.9 276.3L677.3 272.3Z" fill="#c8f4ff"/>
<path d="M681.2 275.4L685.1 279.2L684.3 280.0L680.6 276.0Z" fill="#97dbf9"/>
<path d="M684.8 279.0L688.6 282.8L687.7 283.6L684.0 279.7Z" fill="#8dddfb"/>
<path d="M688.3 282.5L692.2 286.3L691.1 287.3L687.4 283.3Z" fill="#73d4f9"/>
<path d="M691.9 286.0L695.7 289.8L694.5 291.0L690.8 287.0Z" fill="#71d2f8"/>
<path d="M695.4 289.5L699.3 293.3L697.9 294.6L694.2 290.7Z" fill="#7ddaf9"/>
<path d="M699.0 293.1L702.8 296.9L701.3 298.3L697.6 294.4Z" fill="#7fdcf9"/>
<path d="M706.1 300.1L709.1 303.1L707.3 304.8L704.4 301.7Z" fill="#8fe7fb"/>
<path d="M670.5 265.0L674.2 268.9L673.9 269.2L670.3 265.1Z" fill="#ddf0fc"/>
<path d="M673.9 268.6L677.6 272.6L677.1 273.0L673.6 268.9Z" fill="#cbedfc"/>
<path d="M677.3 272.3L681.0 276.2L680.4 276.8L676.9 272.7Z" fill="#b5e7fb"/>
<path d="M680.7 275.9L684.4 279.9L683.7 280.5L680.1 276.5Z" fill="#afecfe"/>
<path d="M684.2 279.6L687.9 283.5L686.9 284.3L683.4 280.2Z" fill="#8bdcfa"/>
<path d="M687.6 283.2L691.3 287.1L690.2 288.1L686.7 284.0Z" fill="#74d4f9"/>
<path d="M691.0 286.8L694.7 290.8L693.5 291.9L689.9 287.8Z" fill="#7fdbfa"/>
<path d="M697.9 294.1L701.6 298.1L700.0 299.5L696.5 295.4Z" fill="#8de6fc"/>
<path d="M701.3 297.8L705.0 301.7L703.3 303.3L699.7 299.2Z" fill="#8de5fb"/>
<path d="M704.7 301.4L707.0 303.9L705.2 305.5L703.0 303.0Z" fill="#9aeefd"/>
<path d="M670.4 265.1L673.9 269.1L673.6 269.4L670.2 265.2Z" fill="#ddf1fc"/>
<path d="M673.7 268.8L677.2 272.9L676.7 273.3L673.4 269.1Z" fill="#d2f2fe"/>
<path d="M677.0 272.6L680.5 276.7L679.9 277.2L676.5 273.0Z" fill="#bfeefd"/>
<path d="M680.2 276.4L683.8 280.4L683.0 281.1L679.6 276.9Z" fill="#9ee1fb"/>
<path d="M683.5 280.1L687.1 284.2L686.1 285.0L682.8 280.8Z" fill="#90e1fc"/>
<path d="M686.8 283.9L690.4 288.0L689.3 288.9L685.9 284.7Z" fill="#79d7f9"/>
<path d="M690.1 287.7L693.7 291.7L692.4 292.8L689.0 288.6Z" fill="#84dffb"/>
<path d="M693.4 291.4L697.0 295.5L695.5 296.7L692.2 292.5Z" fill="#88e2fb"/>
<path d="M696.7 295.2L700.3 299.2L698.7 300.6L695.3 296.4Z" fill="#95ebfd"/>
<path d="M700.0 298.9L703.6 303.0L701.8 304.5L698.4 300.3Z" fill="#93eafc"/>
<path d="M703.3 302.7L704.5 304.1L702.7 305.6L701.5 304.2Z" fill="#89e3fa"/>
<path d="M670.2 265.2L673.7 269.4L673.3 269.6L670.1 265.3Z" fill="#def1fc"/>
<path d="M673.4 269.1L676.8 273.2L676.3 273.6L673.1 269.3Z" fill="#d9f7ff"/>
<path d="M676.6 272.9L680.0 277.1L679.3 277.6L676.1 273.3Z" fill="#b2e6fb"/>
<path d="M679.7 276.8L683.1 281.0L682.3 281.6L679.1 277.3Z" fill="#a1e4fb"/>
<path d="M682.9 280.7L686.3 284.9L685.3 285.6L682.1 281.3Z" fill="#89ddfb"/>
<path d="M686.0 284.6L689.5 288.7L688.3 289.6L685.1 285.3Z" fill="#84dffb"/>
<path d="M689.2 288.4L692.6 292.6L691.3 293.6L688.1 289.3Z" fill="#89e2fc"/>
<path d="M692.4 292.3L695.8 296.5L694.3 297.7L691.1 293.3Z" fill="#84dffa"/>
<path d="M695.5 296.2L698.9 300.4L697.3 301.7L694.1 297.3Z" fill="#87e2fa"/>
<path d="M698.7 300.1L702.1 304.2L700.3 305.7L697.1 301.3Z" fill="#9aeffe"/>
<path d="M701.8 303.9L702.2 304.4L700.4 305.8L700.0 305.3Z" fill="#95ecfc"/>
<path d="M670.1 265.3L673.4 269.6L673.1 269.8L670.0 265.4Z" fill="#f0feff"/>
<path d="M673.1 269.3L676.4 273.6L675.9 273.9L672.8 269.5Z" fill="#d1f4fe"/>
<path d="M676.2 273.2L679.4 277.6L678.8 278.0L675.7 273.6Z" fill="#b2eafc"/>
<path d="M679.2 277.2L682.5 281.5L681.6 282.1L678.5 277.7Z" fill="#9ee6fd"/>
<path d="M682.2 281.2L685.5 285.5L684.5 286.3L681.4 281.8Z" fill="#88e1fc"/>
<path d="M685.2 285.2L688.5 289.5L687.3 290.4L684.2 285.9Z" fill="#77d6f8"/>
<path d="M688.3 289.2L691.5 293.5L690.2 294.5L687.1 290.0Z" fill="#84dffa"/>
<path d="M691.3 293.2L694.5 297.5L693.0 298.6L689.9 294.1Z" fill="#8de6fc"/>
<path d="M694.3 297.1L696.9 300.6L695.3 301.8L692.8 298.2Z" fill="#93ebfd"/>
<path d="M670.0 265.4L673.1 269.8L672.8 270.0L669.8 265.5Z" fill="#e6f7fe"/>
<path d="M672.9 269.5L676.0 273.9L675.5 274.2L672.5 269.7Z" fill="#d7f9ff"/>
<path d="M675.8 273.5L678.9 278.0L678.2 278.4L675.3 273.9Z" fill="#bcf1ff"/>
<path d="M678.6 277.6L681.8 282.0L680.9 282.6L678.0 278.1Z" fill="#9ae5fc"/>
<path d="M681.5 281.7L684.6 286.1L683.6 286.8L680.7 282.3Z" fill="#7ad8f9"/>
<path d="M684.4 285.8L687.5 290.2L686.3 291.0L683.4 286.5Z" fill="#89e3fc"/>
<path d="M687.3 289.9L690.4 294.3L689.0 295.2L686.1 290.7Z" fill="#85e0fb"/>
<path d="M690.2 294.0L693.3 298.4L691.7 299.4L688.8 294.9Z" fill="#8ae5fb"/>
<path d="M693.1 298.1L694.6 300.3L693.0 301.4L691.5 299.1Z" fill="#8fe9fc"/>
<path d="M669.9 265.5L672.8 270.0L672.5 270.2L669.7 265.6Z" fill="#e9f9fe"/>
<path d="M672.6 269.6L675.6 274.2L675.0 274.5L672.3 269.9Z" fill="#d3f5fe"/>
<path d="M675.3 273.8L678.3 278.4L677.6 278.8L674.8 274.2Z" fill="#b6ebfd"/>
<path d="M678.1 278.0L681.0 282.5L680.1 283.1L677.4 278.4Z" fill="#8dd9f9"/>
<path d="M680.8 282.2L683.8 286.7L682.7 287.4L679.9 282.7Z" fill="#8de4fd"/>
<path d="M683.6 286.4L686.5 290.9L685.3 291.7L682.5 287.0Z" fill="#7cd9f9"/>
<path d="M689.0 294.8L692.0 299.3L690.4 300.3L687.6 295.6Z" fill="#7cdbf9"/>
<path d="M669.7 265.5L672.5 270.2L672.2 270.4L669.6 265.6Z" fill="#e2f4fd"/>
<path d="M672.3 269.8L675.1 274.4L674.6 274.8L672.0 270.0Z" fill="#d5f5fe"/>
<path d="M674.9 274.1L677.7 278.7L677.0 279.1L674.4 274.4Z" fill="#b9ecfd"/>
<path d="M677.5 278.4L680.3 283.0L679.4 283.5L676.8 278.8Z" fill="#a8ebfd"/>
<path d="M680.1 282.7L682.9 287.3L681.8 287.9L679.2 283.2Z" fill="#83dcfa"/>
<path d="M682.7 286.9L685.5 291.6L684.2 292.3L681.6 287.6Z" fill="#7dd9f9"/>
<path d="M685.3 291.2L688.1 295.8L686.6 296.7L684.0 291.9Z" fill="#7cd9f9"/>
<path d="M690.5 299.8L693.2 304.4L691.4 305.4L688.8 300.7Z" fill="#7adaf8"/>
<path d="M693.0 304.0L693.9 305.4L692.0 306.5L691.2 305.1Z" fill="#8ce8fc"/>
<path d="M669.6 265.6L672.2 270.3L671.9 270.5L669.4 265.7Z" fill="#e1f4fd"/>
<path d="M672.0 270.0L674.7 274.7L674.1 275.0L671.7 270.2Z" fill="#c5edfc"/>
<path d="M674.5 274.4L677.1 279.1L676.4 279.5L673.9 274.6Z" fill="#b2ebfd"/>
<path d="M676.9 278.7L679.5 283.4L678.6 283.9L676.2 279.1Z" fill="#92e0fb"/>
<path d="M679.4 283.1L682.0 287.8L680.9 288.4L678.4 283.6Z" fill="#77d5f8"/>
<path d="M681.8 287.5L684.4 292.2L683.1 292.9L680.7 288.0Z" fill="#83defa"/>
<path d="M689.1 300.5L689.6 301.5L688.0 302.4L687.5 301.4Z" fill="#80e0fa"/>
<path d="M669.5 265.7L671.9 270.5L671.6 270.7L669.3 265.8Z" fill="#e6fcff"/>
<path d="M671.7 270.1L674.2 275.0L673.6 275.2L671.4 270.3Z" fill="#bae7fc"/>
<path d="M674.0 274.6L676.5 279.4L675.7 279.8L673.5 274.9Z" fill="#b0eafe"/>
<path d="M676.3 279.0L678.8 283.8L677.8 284.3L675.6 279.4Z" fill="#7bcff7"/>
<path d="M678.6 283.5L681.1 288.3L679.9 288.8L677.7 283.9Z" fill="#81dafb"/>
<path d="M680.9 287.9L683.4 292.7L682.0 293.4L679.8 288.5Z" fill="#74d2f9"/>
<path d="M685.5 296.8L687.9 301.6L686.2 302.5L684.0 297.6Z" fill="#84e0fc"/>
<path d="M687.7 301.3L688.4 302.6L686.7 303.4L686.1 302.1Z" fill="#7dddfa"/>
<path d="M669.3 265.8L671.6 270.7L671.2 270.8L669.1 265.8Z" fill="#c7ebfd"/>
<path d="M671.4 270.3L673.7 275.2L673.2 275.4L671.1 270.5Z" fill="#abe1fc"/>
<path d="M673.6 274.8L675.9 279.7L675.1 280.0L673.0 275.1Z" fill="#96ddfd"/>
<path d="M675.7 279.3L678.0 284.2L677.0 284.7L675.0 279.7Z" fill="#76d0fb"/>
<path d="M677.8 283.9L680.1 288.8L679.0 289.3L676.9 284.3Z" fill="#61c3f6"/>
<path d="M680.0 288.4L682.3 293.3L680.9 293.9L678.8 288.9Z" fill="#78d5fb"/>
<path d="M669.2 265.8L671.3 270.8L670.9 271.0L669.0 265.9Z" fill="#c1ebfe"/>
<path d="M671.1 270.4L673.3 275.4L672.7 275.6L670.8 270.6Z" fill="#a1dcfc"/>
<path d="M673.1 275.0L675.2 280.0L674.5 280.3L672.5 275.3Z" fill="#7fcbf9"/>
<path d="M675.1 279.6L677.2 284.6L676.2 285.0L674.3 279.9Z" fill="#73cafa"/>
<path d="M677.1 284.2L679.2 289.2L678.0 289.7L676.1 284.6Z" fill="#5ebff7"/>
<path d="M679.0 288.8L681.1 293.8L679.8 294.3L677.9 289.3Z" fill="#5abef6"/>
<path d="M681.0 293.4L683.1 298.4L681.6 299.0L679.7 294.0Z" fill="#58bff6"/>
<path d="M669.0 265.9L671.0 270.9L670.6 271.1L668.9 266.0Z" fill="#b9e9ff"/>
<path d="M670.8 270.6L672.8 275.6L672.2 275.8L670.5 270.7Z" fill="#9bd9fc"/>
<path d="M672.6 275.2L674.6 280.3L673.8 280.5L672.1 275.4Z" fill="#84cefb"/>
<path d="M674.5 279.9L676.4 284.9L675.4 285.3L673.7 280.2Z" fill="#69c0f9"/>
<path d="M676.3 284.5L678.2 289.6L677.0 290.0L675.3 284.9Z" fill="#54b5f7"/>
<path d="M678.1 289.2L680.0 294.2L678.6 294.7L676.9 289.6Z" fill="#50b4f6"/>
<path d="M681.7 298.5L683.6 303.6L681.9 304.2L680.1 299.1Z" fill="#49b3f5"/>
<path d="M683.5 303.2L684.0 304.6L682.2 305.3L681.7 303.8Z" fill="#46b3f4"/>
<path d="M668.9 265.9L670.7 271.0L670.3 271.2L668.7 266.0Z" fill="#9fdbfc"/>
<path d="M670.5 270.7L672.3 275.8L671.7 276.0L670.1 270.8Z" fill="#80cafa"/>
<path d="M672.2 275.4L673.9 280.5L673.2 280.8L671.6 275.6Z" fill="#65bbf8"/>
<path d="M673.8 280.1L675.6 285.2L674.6 285.5L673.0 280.4Z" fill="#40a5f4"/>
<path d="M675.5 284.8L677.2 289.9L676.0 290.3L674.5 285.2Z" fill="#52b4f8"/>
<path d="M678.7 294.3L680.1 298.3L678.6 298.8L677.4 294.7Z" fill="#3caaf4"/>
<path d="M668.7 266.0L670.3 271.2L669.9 271.3L668.5 266.1Z" fill="#94d8fc"/>
<path d="M670.2 270.8L671.8 275.9L671.2 276.1L669.8 270.9Z" fill="#80ccfc"/>
<path d="M671.7 275.6L673.3 280.7L672.5 280.9L671.1 275.7Z" fill="#4eabf5"/>
<path d="M673.2 280.3L674.8 285.5L673.8 285.8L672.4 280.6Z" fill="#47a8f7"/>
<path d="M674.6 285.1L676.2 290.3L675.0 290.6L673.7 285.4Z" fill="#48acf7"/>
<path d="M677.6 294.7L679.1 299.5L677.5 300.0L676.2 295.1Z" fill="#3aa7f5"/>
<path d="M668.6 266.0L670.0 271.3L669.6 271.4L668.4 266.1Z" fill="#68a2eb"/>
<path d="M669.9 270.9L671.3 276.1L670.7 276.2L669.5 271.0Z" fill="#5396eb"/>
<path d="M671.2 275.7L672.6 280.9L671.8 281.1L670.6 275.8Z" fill="#3887ea"/>
<path d="M672.5 280.5L673.9 285.7L672.9 286.0L671.7 280.7Z" fill="#3387ed"/>
<path d="M673.8 285.3L675.2 290.6L674.0 290.9L672.8 285.6Z" fill="#2a86ed"/>
<path d="M675.1 290.2L676.6 295.4L675.1 295.7L673.9 290.5Z" fill="#3391f1"/>
<path d="M676.4 295.0L677.5 298.8L675.9 299.2L675.0 295.3Z" fill="#40a0f5"/>
<path d="M668.4 266.1L669.7 271.3L669.3 271.4L668.2 266.1Z" fill="#3d6cda"/>
<path d="M669.6 270.9L670.8 276.2L670.2 276.3L669.2 271.0Z" fill="#4979e1"/>
<path d="M670.7 275.8L671.9 281.1L671.1 281.2L670.1 275.9Z" fill="#3c74e4"/>
<path d="M671.9 280.7L673.1 285.9L672.1 286.2L671.1 280.9Z" fill="#286be5"/>
<path d="M673.0 285.6L674.2 290.8L673.0 291.1L672.0 285.8Z" fill="#357ceb"/>
<path d="M674.1 290.4L675.4 295.7L673.9 296.0L672.9 290.7Z" fill="#2679ec"/>
<path d="M675.3 295.3L676.3 299.5L674.7 299.8L673.9 295.6Z" fill="#2983f0"/>
<path d="M668.3 266.1L669.3 271.4L668.9 271.5L668.1 266.1Z" fill="#2a48cd"/>
<path d="M669.2 271.0L670.3 276.3L669.7 276.4L668.9 271.1Z" fill="#244ad2"/>
<path d="M670.2 275.9L671.3 281.2L670.4 281.4L669.6 276.0Z" fill="#1243d5"/>
<path d="M671.2 280.8L672.2 286.1L671.2 286.3L670.4 281.0Z" fill="#184edc"/>
<path d="M672.2 285.7L673.2 291.0L672.0 291.2L671.1 285.9Z" fill="#2662e4"/>
<path d="M673.1 290.6L674.2 295.9L672.7 296.2L671.9 290.9Z" fill="#3073ec"/>
<path d="M674.1 295.5L674.8 298.9L673.2 299.2L672.7 295.8Z" fill="#1b6eed"/>
<rect x="677.0" y="189.3" width="1.5" height="1.5" fill="#ffe870"/>
<rect x="674.9" y="187.3" width="3" height="1" fill="#ffee90"/>
<rect x="639.3" y="179.6" width="1" height="1.5" fill="#fff7b0"/>
<rect x="697.1" y="194.4" width="3" height="2" fill="#ffe870"/>
<rect x="650.4" y="191.7" width="1.5" height="1.5" fill="#ffee90"/>
<rect x="673.4" y="181.8" width="3" height="1.5" fill="#ffee90"/>
<rect x="677.3" y="184.9" width="2" height="1.5" fill="#ffe870"/>
<rect x="678.6" y="188.4" width="1" height="1.5" fill="#fffbd0"/>
<rect x="689.4" y="183.2" width="2" height="1.5" fill="#fff7b0"/>
<rect x="681.9" y="182.1" width="3" height="2" fill="#ffee90"/>
<rect x="666.2" y="174.7" width="3" height="1.5" fill="#fff7b0"/>
<rect x="637.3" y="184.6" width="1.5" height="1" fill="#ffe870"/>
<rect x="641.5" y="186.8" width="2" height="2" fill="#fffbd0"/>
<rect x="638.2" y="181.6" width="2" height="1.5" fill="#fff7b0"/>
<rect x="647.6" y="190.5" width="1.5" height="2" fill="#fffbd0"/>
<rect x="684.3" y="177.4" width="3" height="2" fill="#ffee90"/>
<rect x="697.8" y="182.4" width="2" height="2" fill="#ffe870"/>
<rect x="644.1" y="189.6" width="2" height="1.5" fill="#fffbd0"/>
<rect x="702.4" y="195.2" width="3" height="1.5" fill="#ffee90"/>
<rect x="683.4" y="192.2" width="1" height="1" fill="#fff7b0"/>
<rect x="653.8" y="175.2" width="1" height="1.5" fill="#ffee90"/>
<rect x="664.3" y="184.2" width="3" height="2" fill="#fffbd0"/>
<rect x="680.3" y="180.9" width="2" height="1" fill="#ffee90"/>
<rect x="655.9" y="182.2" width="1" height="1.5" fill="#ffee90"/>
<rect x="633.1" y="199.3" width="2" height="1" fill="#ffee90"/>
<rect x="641.5" y="189.2" width="1.5" height="1.5" fill="#fff7b0"/>
<rect x="690.0" y="182.8" width="1" height="1.5" fill="#fff7b0"/>
<rect x="699.1" y="188.9" width="1.5" height="2" fill="#ffee90"/>
<rect x="655.7" y="176.4" width="3" height="1.5" fill="#fff7b0"/>
<rect x="688.1" y="184.6" width="2" height="2" fill="#ffe870"/>
<rect x="702.4" y="198.2" width="3" height="2" fill="#fffbd0"/>
<rect x="693.0" y="195.9" width="1" height="1.5" fill="#ffee90"/>
<rect x="622.0" y="195.1" width="3" height="2" fill="#ffe870"/>
<rect x="664.6" y="177.1" width="2" height="1.5" fill="#ffe870"/>
<rect x="640.9" y="183.9" width="3" height="1" fill="#fff7b0"/>
<rect x="624.1" y="190.5" width="1" height="1" fill="#ffe870"/>
<rect x="628.5" y="196.5" width="3" height="1" fill="#fffbd0"/>
<rect x="682.5" y="192.0" width="1" height="2" fill="#fff7b0"/>
<rect x="704.0" y="184.7" width="1.5" height="1" fill="#ffee90"/>
<rect x="626.8" y="185.2" width="3" height="1.5" fill="#ffe870"/>
<rect x="727.6" y="300.8" width="1" height="1" fill="#c0f4ff"/>
<rect x="738.6" y="305.1" width="2" height="1.5" fill="#60d0f8"/>
<rect x="736.3" y="248.0" width="1" height="2" fill="#60d0f8"/>
<rect x="715.9" y="317.8" width="1" height="1" fill="#a0e8fa"/>
<rect x="752.4" y="265.6" width="1.5" height="1.5" fill="#2060f0"/>
<rect x="722.6" y="316.7" width="2" height="1.5" fill="#60d0f8"/>
<rect x="743.3" y="274.1" width="2" height="1" fill="#a0e8fa"/>
<rect x="752.3" y="277.5" width="1" height="1" fill="#2060f0"/>
<rect x="752.6" y="245.8" width="1" height="2" fill="#60d0f8"/>
<rect x="754.1" y="272.9" width="2" height="1" fill="#2060f0"/>
<rect x="722.8" y="288.0" width="1" height="2" fill="#60d0f8"/>
<rect x="733.0" y="281.9" width="1.5" height="2" fill="#2060f0"/>
<rect x="734.2" y="272.0" width="1" height="1" fill="#60d0f8"/>
<rect x="726.7" y="313.8" width="2" height="1.5" fill="#a0e8fa"/>
<rect x="736.1" y="264.2" width="2" height="1.5" fill="#60d0f8"/>
<rect x="707.2" y="307.4" width="2" height="1.5" fill="#60d0f8"/>
<rect x="735.8" y="319.1" width="1.5" height="1" fill="#c0f4ff"/>
<rect x="747.6" y="279.4" width="1.5" height="1" fill="#c0f4ff"/>
<rect x="744.5" y="267.7" width="2" height="2" fill="#c0f4ff"/>
<rect x="726.3" y="306.2" width="1" height="1.5" fill="#60d0f8"/>
<rect x="728.8" y="254.8" width="2" height="2" fill="#c0f4ff"/>
<rect x="748.0" y="232.8" width="1" height="1.5" fill="#a0e8fa"/>
<rect x="715.4" y="304.1" width="2" height="1.5" fill="#c0f4ff"/>
<rect x="718.8" y="315.1" width="1" height="2" fill="#2060f0"/>
<rect x="734.7" y="256.3" width="1" height="2" fill="#60d0f8"/>
<rect x="738.9" y="306.2" width="1.5" height="2" fill="#60d0f8"/>
<rect x="741.1" y="262.3" width="1" height="1" fill="#c0f4ff"/>
<rect x="727.8" y="291.4" width="1" height="2" fill="#a0e8fa"/>
<rect x="750.9" y="261.9" width="2" height="1.5" fill="#a0e8fa"/>
<rect x="747.6" y="232.6" width="1.5" height="2" fill="#2060f0"/>
<g clip-path="url(#cw)">
<path d="M663.7 264.2L659.2 267.3L659.0 266.9L663.6 264.1Z" fill="#ff4705"/>
<path d="M659.5 267.0L655.1 270.1L654.7 269.6L659.3 266.7Z" fill="#fb3c00"/>
<path d="M655.4 269.9L650.9 272.9L650.5 272.2L655.1 269.3Z" fill="#ff5607"/>
<path d="M651.3 272.7L646.8 275.7L646.2 274.8L650.8 272.0Z" fill="#ff610a"/>
<path d="M647.1 275.5L642.7 278.5L642.0 277.5L646.6 274.6Z" fill="#ff6208"/>
<path d="M643.0 278.3L638.5 281.3L637.7 280.1L642.3 277.2Z" fill="#ff700d"/>
<path d="M638.9 281.1L634.4 284.1L633.5 282.7L638.1 279.9Z" fill="#fd6808"/>
<path d="M634.7 283.9L630.3 286.9L629.2 285.4L633.8 282.5Z" fill="#fe8219"/>
<path d="M630.6 286.7L626.1 289.7L625.0 288.0L629.6 285.1Z" fill="#fd9124"/>
<path d="M626.5 289.5L622.0 292.6L620.7 290.6L625.3 287.8Z" fill="#ffb63c"/>
<path d="M622.3 292.3L617.9 295.4L616.5 293.3L621.1 290.4Z" fill="#febd43"/>
<path d="M614.1 298.0L610.6 300.3L609.0 297.9L612.6 295.7Z" fill="#fff367"/>
<path d="M663.6 264.1L659.0 267.0L658.8 266.6L663.5 263.9Z" fill="#ff4d07"/>
<path d="M659.4 266.8L654.8 269.6L654.5 269.1L659.2 266.4Z" fill="#fb3c00"/>
<path d="M655.1 269.4L650.6 272.3L650.1 271.6L654.8 268.9Z" fill="#fb4400"/>
<path d="M650.9 272.1L646.3 275.0L645.8 274.1L650.5 271.4Z" fill="#fe5404"/>
<path d="M646.7 274.8L642.1 277.6L641.5 276.6L646.1 273.9Z" fill="#fb5401"/>
<path d="M642.4 277.4L637.9 280.3L637.1 279.0L641.8 276.4Z" fill="#ff730f"/>
<path d="M638.2 280.1L633.6 283.0L632.8 281.5L637.5 278.8Z" fill="#ff730e"/>
<path d="M634.0 282.7L629.4 285.6L628.4 284.0L633.1 281.3Z" fill="#ff891d"/>
<path d="M629.7 285.4L625.2 288.3L624.1 286.5L628.8 283.8Z" fill="#fd9326"/>
<path d="M625.5 288.1L620.9 291.0L619.8 289.0L624.4 286.3Z" fill="#ffb73c"/>
<path d="M617.1 293.4L612.5 296.3L611.1 294.0L615.8 291.3Z" fill="#ffe35b"/>
<path d="M612.8 296.1L609.9 297.9L608.4 295.5L611.4 293.8Z" fill="#fde25f"/>
<path d="M663.5 264.0L658.8 266.7L658.6 266.3L663.4 263.8Z" fill="#fc3500"/>
<path d="M659.2 266.5L654.5 269.2L654.2 268.6L659.0 266.1Z" fill="#ff5409"/>
<path d="M654.9 269.0L650.2 271.7L649.8 271.0L654.6 268.5Z" fill="#fe4b02"/>
<path d="M650.5 271.5L645.9 274.2L645.4 273.3L650.2 270.8Z" fill="#ff600a"/>
<path d="M646.2 274.0L641.6 276.7L641.0 275.6L645.7 273.1Z" fill="#ff5e07"/>
<path d="M641.9 276.5L637.2 279.3L636.5 278.0L641.3 275.5Z" fill="#fd5e05"/>
<path d="M637.6 279.1L632.9 281.8L632.1 280.3L636.9 277.8Z" fill="#fc6305"/>
<path d="M633.3 281.6L628.6 284.3L627.7 282.6L632.5 280.1Z" fill="#fe7913"/>
<path d="M628.9 284.1L624.3 286.8L623.3 285.0L628.0 282.5Z" fill="#ff9927"/>
<path d="M624.6 286.6L620.0 289.3L618.8 287.3L623.6 284.8Z" fill="#fc982b"/>
<path d="M616.0 291.6L611.3 294.3L610.0 292.0L614.8 289.5Z" fill="#ffcc4d"/>
<path d="M611.7 294.1L607.0 296.9L605.6 294.3L610.3 291.8Z" fill="#ffdf5b"/>
<path d="M607.3 296.7L605.3 297.9L603.8 295.2L605.9 294.1Z" fill="#fff067"/>
<path d="M663.4 263.8L658.7 266.4L658.5 266.0L663.3 263.7Z" fill="#fc3500"/>
<path d="M659.0 266.2L654.3 268.7L654.0 268.2L658.8 265.8Z" fill="#ff5208"/>
<path d="M654.6 268.6L649.9 271.1L649.5 270.4L654.3 268.0Z" fill="#fd4901"/>
<path d="M650.2 270.9L645.5 273.5L645.0 272.5L649.8 270.2Z" fill="#fb4a00"/>
<path d="M645.8 273.3L641.0 275.8L640.5 274.7L645.3 272.4Z" fill="#ff6309"/>
<path d="M641.4 275.6L636.6 278.2L636.0 276.9L640.8 274.5Z" fill="#ff6709"/>
<path d="M637.0 278.0L632.2 280.6L631.5 279.1L636.3 276.7Z" fill="#fb6003"/>
<path d="M632.6 280.4L627.8 282.9L627.0 281.2L631.8 278.9Z" fill="#ff8118"/>
<path d="M623.8 285.1L619.0 287.6L618.0 285.6L622.8 283.2Z" fill="#fc9e2e"/>
<path d="M606.1 294.5L605.7 294.8L604.3 292.2L604.8 291.9Z" fill="#fff76c"/>
<path d="M663.4 263.7L658.5 266.1L658.3 265.7L663.3 263.5Z" fill="#ff4b06"/>
<path d="M658.9 265.9L654.0 268.3L653.8 267.7L658.7 265.5Z" fill="#fd4100"/>
<path d="M654.4 268.1L649.5 270.5L649.2 269.7L654.1 267.6Z" fill="#ff5406"/>
<path d="M649.9 270.3L645.1 272.7L644.6 271.7L649.6 269.6Z" fill="#fc4f01"/>
<path d="M645.4 272.5L640.6 274.9L640.0 273.8L645.0 271.6Z" fill="#ff6b0d"/>
<path d="M640.9 274.7L636.1 277.1L635.5 275.8L640.4 273.6Z" fill="#ff6e0c"/>
<path d="M636.4 276.9L631.6 279.3L630.9 277.8L635.8 275.6Z" fill="#fc6a09"/>
<path d="M632.0 279.1L627.1 281.5L626.3 279.8L631.3 277.6Z" fill="#fe851b"/>
<path d="M627.5 281.3L622.6 283.7L621.7 281.8L626.7 279.7Z" fill="#ffa12e"/>
<path d="M623.0 283.6L618.1 285.9L617.2 283.9L622.1 281.7Z" fill="#fead38"/>
<path d="M614.0 288.0L609.2 290.4L608.0 287.9L613.0 285.7Z" fill="#ffdf5a"/>
<path d="M663.3 263.5L658.4 265.8L658.2 265.4L663.2 263.4Z" fill="#ff4a06"/>
<path d="M658.7 265.6L653.8 267.8L653.6 267.2L658.6 265.2Z" fill="#ff5409"/>
<path d="M654.2 267.6L649.2 269.9L648.9 269.1L653.9 267.1Z" fill="#ff5205"/>
<path d="M649.6 269.7L644.7 271.9L644.3 270.9L649.3 268.9Z" fill="#ff630c"/>
<path d="M645.1 271.7L640.1 274.0L639.6 272.8L644.7 270.8Z" fill="#ff6108"/>
<path d="M640.5 273.8L635.6 276.0L635.0 274.7L640.0 272.7Z" fill="#ff6d0c"/>
<path d="M635.9 275.8L631.0 278.1L630.4 276.5L635.4 274.5Z" fill="#fb5f03"/>
<path d="M631.4 277.9L626.4 280.1L625.7 278.4L630.7 276.4Z" fill="#ff8016"/>
<path d="M626.8 279.9L621.9 282.2L621.1 280.2L626.1 278.2Z" fill="#fd881f"/>
<path d="M622.3 282.0L617.3 284.2L616.4 282.1L621.4 280.1Z" fill="#ffad35"/>
<path d="M613.1 286.1L608.2 288.3L607.1 285.8L612.2 283.8Z" fill="#fcbe45"/>
<path d="M604.0 290.2L601.7 291.2L600.5 288.4L602.9 287.5Z" fill="#fff66a"/>
<path d="M663.2 263.4L658.2 265.4L658.1 265.1L663.2 263.2Z" fill="#ff4503"/>
<path d="M658.6 265.3L653.6 267.3L653.4 266.7L658.5 264.9Z" fill="#fe4400"/>
<path d="M654.0 267.2L649.0 269.2L648.7 268.4L653.8 266.6Z" fill="#ff4f03"/>
<path d="M649.3 269.1L644.3 271.1L644.0 270.1L649.1 268.3Z" fill="#ff5a07"/>
<path d="M644.7 271.0L639.7 273.0L639.3 271.8L644.3 270.0Z" fill="#ff660a"/>
<path d="M640.1 272.8L635.1 274.9L634.6 273.5L639.6 271.7Z" fill="#fd6206"/>
<path d="M635.5 274.7L630.5 276.8L629.9 275.2L634.9 273.4Z" fill="#fb6607"/>
<path d="M630.8 276.6L625.8 278.7L625.2 276.9L630.2 275.1Z" fill="#ff8f20"/>
<path d="M621.6 280.4L616.6 282.4L615.7 280.3L620.8 278.5Z" fill="#fda835"/>
<path d="M616.9 282.3L611.9 284.3L611.0 282.0L616.1 280.2Z" fill="#fdbb43"/>
<path d="M612.3 284.2L607.3 286.2L606.3 283.7L611.4 281.9Z" fill="#ffe05a"/>
<path d="M607.7 286.1L604.9 287.2L603.8 284.6L606.7 283.5Z" fill="#ffea63"/>
<path d="M663.2 263.3L658.1 265.1L658.0 264.7L663.1 263.1Z" fill="#ff4a06"/>
<path d="M658.5 265.0L653.4 266.8L653.2 266.3L658.4 264.6Z" fill="#fd4300"/>
<path d="M653.8 266.7L648.7 268.6L648.5 267.8L653.6 266.1Z" fill="#fd4900"/>
<path d="M649.1 268.4L644.0 270.3L643.7 269.3L648.8 267.7Z" fill="#fb4a00"/>
<path d="M644.4 270.2L639.3 272.0L638.9 270.8L644.1 269.2Z" fill="#ff6e0e"/>
<path d="M639.7 271.9L634.6 273.8L634.2 272.4L639.3 270.7Z" fill="#ff700d"/>
<path d="M635.0 273.6L630.0 275.5L629.4 273.9L634.6 272.2Z" fill="#fb6708"/>
<path d="M625.6 277.1L620.6 278.9L619.9 277.0L625.0 275.3Z" fill="#ffa831"/>
<path d="M620.9 278.8L615.9 280.7L615.1 278.5L620.3 276.8Z" fill="#ffb33b"/>
<path d="M611.6 282.2L606.5 284.1L605.6 281.5L610.7 279.9Z" fill="#fcce51"/>
<path d="M606.9 284.0L604.7 284.8L603.8 282.1L606.0 281.4Z" fill="#fff067"/>
<path d="M663.1 263.1L658.0 264.8L657.9 264.4L663.1 262.9Z" fill="#fe3b00"/>
<path d="M658.4 264.7L653.2 266.4L653.1 265.8L658.3 264.3Z" fill="#fe4601"/>
<path d="M653.6 266.2L648.5 267.9L648.3 267.1L653.4 265.6Z" fill="#fd4700"/>
<path d="M648.9 267.8L643.7 269.5L643.4 268.5L648.6 267.0Z" fill="#fe5303"/>
<path d="M644.1 269.4L639.0 271.0L638.6 269.8L643.8 268.4Z" fill="#fe5a04"/>
<path d="M639.4 270.9L634.2 272.6L633.8 271.2L639.0 269.7Z" fill="#ff710e"/>
<path d="M634.6 272.5L629.5 274.2L629.0 272.6L634.2 271.1Z" fill="#ff7b11"/>
<path d="M629.9 274.0L624.7 275.7L624.2 273.9L629.4 272.5Z" fill="#fc7a15"/>
<path d="M620.4 277.2L615.2 278.8L614.6 276.6L619.8 275.2Z" fill="#ffb63b"/>
<path d="M615.6 278.7L610.5 280.4L609.8 278.0L615.0 276.5Z" fill="#febb42"/>
<path d="M606.1 281.8L601.5 283.4L600.7 280.6L605.3 279.3Z" fill="#ffea62"/>
<path d="M663.1 263.0L657.9 264.5L657.8 264.1L663.0 262.8Z" fill="#ff4d07"/>
<path d="M658.3 264.4L653.1 265.9L652.9 265.3L658.2 264.0Z" fill="#ff4a03"/>
<path d="M653.5 265.7L648.3 267.3L648.1 266.4L653.3 265.2Z" fill="#fc4700"/>
<path d="M648.7 267.1L643.5 268.6L643.2 267.6L648.5 266.4Z" fill="#fb4b00"/>
<path d="M643.9 268.5L638.7 270.0L638.4 268.8L643.6 267.5Z" fill="#fc5502"/>
<path d="M639.1 269.9L633.9 271.4L633.5 270.0L638.8 268.7Z" fill="#ff6c0b"/>
<path d="M634.3 271.3L629.1 272.8L628.7 271.2L633.9 269.9Z" fill="#ff730d"/>
<path d="M629.5 272.7L624.3 274.2L623.8 272.4L629.0 271.1Z" fill="#ff8f1f"/>
<path d="M663.0 262.8L657.8 264.1L657.7 263.7L663.0 262.6Z" fill="#ff4c07"/>
<path d="M658.2 264.0L653.0 265.4L652.8 264.7L658.1 263.6Z" fill="#ff5509"/>
<path d="M653.3 265.3L648.1 266.6L647.9 265.8L653.2 264.7Z" fill="#ff5004"/>
<path d="M648.5 266.5L643.3 267.8L643.0 266.8L648.3 265.7Z" fill="#ff5b08"/>
<path d="M643.6 267.7L638.4 269.0L638.1 267.8L643.4 266.7Z" fill="#ff6409"/>
<path d="M638.8 268.9L633.6 270.3L633.2 268.8L638.5 267.7Z" fill="#ff6f0d"/>
<path d="M634.0 270.2L628.7 271.5L628.3 269.9L633.6 268.8Z" fill="#ff740d"/>
<path d="M629.1 271.4L623.9 272.7L623.4 270.9L628.7 269.8Z" fill="#ff8218"/>
<path d="M624.3 272.6L619.0 273.9L618.6 271.9L623.8 270.8Z" fill="#fe9325"/>
<path d="M614.6 275.1L609.3 276.4L608.8 273.9L614.1 272.8Z" fill="#ffc446"/>
<path d="M609.7 276.3L604.5 277.6L603.9 275.0L609.2 273.9Z" fill="#fcc54b"/>
<path d="M604.9 277.5L599.7 278.8L599.1 276.0L604.3 274.9Z" fill="#fdda59"/>
<path d="M663.0 262.7L657.7 263.8L657.6 263.4L663.0 262.5Z" fill="#ff3f00"/>
<path d="M658.1 263.7L652.8 264.8L652.7 264.2L658.0 263.3Z" fill="#ff5509"/>
<path d="M653.2 264.8L647.9 265.9L647.8 265.1L653.1 264.2Z" fill="#ff5a09"/>
<path d="M648.3 265.8L643.1 267.0L642.9 265.9L648.2 265.0Z" fill="#ff5906"/>
<path d="M643.5 266.9L638.2 268.0L637.9 266.8L643.3 265.9Z" fill="#fe5d06"/>
<path d="M638.6 267.9L633.3 269.1L633.0 267.6L638.3 266.7Z" fill="#ff730e"/>
<path d="M633.7 269.0L628.4 270.1L628.1 268.5L633.4 267.6Z" fill="#fc6c0a"/>
<path d="M628.8 270.0L623.5 271.2L623.2 269.3L628.5 268.4Z" fill="#ff9624"/>
<path d="M614.1 273.2L608.9 274.4L608.4 271.9L613.7 271.0Z" fill="#fbb943"/>
<path d="M609.2 274.3L604.0 275.4L603.4 272.7L608.8 271.8Z" fill="#fed957"/>
<path d="M604.4 275.3L602.4 275.8L601.9 273.0L603.8 272.7Z" fill="#fde864"/>
<path d="M663.0 262.5L657.7 263.5L657.6 263.0L662.9 262.3Z" fill="#ff4b06"/>
<path d="M658.1 263.4L652.7 264.3L652.6 263.7L658.0 263.0Z" fill="#ff5007"/>
<path d="M653.1 264.3L647.8 265.2L647.7 264.4L653.0 263.7Z" fill="#fd4901"/>
<path d="M648.2 265.2L642.9 266.1L642.7 265.1L648.1 264.3Z" fill="#ff620b"/>
<path d="M643.3 266.0L638.0 267.0L637.8 265.8L643.1 265.0Z" fill="#fc5602"/>
<path d="M638.4 266.9L633.1 267.9L632.8 266.4L638.2 265.7Z" fill="#fe6407"/>
<path d="M633.4 267.8L628.1 268.8L627.9 267.1L633.2 266.4Z" fill="#ff7910"/>
<path d="M628.5 268.7L623.2 269.7L622.9 267.8L628.3 267.1Z" fill="#fe7f18"/>
<path d="M613.8 271.4L608.4 272.3L608.1 269.8L613.4 269.1Z" fill="#fdb841"/>
<path d="M608.8 272.2L603.5 273.2L603.1 270.5L608.5 269.8Z" fill="#ffd956"/>
<path d="M603.9 273.1L599.7 273.9L599.2 271.0L603.5 270.5Z" fill="#ffef65"/>
<path d="M662.9 262.3L657.6 263.1L657.6 262.7L662.9 262.2Z" fill="#fb3300"/>
<path d="M658.0 263.1L652.7 263.8L652.6 263.2L657.9 262.7Z" fill="#ff5107"/>
<path d="M653.0 263.8L647.7 264.5L647.6 263.7L653.0 263.2Z" fill="#fc4600"/>
<path d="M648.1 264.5L642.8 265.3L642.6 264.2L648.0 263.7Z" fill="#fd5002"/>
<path d="M643.2 265.2L637.8 266.0L637.7 264.7L643.0 264.2Z" fill="#fc5301"/>
<path d="M638.2 265.9L632.9 266.7L632.7 265.2L638.1 264.7Z" fill="#ff700e"/>
<path d="M633.3 266.6L627.9 267.4L627.7 265.7L633.1 265.2Z" fill="#fe6808"/>
<path d="M628.3 267.3L623.0 268.1L622.7 266.2L628.1 265.7Z" fill="#ff7f16"/>
<path d="M623.4 268.0L618.0 268.8L617.8 266.7L623.1 266.2Z" fill="#ff9625"/>
<path d="M618.4 268.8L613.1 269.5L612.8 267.2L618.2 266.7Z" fill="#fd9b2c"/>
<path d="M613.5 269.5L608.1 270.2L607.8 267.8L613.2 267.2Z" fill="#ffb73e"/>
<path d="M608.5 270.2L603.2 271.0L602.8 268.3L608.2 267.7Z" fill="#ffcf4e"/>
<path d="M598.6 271.6L596.1 272.0L595.7 269.0L598.3 268.7Z" fill="#fff86b"/>
<path d="M662.9 262.2L657.6 262.8L657.5 262.4L662.9 262.0Z" fill="#fc3600"/>
<path d="M658.0 262.7L652.6 263.3L652.5 262.7L657.9 262.3Z" fill="#ff4e05"/>
<path d="M653.0 263.3L647.6 263.8L647.5 263.0L652.9 262.7Z" fill="#ff5809"/>
<path d="M648.0 263.8L642.6 264.4L642.6 263.4L647.9 263.0Z" fill="#ff5f0a"/>
<path d="M643.0 264.3L637.7 264.9L637.6 263.7L643.0 263.3Z" fill="#fd5804"/>
<path d="M638.1 264.9L632.7 265.5L632.6 264.0L638.0 263.7Z" fill="#ff6608"/>
<path d="M633.1 265.4L627.7 266.0L627.6 264.3L633.0 264.0Z" fill="#ff780f"/>
<path d="M628.1 266.0L622.8 266.5L622.6 264.7L628.0 264.3Z" fill="#ff7f16"/>
<path d="M598.3 269.2L596.5 269.4L596.3 266.4L598.1 266.3Z" fill="#fdea64"/>
<path d="M662.9 262.0L657.5 262.4L657.5 262.0L662.9 261.8Z" fill="#fb3200"/>
<path d="M657.9 262.4L652.5 262.8L652.5 262.2L657.9 262.0Z" fill="#fc3d00"/>
<path d="M652.9 262.8L647.6 263.2L647.5 262.3L652.9 262.2Z" fill="#fd4900"/>
<path d="M648.0 263.1L642.6 263.5L642.5 262.5L647.9 262.3Z" fill="#fc5001"/>
<path d="M643.0 263.5L637.6 263.9L637.5 262.6L642.9 262.5Z" fill="#ff6b0d"/>
<path d="M638.0 263.9L632.6 264.3L632.5 262.8L637.9 262.6Z" fill="#ff730e"/>
<path d="M633.0 264.2L627.6 264.6L627.5 263.0L632.9 262.8Z" fill="#fc6b0a"/>
<path d="M618.0 265.3L612.6 265.7L612.5 263.4L617.9 263.3Z" fill="#ffb03a"/>
<path d="M608.1 266.1L602.7 266.5L602.5 263.7L607.9 263.6Z" fill="#ffdd59"/>
<path d="M603.1 266.4L600.9 266.6L600.7 263.8L602.9 263.7Z" fill="#feeb65"/>
<path d="M662.9 261.9L657.5 262.1L657.5 261.7L662.9 261.7Z" fill="#ff4403"/>
<path d="M657.9 262.1L652.5 262.3L652.5 261.6L657.9 261.7Z" fill="#ff5308"/>
<path d="M652.9 262.3L647.5 262.5L647.5 261.6L652.9 261.6Z" fill="#ff5104"/>
<path d="M647.9 262.4L642.5 262.7L642.5 261.6L647.9 261.6Z" fill="#ff650c"/>
<path d="M642.9 262.6L637.5 262.8L637.5 261.6L642.9 261.6Z" fill="#ff5f07"/>
<path d="M637.9 262.8L632.5 263.0L632.5 261.6L637.9 261.6Z" fill="#fd6105"/>
<path d="M632.9 263.0L627.5 263.2L627.5 261.6L632.9 261.6Z" fill="#ff7810"/>
<path d="M627.9 263.2L622.5 263.4L622.5 261.5L627.9 261.6Z" fill="#ff8d1f"/>
<path d="M622.9 263.4L617.5 263.6L617.5 261.5L622.9 261.5Z" fill="#fc9024"/>
<path d="M602.9 264.2L599.6 264.3L599.5 261.5L602.9 261.5Z" fill="#fee762"/>
</g>
<g clip-path="url(#cs)">
<path d="M669.1 265.9L671.5 271.8L670.7 272.1L668.8 266.0Z" fill="#f63800"/>
<path d="M671.4 271.4L673.8 277.3L672.6 277.8L670.6 271.7Z" fill="#f12400"/>
<path d="M673.6 277.0L676.1 282.9L674.4 283.5L672.4 277.4Z" fill="#eb0f00"/>
<path d="M675.9 282.5L678.3 288.5L676.2 289.2L674.3 283.1Z" fill="#e50400"/>
<path d="M678.2 288.1L680.3 293.3L677.8 294.2L676.1 288.8Z" fill="#e20000"/>
<path d="M668.8 266.0L670.8 272.1L670.0 272.3L668.5 266.1Z" fill="#f63900"/>
<path d="M670.7 271.7L672.7 277.8L671.4 278.1L669.9 271.9Z" fill="#f12400"/>
<path d="M672.6 277.4L674.6 283.5L672.9 283.9L671.3 277.7Z" fill="#ea0c00"/>
<path d="M674.4 283.1L676.4 289.2L674.3 289.8L672.8 283.6Z" fill="#e70900"/>
<path d="M676.3 288.8L678.2 294.4L675.6 295.2L674.2 289.4Z" fill="#e30501"/>
<path d="M668.5 266.1L670.1 272.3L669.3 272.4L668.2 266.1Z" fill="#f73a00"/>
<path d="M670.0 271.9L671.5 278.1L670.3 278.4L669.2 272.0Z" fill="#f02300"/>
<path d="M671.4 277.7L673.0 283.9L671.3 284.3L670.2 278.0Z" fill="#ea0b00"/>
<path d="M672.9 283.5L674.5 289.7L672.3 290.2L671.2 283.9Z" fill="#e60600"/>
<path d="M674.4 289.3L675.8 294.9L673.2 295.4L672.3 289.8Z" fill="#e40602"/>
<path d="M668.2 266.1L669.3 272.4L668.5 272.5L667.9 266.2Z" fill="#f83e02"/>
<path d="M669.3 272.0L670.4 278.3L669.1 278.5L668.5 272.1Z" fill="#f02300"/>
<path d="M670.3 277.9L671.5 284.2L669.7 284.5L669.1 278.1Z" fill="#ea0b00"/>
<path d="M671.4 283.8L672.5 290.1L670.3 290.5L669.7 284.1Z" fill="#e60600"/>
<path d="M672.4 289.7L673.6 296.0L670.9 296.4L670.3 290.1Z" fill="#e30300"/>
<path d="M667.9 266.2L668.6 272.5L667.7 272.6L667.5 266.2Z" fill="#f83d01"/>
<path d="M668.5 272.1L669.2 278.5L667.9 278.6L667.7 272.2Z" fill="#f02100"/>
<path d="M669.2 278.1L669.9 284.5L668.1 284.6L667.9 278.2Z" fill="#ea0c00"/>
<path d="M669.8 284.1L670.5 290.4L668.3 290.6L668.1 284.2Z" fill="#e70a01"/>
<path d="M670.5 290.0L671.2 296.2L668.5 296.4L668.3 290.2Z" fill="#e30200"/>
<path d="M667.6 266.2L667.8 272.6L667.0 272.6L667.2 266.2Z" fill="#f63900"/>
<path d="M667.8 272.2L668.0 278.6L666.8 278.6L667.0 272.2Z" fill="#ef2000"/>
<path d="M668.0 278.2L668.3 284.6L666.5 284.6L666.8 278.2Z" fill="#eb0f00"/>
<path d="M668.3 284.2L668.5 290.6L666.3 290.6L666.5 284.2Z" fill="#e60700"/>
<path d="M668.5 290.2L668.7 295.5L666.1 295.5L666.3 290.2Z" fill="#e30300"/>
<path d="M667.3 266.2L667.1 272.6L666.2 272.5L666.9 266.2Z" fill="#f63700"/>
<path d="M667.1 272.2L666.9 278.6L665.6 278.5L666.3 272.1Z" fill="#f12300"/>
<path d="M666.9 278.2L666.7 284.6L664.9 284.5L665.6 278.1Z" fill="#ec1101"/>
<path d="M666.7 284.2L666.5 290.6L664.3 290.4L665.0 284.1Z" fill="#e70a01"/>
<path d="M666.5 290.2L666.3 296.1L663.7 295.9L664.3 290.0Z" fill="#e40602"/>
<path d="M666.9 266.2L666.3 272.5L665.5 272.4L666.6 266.1Z" fill="#f73c00"/>
<path d="M666.3 272.1L665.7 278.5L664.4 278.3L665.5 272.0Z" fill="#f02300"/>
<path d="M665.7 278.1L665.1 284.5L663.3 284.2L664.5 277.9Z" fill="#eb0f00"/>
<path d="M665.1 284.1L664.5 290.5L662.3 290.1L663.4 283.8Z" fill="#e70b01"/>
<path d="M664.5 290.1L664.0 295.5L661.4 295.1L662.4 289.7Z" fill="#e30501"/>
<path d="M666.6 266.1L665.5 272.4L664.7 272.3L666.3 266.1Z" fill="#f73a00"/>
<path d="M665.6 272.0L664.5 278.4L663.3 278.1L664.8 271.9Z" fill="#f02100"/>
<path d="M664.6 278.0L663.5 284.3L661.8 283.9L663.4 277.7Z" fill="#eb1101"/>
<path d="M663.6 283.9L662.5 290.2L660.3 289.7L661.9 283.5Z" fill="#e60800"/>
<path d="M662.5 289.8L661.7 294.8L659.1 294.3L660.4 289.3Z" fill="#e20000"/>
<path d="M666.3 266.1L664.8 272.3L664.0 272.1L666.0 266.0Z" fill="#f73c00"/>
<path d="M664.9 271.9L663.4 278.1L662.1 277.8L664.1 271.7Z" fill="#f12300"/>
<path d="M663.5 277.7L661.9 283.9L660.2 283.5L662.2 277.4Z" fill="#ea0d00"/>
<path d="M662.0 283.6L660.5 289.8L658.4 289.2L660.4 283.1Z" fill="#e60600"/>
<path d="M660.6 289.4L659.3 294.8L656.8 294.1L658.5 288.8Z" fill="#e20000"/>
<path d="M666.0 266.0L664.1 272.1L663.3 271.8L665.7 265.9Z" fill="#f73b00"/>
<path d="M664.2 271.7L662.2 277.8L661.0 277.3L663.4 271.4Z" fill="#f12601"/>
<path d="M662.4 277.4L660.4 283.5L658.7 282.9L661.2 277.0Z" fill="#eb1101"/>
<path d="M660.5 283.1L658.6 289.2L656.5 288.5L658.9 282.5Z" fill="#e80c02"/>
<path d="M658.7 288.8L657.1 293.9L654.6 293.0L656.6 288.1Z" fill="#e30401"/>
<path d="M665.7 265.9L663.4 271.8L662.6 271.5L665.4 265.7Z" fill="#f73c01"/>
<path d="M663.5 271.4L661.1 277.4L659.9 276.9L662.8 271.1Z" fill="#f02200"/>
<path d="M661.3 277.0L658.9 283.0L657.3 282.2L660.1 276.5Z" fill="#ec1202"/>
<path d="M659.0 282.6L656.7 288.5L654.6 287.6L657.5 281.9Z" fill="#e70900"/>
<path d="M656.8 288.2L654.9 293.0L652.5 291.9L654.8 287.3Z" fill="#e20200"/>
<path d="M665.4 265.8L662.7 271.5L661.9 271.1L665.1 265.6Z" fill="#f73c00"/>
<path d="M662.8 271.2L660.0 276.9L658.9 276.3L662.1 270.8Z" fill="#f22802"/>
<path d="M660.2 276.6L657.4 282.3L655.9 281.5L659.1 276.0Z" fill="#ec1302"/>
<path d="M657.6 282.0L654.8 287.7L652.9 286.7L656.1 281.1Z" fill="#e70b01"/>
<path d="M655.0 287.4L652.4 292.6L650.1 291.4L653.1 286.3Z" fill="#e30401"/>
</g>
</g>
<path d="M673.0 248.9L690.7 208.6" stroke="#fff" stroke-width="1.0"/>
<path d="M673.6 249.2L693.3 209.8" stroke="#fff" stroke-width="0.6"/>
<path d="M659.2 258.0L632.7 246.2" stroke="#f40" stroke-width="1" stroke-dasharray="1.2 1.6"/>
<ellipse cx="597.8" cy="276.8" rx="4.6" ry="1.3" fill="#ff9a10" transform="rotate(-10 597.8 276.8)"/>
<clipPath id="cf0"><path d="M503.2 270.3L507.4 270.3L509.9 275.6L508.4 286.1L510.5 298.8L514.8 304.0L513.7 307.2L507.4 304.0L502.8 296.7L500.6 289.3L502.1 279.8Z"/></clipPath>
<g clip-path="url(#cf0)" shape-rendering="crispEdges"><path d="M503.2 270.3L507.4 270.3L509.9 275.6L508.4 286.1L510.5 298.8L514.8 304.0L513.7 307.2L507.4 304.0L502.8 296.7L500.6 289.3L502.1 279.8Z" fill="#14145a"/><path d="M505.4 269.7L509.6 269.7L512.1 275.0L510.6 285.5L512.7 298.2L517.0 303.4L515.9 306.6L509.6 303.4L505.0 296.1L502.8 288.7L504.3 279.2Z" fill="#e60000"/></g>
<clipPath id="cf1"><path d="M523.2 301.9L529.5 300.5L533.7 305.1L534.4 311.4L530.6 316.7L525.3 319.4L519.0 322.4L525.3 317.7L528.0 311.4L526.8 305.1Z"/></clipPath>
<g clip-path="url(#cf1)" shape-rendering="crispEdges"><path d="M523.2 301.9L529.5 300.5L533.7 305.1L534.4 311.4L530.6 316.7L525.3 319.4L519.0 322.4L525.3 317.7L528.0 311.4L526.8 305.1Z" fill="#14145a"/><path d="M525.2 301.1L531.5 299.7L535.7 304.3L536.4 310.6L532.6 315.9L527.3 318.6L521.0 321.6L527.3 316.9L530.0 310.6L528.8 304.3Z" fill="#e60000"/></g>
<clipPath id="cf2"><path d="M504.2 328.3L511.6 326.2L517.9 328.3L521.1 334.6L525.3 336.7L530.6 335.6L534.4 339.9L536.9 346.2L530.6 349.3L527.4 345.1L525.3 339.9L521.1 338.8L519.0 343.0L515.4 339.9L513.7 333.5L509.5 329.9Z"/></clipPath>
<g clip-path="url(#cf2)" shape-rendering="crispEdges"><path d="M504.2 328.3L511.6 326.2L517.9 328.3L521.1 334.6L525.3 336.7L530.6 335.6L534.4 339.9L536.9 346.2L530.6 349.3L527.4 345.1L525.3 339.9L521.1 338.8L519.0 343.0L515.4 339.9L513.7 333.5L509.5 329.9Z" fill="#14145a"/><path d="M505.8 326.7L513.2 324.6L519.5 326.7L522.7 333.0L526.9 335.1L532.2 334.0L536.0 338.3L538.5 344.6L532.2 347.7L529.0 343.5L526.9 338.3L522.7 337.2L520.6 341.4L517.0 338.3L515.3 331.9L511.1 328.3Z" fill="#e60000"/></g>
<clipPath id="cf3"><path d="M657.6 282.4L661.4 277.5L665.3 281.4L669.2 287.2L671.1 294.0L667.2 292.0L662.4 287.2L658.5 285.3Z"/></clipPath>
<g clip-path="url(#cf3)" shape-rendering="crispEdges"><path d="M657.6 282.4L661.4 277.5L665.3 281.4L669.2 287.2L671.1 294.0L667.2 292.0L662.4 287.2L658.5 285.3Z" fill="#14145a"/><path d="M659.1 280.9L662.9 276.0L666.8 279.9L670.7 285.7L672.6 292.5L668.7 290.5L663.9 285.7L660.0 283.8Z" fill="#e60000"/></g>
<clipPath id="cf4"><path d="M667.6 292.0L672.1 295.9L675.0 301.7L677.9 306.5L681.7 304.6L682.7 310.4L686.5 316.2L689.4 321.0L692.3 326.8L693.3 329.7L690.4 326.8L686.5 321.0L683.6 316.2L680.7 314.2L677.9 310.4L675.0 306.5L672.1 300.7L668.8 295.5Z"/></clipPath>
<g clip-path="url(#cf4)" shape-rendering="crispEdges"><path d="M667.6 292.0L672.1 295.9L675.0 301.7L677.9 306.5L681.7 304.6L682.7 310.4L686.5 316.2L689.4 321.0L692.3 326.8L693.3 329.7L690.4 326.8L686.5 321.0L683.6 316.2L680.7 314.2L677.9 310.4L675.0 306.5L672.1 300.7L668.8 295.5Z" fill="#14145a"/><path d="M666.0 291.0L670.5 294.9L673.4 300.7L676.3 305.5L680.1 303.6L681.1 309.4L684.9 315.2L687.8 320.0L690.7 325.8L691.7 328.7L688.8 325.8L684.9 320.0L682.0 315.2L679.1 313.2L676.3 309.4L673.4 305.5L670.5 299.7L667.2 294.5Z" fill="#e60000"/></g>
<clipPath id="cf5"><path d="M694.3 331.6L699.1 329.7L702.0 325.8L703.9 328.7L703.5 333.5L700.1 335.5L698.1 339.3L696.6 337.4L695.2 334.5Z"/></clipPath>
<g clip-path="url(#cf5)" shape-rendering="crispEdges"><path d="M694.3 331.6L699.1 329.7L702.0 325.8L703.9 328.7L703.5 333.5L700.1 335.5L698.1 339.3L696.6 337.4L695.2 334.5Z" fill="#14145a"/><path d="M692.8 330.4L697.6 328.5L700.5 324.6L702.4 327.5L702.0 332.3L698.6 334.3L696.6 338.1L695.1 336.2L693.7 333.3Z" fill="#e60000"/></g>
<clipPath id="cf6"><path d="M706.8 338.4L710.7 337.4L714.5 340.3L715.9 344.2L712.6 344.2L710.7 348.0L709.3 355.7L710.3 365.4L707.8 362.5L705.8 355.7L706.2 347.0Z"/></clipPath>
<g clip-path="url(#cf6)" shape-rendering="crispEdges"><path d="M706.8 338.4L710.7 337.4L714.5 340.3L715.9 344.2L712.6 344.2L710.7 348.0L709.3 355.7L710.3 365.4L707.8 362.5L705.8 355.7L706.2 347.0Z" fill="#14145a"/><path d="M704.4 337.9L708.3 336.9L712.1 339.8L713.5 343.7L710.2 343.7L708.3 347.5L706.9 355.2L707.9 364.9L705.4 362.0L703.4 355.2L703.8 346.5Z" fill="#e60000"/></g>
<clipPath id="cf7"><path d="M719.0 347.0L722.3 347.0L725.2 349.9L728.0 352.8L730.9 348.0L734.8 346.1L739.6 347.0L743.5 344.2L748.3 346.1L751.8 349.9L749.3 351.9L744.5 352.8L740.6 351.9L736.7 354.8L735.8 361.5L734.4 364.4L731.9 359.6L730.0 355.7L727.1 354.8L723.2 354.8L720.3 350.9Z"/></clipPath>
<g clip-path="url(#cf7)" shape-rendering="crispEdges"><path d="M719.0 347.0L722.3 347.0L725.2 349.9L728.0 352.8L730.9 348.0L734.8 346.1L739.6 347.0L743.5 344.2L748.3 346.1L751.8 349.9L749.3 351.9L744.5 352.8L740.6 351.9L736.7 354.8L735.8 361.5L734.4 364.4L731.9 359.6L730.0 355.7L727.1 354.8L723.2 354.8L720.3 350.9Z" fill="#14145a"/><path d="M717.5 343.8L720.8 343.8L723.7 346.7L726.5 349.6L729.4 344.8L733.3 342.9L738.1 343.8L742.0 341.0L746.8 342.9L750.3 346.7L747.8 348.7L743.0 349.6L739.1 348.7L735.2 351.6L734.3 358.3L732.9 361.2L730.4 356.4L728.5 352.5L725.6 351.6L721.7 351.6L718.8 347.7Z" fill="#e60000"/></g>
<clipPath id="cf8"><path d="M624.8 320.1L628.8 314.3L630.6 316.1L626.7 321.4Z"/></clipPath>
<g clip-path="url(#cf8)" shape-rendering="crispEdges"><path d="M624.8 320.1L628.8 314.3L630.6 316.1L626.7 321.4Z" fill="#14145a"/><path d="M625.6 319.3L629.6 313.5L631.4 315.3L627.5 320.6Z" fill="#e60000"/></g>
<circle cx="667.4" cy="261.7" r="4.6" fill="#fff"/>
</g>
<rect x="59" y="74.4" width="374.6" height="374.6" fill="none" stroke="#000" stroke-width="1.8"/>
<path d="M59.00 74.4v-14.4M59.00 449v14.4M59 449.00h-14.4M433.6 449.00h14.4M152.65 74.4v-14.4M152.65 449v14.4M59 355.35h-14.4M433.6 355.35h14.4M246.30 74.4v-14.4M246.30 449v14.4M59 261.70h-14.4M433.6 261.70h14.4M339.95 74.4v-14.4M339.95 449v14.4M59 168.05h-14.4M433.6 168.05h14.4M433.60 74.4v-14.4M433.60 449v14.4M59 74.40h-14.4M433.6 74.40h14.4" stroke="#000" stroke-width="1.8" fill="none"/>
<path d="M70.71 74.4v-7M70.71 449v7M59 437.29h-7M433.6 437.29h7M82.41 74.4v-7M82.41 449v7M59 425.59h-7M433.6 425.59h7M94.12 74.4v-7M94.12 449v7M59 413.88h-7M433.6 413.88h7M105.83 74.4v-7M105.83 449v7M59 402.18h-7M433.6 402.18h7M117.53 74.4v-7M117.53 449v7M59 390.47h-7M433.6 390.47h7M129.24 74.4v-7M129.24 449v7M59 378.76h-7M433.6 378.76h7M140.94 74.4v-7M140.94 449v7M59 367.06h-7M433.6 367.06h7M164.36 74.4v-7M164.36 449v7M59 343.64h-7M433.6 343.64h7M176.06 74.4v-7M176.06 449v7M59 331.94h-7M433.6 331.94h7M187.77 74.4v-7M187.77 449v7M59 320.23h-7M433.6 320.23h7M199.48 74.4v-7M199.48 449v7M59 308.52h-7M433.6 308.52h7M211.18 74.4v-7M211.18 449v7M59 296.82h-7M433.6 296.82h7M222.89 74.4v-7M222.89 449v7M59 285.11h-7M433.6 285.11h7M234.59 74.4v-7M234.59 449v7M59 273.41h-7M433.6 273.41h7M258.01 74.4v-7M258.01 449v7M59 249.99h-7M433.6 249.99h7M269.71 74.4v-7M269.71 449v7M59 238.29h-7M433.6 238.29h7M281.42 74.4v-7M281.42 449v7M59 226.58h-7M433.6 226.58h7M293.12 74.4v-7M293.12 449v7M59 214.88h-7M433.6 214.88h7M304.83 74.4v-7M304.83 449v7M59 203.17h-7M433.6 203.17h7M316.54 74.4v-7M316.54 449v7M59 191.46h-7M433.6 191.46h7M328.24 74.4v-7M328.24 449v7M59 179.76h-7M433.6 179.76h7M351.66 74.4v-7M351.66 449v7M59 156.34h-7M433.6 156.34h7M363.36 74.4v-7M363.36 449v7M59 144.64h-7M433.6 144.64h7M375.07 74.4v-7M375.07 449v7M59 132.93h-7M433.6 132.93h7M386.78 74.4v-7M386.78 449v7M59 121.22h-7M433.6 121.22h7M398.48 74.4v-7M398.48 449v7M59 109.52h-7M433.6 109.52h7M410.19 74.4v-7M410.19 449v7M59 97.81h-7M433.6 97.81h7M421.89 74.4v-7M421.89 449v7M59 86.11h-7M433.6 86.11h7" stroke="#000" stroke-width="1.1" fill="none"/>
<rect x="480" y="74.4" width="374.6" height="374.6" fill="none" stroke="#000" stroke-width="1.8"/>
<path d="M480.00 74.4v-14.4M480.00 449v14.4M480 449.00h-14.4M854.6 449.00h14.4M573.65 74.4v-14.4M573.65 449v14.4M480 355.35h-14.4M854.6 355.35h14.4M667.30 74.4v-14.4M667.30 449v14.4M480 261.70h-14.4M854.6 261.70h14.4M760.95 74.4v-14.4M760.95 449v14.4M480 168.05h-14.4M854.6 168.05h14.4M854.60 74.4v-14.4M854.60 449v14.4M480 74.40h-14.4M854.6 74.40h14.4" stroke="#000" stroke-width="1.8" fill="none"/>
<path d="M491.71 74.4v-7M491.71 449v7M480 437.29h-7M854.6 437.29h7M503.41 74.4v-7M503.41 449v7M480 425.59h-7M854.6 425.59h7M515.12 74.4v-7M515.12 449v7M480 413.88h-7M854.6 413.88h7M526.83 74.4v-7M526.83 449v7M480 402.18h-7M854.6 402.18h7M538.53 74.4v-7M538.53 449v7M480 390.47h-7M854.6 390.47h7M550.24 74.4v-7M550.24 449v7M480 378.76h-7M854.6 378.76h7M561.94 74.4v-7M561.94 449v7M480 367.06h-7M854.6 367.06h7M585.36 74.4v-7M585.36 449v7M480 343.64h-7M854.6 343.64h7M597.06 74.4v-7M597.06 449v7M480 331.94h-7M854.6 331.94h7M608.77 74.4v-7M608.77 449v7M480 320.23h-7M854.6 320.23h7M620.48 74.4v-7M620.48 449v7M480 308.52h-7M854.6 308.52h7M632.18 74.4v-7M632.18 449v7M480 296.82h-7M854.6 296.82h7M643.89 74.4v-7M643.89 449v7M480 285.11h-7M854.6 285.11h7M655.59 74.4v-7M655.59 449v7M480 273.41h-7M854.6 273.41h7M679.01 74.4v-7M679.01 449v7M480 249.99h-7M854.6 249.99h7M690.71 74.4v-7M690.71 449v7M480 238.29h-7M854.6 238.29h7M702.42 74.4v-7M702.42 449v7M480 226.58h-7M854.6 226.58h7M714.12 74.4v-7M714.12 449v7M480 214.88h-7M854.6 214.88h7M725.83 74.4v-7M725.83 449v7M480 203.17h-7M854.6 203.17h7M737.54 74.4v-7M737.54 449v7M480 191.46h-7M854.6 191.46h7M749.24 74.4v-7M749.24 449v7M480 179.76h-7M854.6 179.76h7M772.66 74.4v-7M772.66 449v7M480 156.34h-7M854.6 156.34h7M784.36 74.4v-7M784.36 449v7M480 144.64h-7M854.6 144.64h7M796.07 74.4v-7M796.07 449v7M480 132.93h-7M854.6 132.93h7M807.78 74.4v-7M807.78 449v7M480 121.22h-7M854.6 121.22h7M819.48 74.4v-7M819.48 449v7M480 109.52h-7M854.6 109.52h7M831.19 74.4v-7M831.19 449v7M480 97.81h-7M854.6 97.81h7M842.89 74.4v-7M842.89 449v7M480 86.11h-7M854.6 86.11h7" stroke="#000" stroke-width="1.1" fill="none"/>
<text x="60.3" y="24.6" font-size="33.8" text-anchor="start" stroke="#000" stroke-width="0.4" textLength="522.5" lengthAdjust="spacingAndGlyphs">Fukuoka, 20181108 [20:39, el=0.0]</text>
<text x="59.6" y="58.1" font-size="30" text-anchor="start" stroke="#000" stroke-width="0.4" textLength="119.5" lengthAdjust="spacingAndGlyphs">SNR [dB]</text>
<text x="480.3" y="58.1" font-size="30" text-anchor="start" stroke="#000" stroke-width="0.4" textLength="311.5" lengthAdjust="spacingAndGlyphs">Doppler Velocity [m/s]</text>
<text transform="translate(59.0 500.9) scale(0.92 1)" font-size="31.5" text-anchor="middle" stroke="#000" stroke-width="0.5">−8</text>
<text transform="translate(152.7 500.9) scale(0.92 1)" font-size="31.5" text-anchor="middle" stroke="#000" stroke-width="0.5">−4</text>
<text transform="translate(246.3 500.9) scale(0.92 1)" font-size="31.5" text-anchor="middle" stroke="#000" stroke-width="0.5">0</text>
<text transform="translate(340.0 500.9) scale(0.92 1)" font-size="31.5" text-anchor="middle" stroke="#000" stroke-width="0.5">4</text>
<text transform="translate(433.6 500.9) scale(0.92 1)" font-size="31.5" text-anchor="middle" stroke="#000" stroke-width="0.5">8</text>
<text transform="translate(480.0 500.9) scale(0.92 1)" font-size="31.5" text-anchor="middle" stroke="#000" stroke-width="0.5">−8</text>
<text transform="translate(573.6 500.9) scale(0.92 1)" font-size="31.5" text-anchor="middle" stroke="#000" stroke-width="0.5">−4</text>
<text transform="translate(667.3 500.9) scale(0.92 1)" font-size="31.5" text-anchor="middle" stroke="#000" stroke-width="0.5">0</text>
<text transform="translate(761.0 500.9) scale(0.92 1)" font-size="31.5" text-anchor="middle" stroke="#000" stroke-width="0.5">4</text>
<text transform="translate(854.6 500.9) scale(0.92 1)" font-size="31.5" text-anchor="middle" stroke="#000" stroke-width="0.5">8</text>
<text transform="translate(31.3 460.2) scale(0.92 1)" font-size="31.5" text-anchor="end" stroke="#000" stroke-width="0.5">−8</text>
<text transform="translate(31.3 366.6) scale(0.92 1)" font-size="31.5" text-anchor="end" stroke="#000" stroke-width="0.5">−4</text>
<text transform="translate(31.3 272.9) scale(0.92 1)" font-size="31.5" text-anchor="end" stroke="#000" stroke-width="0.5">0</text>
<text transform="translate(31.3 179.2) scale(0.92 1)" font-size="31.5" text-anchor="end" stroke="#000" stroke-width="0.5">4</text>
<text transform="translate(31.3 85.6) scale(0.92 1)" font-size="31.5" text-anchor="end" stroke="#000" stroke-width="0.5">8</text>
<rect x="59.00" y="509.0" width="9.40" height="10.200000000000045" fill="rgb(0,0,0)"/>
<rect x="68.10" y="509.0" width="9.40" height="10.200000000000045" fill="rgb(0,0,0)"/>
<rect x="77.20" y="509.0" width="9.40" height="10.200000000000045" fill="rgb(0,0,0)"/>
<rect x="86.30" y="509.0" width="9.40" height="10.200000000000045" fill="rgb(0,0,0)"/>
<rect x="95.40" y="509.0" width="9.40" height="10.200000000000045" fill="rgb(0,0,0)"/>
<rect x="104.50" y="509.0" width="9.40" height="10.200000000000045" fill="rgb(0,0,0)"/>
<rect x="113.60" y="509.0" width="9.40" height="10.200000000000045" fill="rgb(0,0,0)"/>
<rect x="122.70" y="509.0" width="9.40" height="10.200000000000045" fill="rgb(0,0,0)"/>
<rect x="131.80" y="509.0" width="9.40" height="10.200000000000045" fill="rgb(0,0,0)"/>
<rect x="140.90" y="509.0" width="9.40" height="10.200000000000045" fill="rgb(5,5,5)"/>
<rect x="150.00" y="509.0" width="9.40" height="10.200000000000045" fill="rgb(14,14,14)"/>
<rect x="159.10" y="509.0" width="9.40" height="10.200000000000045" fill="rgb(24,24,24)"/>
<rect x="168.20" y="509.0" width="9.40" height="10.200000000000045" fill="rgb(33,33,33)"/>
<rect x="177.30" y="509.0" width="9.40" height="10.200000000000045" fill="rgb(43,43,43)"/>
<rect x="186.40" y="509.0" width="9.40" height="10.200000000000045" fill="rgb(52,52,52)"/>
<rect x="195.50" y="509.0" width="9.40" height="10.200000000000045" fill="rgb(62,62,62)"/>
<rect x="204.60" y="509.0" width="9.40" height="10.200000000000045" fill="rgb(71,71,71)"/>
<rect x="213.70" y="509.0" width="9.40" height="10.200000000000045" fill="rgb(81,81,81)"/>
<rect x="222.80" y="509.0" width="9.40" height="10.200000000000045" fill="rgb(90,90,90)"/>
<rect x="231.90" y="509.0" width="9.40" height="10.200000000000045" fill="rgb(100,100,100)"/>
<rect x="241.00" y="509.0" width="9.40" height="10.200000000000045" fill="rgb(109,109,109)"/>
<rect x="250.10" y="509.0" width="9.40" height="10.200000000000045" fill="rgb(119,119,119)"/>
<rect x="259.20" y="509.0" width="9.40" height="10.200000000000045" fill="rgb(128,128,128)"/>
<rect x="268.30" y="509.0" width="9.40" height="10.200000000000045" fill="rgb(138,138,138)"/>
<rect x="277.40" y="509.0" width="9.40" height="10.200000000000045" fill="rgb(147,147,147)"/>
<rect x="286.50" y="509.0" width="9.40" height="10.200000000000045" fill="rgb(157,157,157)"/>
<rect x="295.60" y="509.0" width="9.40" height="10.200000000000045" fill="rgb(167,167,167)"/>
<rect x="304.70" y="509.0" width="9.40" height="10.200000000000045" fill="rgb(176,176,176)"/>
<rect x="313.80" y="509.0" width="9.40" height="10.200000000000045" fill="rgb(186,186,186)"/>
<rect x="322.90" y="509.0" width="9.40" height="10.200000000000045" fill="rgb(195,195,195)"/>
<rect x="332.00" y="509.0" width="9.40" height="10.200000000000045" fill="rgb(205,205,205)"/>
<rect x="341.10" y="509.0" width="9.40" height="10.200000000000045" fill="rgb(214,214,214)"/>
<rect x="350.20" y="509.0" width="9.40" height="10.200000000000045" fill="rgb(224,224,224)"/>
<rect x="359.30" y="509.0" width="9.40" height="10.200000000000045" fill="rgb(233,233,233)"/>
<rect x="368.40" y="509.0" width="9.40" height="10.200000000000045" fill="rgb(243,243,243)"/>
<rect x="377.50" y="509.0" width="9.40" height="10.200000000000045" fill="rgb(252,252,252)"/>
<path d="M68.10 509.0V519.2M77.20 509.0V519.2M86.30 509.0V519.2M95.40 509.0V519.2M104.50 509.0V519.2M113.60 509.0V519.2M122.70 509.0V519.2M131.80 509.0V519.2M140.90 509.0V519.2M150.00 509.0V519.2M159.10 509.0V519.2M168.20 509.0V519.2M177.30 509.0V519.2M186.40 509.0V519.2M195.50 509.0V519.2M204.60 509.0V519.2M213.70 509.0V519.2M222.80 509.0V519.2M231.90 509.0V519.2M241.00 509.0V519.2M250.10 509.0V519.2M259.20 509.0V519.2M268.30 509.0V519.2M277.40 509.0V519.2M286.50 509.0V519.2M295.60 509.0V519.2M304.70 509.0V519.2M313.80 509.0V519.2M322.90 509.0V519.2M332.00 509.0V519.2M341.10 509.0V519.2M350.20 509.0V519.2M359.30 509.0V519.2M368.40 509.0V519.2M377.50 509.0V519.2" stroke="#000" stroke-width="1.4" fill="none"/>
<path d="M386.60 509.0L395.90 514.1L386.60 519.2Z" fill="#ffff00"/>
<path d="M59.00 509.0H386.60L395.90 514.1L386.60 519.2H59.00ZM386.60 509.0V519.2" stroke="#000" stroke-width="1.9" fill="none" stroke-linejoin="miter"/>
<path d="M59.00 519.2V533.6M104.50 519.2V533.6M150.00 519.2V533.6M195.50 519.2V533.6M241.00 519.2V533.6M286.50 519.2V533.6M332.00 519.2V533.6M377.50 519.2V533.6" stroke="#000" stroke-width="1.8"/>
<path d="M68.10 519.2V526.3M77.20 519.2V526.3M86.30 519.2V526.3M95.40 519.2V526.3M113.60 519.2V526.3M122.70 519.2V526.3M131.80 519.2V526.3M140.90 519.2V526.3M159.10 519.2V526.3M168.20 519.2V526.3M177.30 519.2V526.3M186.40 519.2V526.3M204.60 519.2V526.3M213.70 519.2V526.3M222.80 519.2V526.3M231.90 519.2V526.3M250.10 519.2V526.3M259.20 519.2V526.3M268.30 519.2V526.3M277.40 519.2V526.3M295.60 519.2V526.3M304.70 519.2V526.3M313.80 519.2V526.3M322.90 519.2V526.3M341.10 519.2V526.3M350.20 519.2V526.3M359.30 519.2V526.3M368.40 519.2V526.3M386.60 519.2V526.3" stroke="#000" stroke-width="1.35"/>
<text transform="translate(59.0 570.6) scale(0.92 1)" font-size="31.5" text-anchor="middle" stroke="#000" stroke-width="0.5">0</text>
<text transform="translate(104.5 570.6) scale(0.92 1)" font-size="31.5" text-anchor="middle" stroke="#000" stroke-width="0.5">2.5</text>
<text transform="translate(150.0 570.6) scale(0.92 1)" font-size="31.5" text-anchor="middle" stroke="#000" stroke-width="0.5">5</text>
<text transform="translate(195.5 570.6) scale(0.92 1)" font-size="31.5" text-anchor="middle" stroke="#000" stroke-width="0.5">7.5</text>
<text transform="translate(241.0 570.6) scale(0.92 1)" font-size="31.5" text-anchor="middle" stroke="#000" stroke-width="0.5">10</text>
<text transform="translate(286.5 570.6) scale(0.92 1)" font-size="31.5" text-anchor="middle" stroke="#000" stroke-width="0.5">12.5</text>
<text transform="translate(332.0 570.6) scale(0.92 1)" font-size="31.5" text-anchor="middle" stroke="#000" stroke-width="0.5">15</text>
<text transform="translate(377.5 570.6) scale(0.92 1)" font-size="31.5" text-anchor="middle" stroke="#000" stroke-width="0.5">17.5</text>
<rect x="480.12" y="509.0" width="8.93" height="10.200000000000045" fill="rgb(210,250,255)"/>
<rect x="488.75" y="509.0" width="8.93" height="10.200000000000045" fill="rgb(190,250,255)"/>
<rect x="497.38" y="509.0" width="8.93" height="10.200000000000045" fill="rgb(160,250,255)"/>
<rect x="506.00" y="509.0" width="8.93" height="10.200000000000045" fill="rgb(130,250,250)"/>
<rect x="514.62" y="509.0" width="8.93" height="10.200000000000045" fill="rgb(110,245,250)"/>
<rect x="523.25" y="509.0" width="8.93" height="10.200000000000045" fill="rgb(70,215,245)"/>
<rect x="531.88" y="509.0" width="8.93" height="10.200000000000045" fill="rgb(50,190,245)"/>
<rect x="540.50" y="509.0" width="8.93" height="10.200000000000045" fill="rgb(40,165,245)"/>
<rect x="549.12" y="509.0" width="8.93" height="10.200000000000045" fill="rgb(30,140,245)"/>
<rect x="557.75" y="509.0" width="8.93" height="10.200000000000045" fill="rgb(25,110,245)"/>
<rect x="566.38" y="509.0" width="8.93" height="10.200000000000045" fill="rgb(20,85,245)"/>
<rect x="575.00" y="509.0" width="8.93" height="10.200000000000045" fill="rgb(10,50,245)"/>
<rect x="583.62" y="509.0" width="8.93" height="10.200000000000045" fill="rgb(5,20,250)"/>
<rect x="592.25" y="509.0" width="8.93" height="10.200000000000045" fill="rgb(0,0,240)"/>
<rect x="600.88" y="509.0" width="8.93" height="10.200000000000045" fill="rgb(0,0,215)"/>
<rect x="609.50" y="509.0" width="8.93" height="10.200000000000045" fill="rgb(0,0,185)"/>
<rect x="618.12" y="509.0" width="8.93" height="10.200000000000045" fill="rgb(0,0,160)"/>
<rect x="626.75" y="509.0" width="8.93" height="10.200000000000045" fill="rgb(0,0,130)"/>
<rect x="635.38" y="509.0" width="8.93" height="10.200000000000045" fill="rgb(0,0,100)"/>
<rect x="644.00" y="509.0" width="8.93" height="10.200000000000045" fill="rgb(235,0,0)"/>
<rect x="652.62" y="509.0" width="8.93" height="10.200000000000045" fill="rgb(250,20,0)"/>
<rect x="661.25" y="509.0" width="8.93" height="10.200000000000045" fill="rgb(255,45,0)"/>
<rect x="669.88" y="509.0" width="8.93" height="10.200000000000045" fill="rgb(255,70,0)"/>
<rect x="678.50" y="509.0" width="8.93" height="10.200000000000045" fill="rgb(255,95,0)"/>
<rect x="687.12" y="509.0" width="8.93" height="10.200000000000045" fill="rgb(255,115,0)"/>
<rect x="695.75" y="509.0" width="8.93" height="10.200000000000045" fill="rgb(255,135,0)"/>
<rect x="704.38" y="509.0" width="8.93" height="10.200000000000045" fill="rgb(255,160,10)"/>
<rect x="713.00" y="509.0" width="8.93" height="10.200000000000045" fill="rgb(255,185,30)"/>
<rect x="721.62" y="509.0" width="8.93" height="10.200000000000045" fill="rgb(255,200,50)"/>
<rect x="730.25" y="509.0" width="8.93" height="10.200000000000045" fill="rgb(255,220,60)"/>
<rect x="738.88" y="509.0" width="8.93" height="10.200000000000045" fill="rgb(255,245,70)"/>
<rect x="747.50" y="509.0" width="8.93" height="10.200000000000045" fill="rgb(255,255,100)"/>
<rect x="756.12" y="509.0" width="8.93" height="10.200000000000045" fill="rgb(255,255,120)"/>
<rect x="764.75" y="509.0" width="8.93" height="10.200000000000045" fill="rgb(255,255,150)"/>
<rect x="773.38" y="509.0" width="8.93" height="10.200000000000045" fill="rgb(255,255,170)"/>
<rect x="782.00" y="509.0" width="8.93" height="10.200000000000045" fill="rgb(255,255,190)"/>
<rect x="790.62" y="509.0" width="8.93" height="10.200000000000045" fill="rgb(255,255,205)"/>
<rect x="799.25" y="509.0" width="8.93" height="10.200000000000045" fill="rgb(255,255,220)"/>
<path d="M488.75 509.0V519.2M497.38 509.0V519.2M506.00 509.0V519.2M514.62 509.0V519.2M523.25 509.0V519.2M531.88 509.0V519.2M540.50 509.0V519.2M549.12 509.0V519.2M557.75 509.0V519.2M566.38 509.0V519.2M575.00 509.0V519.2M583.62 509.0V519.2M592.25 509.0V519.2M600.88 509.0V519.2M609.50 509.0V519.2M618.12 509.0V519.2M626.75 509.0V519.2M635.38 509.0V519.2M644.00 509.0V519.2M652.62 509.0V519.2M661.25 509.0V519.2M669.88 509.0V519.2M678.50 509.0V519.2M687.12 509.0V519.2M695.75 509.0V519.2M704.38 509.0V519.2M713.00 509.0V519.2M721.62 509.0V519.2M730.25 509.0V519.2M738.88 509.0V519.2M747.50 509.0V519.2M756.12 509.0V519.2M764.75 509.0V519.2M773.38 509.0V519.2M782.00 509.0V519.2M790.62 509.0V519.2M799.25 509.0V519.2" stroke="#000" stroke-width="1.4" fill="none"/>
<path d="M807.88 509.0L817.17 514.1L807.88 519.2Z" fill="#ffffeb"/>
<path d="M480.12 509.0L470.82 514.1L480.12 519.2Z" fill="#e0fbff"/>
<path d="M480.12 509.0H807.88L817.17 514.1L807.88 519.2H480.12L470.82 514.1ZM807.88 509.0V519.2M480.12 509.0V519.2" stroke="#000" stroke-width="1.9" fill="none" stroke-linejoin="miter"/>
<path d="M506.00 519.2V533.6M575.00 519.2V533.6M644.00 519.2V533.6M713.00 519.2V533.6M782.00 519.2V533.6" stroke="#000" stroke-width="1.8"/>
<path d="M480.12 519.2V526.3M488.75 519.2V526.3M497.38 519.2V526.3M514.62 519.2V526.3M523.25 519.2V526.3M531.88 519.2V526.3M540.50 519.2V526.3M549.12 519.2V526.3M557.75 519.2V526.3M566.38 519.2V526.3M583.62 519.2V526.3M592.25 519.2V526.3M600.88 519.2V526.3M609.50 519.2V526.3M618.12 519.2V526.3M626.75 519.2V526.3M635.38 519.2V526.3M652.62 519.2V526.3M661.25 519.2V526.3M669.88 519.2V526.3M678.50 519.2V526.3M687.12 519.2V526.3M695.75 519.2V526.3M704.38 519.2V526.3M721.62 519.2V526.3M730.25 519.2V526.3M738.88 519.2V526.3M747.50 519.2V526.3M756.12 519.2V526.3M764.75 519.2V526.3M773.38 519.2V526.3M790.62 519.2V526.3M799.25 519.2V526.3M807.88 519.2V526.3" stroke="#000" stroke-width="1.35"/>
<text transform="translate(506.0 570.6) scale(0.92 1)" font-size="31.5" text-anchor="middle" stroke="#000" stroke-width="0.5">−8</text>
<text transform="translate(575.0 570.6) scale(0.92 1)" font-size="31.5" text-anchor="middle" stroke="#000" stroke-width="0.5">−4</text>
<text transform="translate(644.0 570.6) scale(0.92 1)" font-size="31.5" text-anchor="middle" stroke="#000" stroke-width="0.5">0</text>
<text transform="translate(713.0 570.6) scale(0.92 1)" font-size="31.5" text-anchor="middle" stroke="#000" stroke-width="0.5">4</text>
<text transform="translate(782.0 570.6) scale(0.92 1)" font-size="31.5" text-anchor="middle" stroke="#000" stroke-width="0.5">8</text>
</svg>
</body></html>
